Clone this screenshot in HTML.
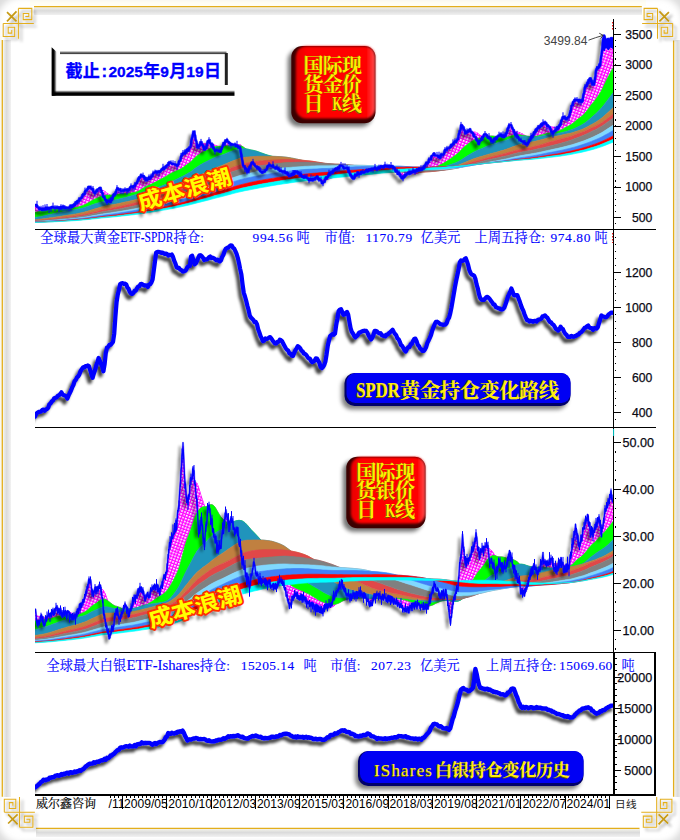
<!DOCTYPE html>
<html><head><meta charset="utf-8"><title>chart</title>
<style>
html,body{margin:0;padding:0;background:#fff;}
body{width:680px;height:840px;overflow:hidden;font-family:"Liberation Sans",sans-serif;}
svg{display:block;}
.ws use{vector-effect:none;}
</style></head><body>
<svg width="680" height="840" viewBox="0 0 680 840">
<defs>
<filter id="lsh" x="-5%" y="-20%" width="110%" height="140%"><feGaussianBlur in="SourceAlpha" stdDeviation="1.5" result="b"/><feOffset in="b" dx="-3.5" dy="3.5" result="o"/><feComponentTransfer in="o" result="s"><feFuncA type="linear" slope="0.6"/></feComponentTransfer><feMerge><feMergeNode in="s"/><feMergeNode in="SourceGraphic"/></feMerge></filter>
<filter id="lsh2" x="-5%" y="-20%" width="110%" height="140%"><feGaussianBlur in="SourceAlpha" stdDeviation="1.4" result="b"/><feOffset in="b" dx="-3.5" dy="3.5" result="o"/><feComponentTransfer in="o" result="s"><feFuncA type="linear" slope="0.75"/></feComponentTransfer><feMerge><feMergeNode in="s"/><feMergeNode in="SourceGraphic"/></feMerge></filter>
<filter id="ornsh" x="-20%" y="-20%" width="150%" height="150%"><feGaussianBlur in="SourceAlpha" stdDeviation="1.6" result="b"/><feOffset in="b" dx="2.5" dy="2.5" result="o"/><feComponentTransfer in="o" result="s"><feFuncA type="linear" slope="0.35"/></feComponentTransfer><feMerge><feMergeNode in="s"/><feMergeNode in="SourceGraphic"/></feMerge></filter>
<filter id="blur05" x="-10%" y="-10%" width="120%" height="120%"><feGaussianBlur stdDeviation="0.5"/></filter>
<filter id="blur1" x="-10%" y="-10%" width="120%" height="120%"><feGaussianBlur stdDeviation="1"/></filter>
<filter id="blur15" x="-10%" y="-30%" width="120%" height="160%"><feGaussianBlur stdDeviation="1.5"/></filter>
<filter id="blur2" x="-10%" y="-20%" width="120%" height="140%"><feGaussianBlur stdDeviation="2"/></filter>
<filter id="blur3" x="-10%" y="-10%" width="120%" height="120%"><feGaussianBlur stdDeviation="3"/></filter>
<linearGradient id="redg" x1="0" y1="0" x2="1" y2="0"><stop offset="0" stop-color="#e80000"/><stop offset="0.15" stop-color="#ff0000"/><stop offset="0.9" stop-color="#ff0505"/><stop offset="1" stop-color="#ff5050"/></linearGradient>
<pattern id="hatch" width="3" height="3" patternUnits="userSpaceOnUse" patternTransform="rotate(20)"><rect x="0" y="0" width="1.8" height="1.7" fill="#fff"/></pattern>
<linearGradient id="dbt" x1="0" y1="0" x2="0" y2="1"><stop offset="0" stop-color="#bbb"/><stop offset="0.6" stop-color="#555"/><stop offset="1" stop-color="#333"/></linearGradient>
<linearGradient id="dbl" x1="0" y1="0" x2="1" y2="0"><stop offset="0" stop-color="#000"/><stop offset="0.45" stop-color="#000"/><stop offset="1" stop-color="#000" stop-opacity="0"/></linearGradient>
<linearGradient id="dbb" x1="0" y1="1" x2="0" y2="0"><stop offset="0" stop-color="#000"/><stop offset="0.5" stop-color="#000"/><stop offset="1" stop-color="#000" stop-opacity="0"/></linearGradient>
<linearGradient id="shV" x1="0" y1="0" x2="0" y2="1"><stop offset="0" stop-color="#f2f2ea"/><stop offset="0.42" stop-color="#dbdbdb"/><stop offset="0.95" stop-color="#f1f1f1"/><stop offset="1" stop-color="#fff"/></linearGradient>
<linearGradient id="shH" x1="0" y1="0" x2="1" y2="0"><stop offset="0" stop-color="#f2f2ea"/><stop offset="0.42" stop-color="#dbdbdb"/><stop offset="0.95" stop-color="#f1f1f1"/><stop offset="1" stop-color="#fff"/></linearGradient>
<clipPath id="clipL"><rect x="35" y="10" width="579" height="790"/></clipPath>
<clipPath id="clipL2"><rect x="35" y="10" width="579" height="790"/></clipPath>
<clipPath id="clipP1"><rect x="35" y="15" width="578.5" height="213.5"/></clipPath>
<clipPath id="clipP3"><rect x="35" y="429" width="578.5" height="223"/></clipPath>
</defs>
<g><rect x="30" y="0" width="616" height="6.2" fill="#fffef4"/><rect x="0" y="36" width="2.2" height="765" fill="#fffef4"/><rect x="-9" y="-9" width="698" height="858" rx="30" fill="none" stroke="#dcdcdc" stroke-width="12" filter="url(#blur3)"/><rect x="34" y="7.2" width="608" height="8.3" fill="url(#shV)"/><rect x="36" y="829" width="604" height="8.3" fill="url(#shV)"/><rect x="3.2" y="40" width="8" height="757" fill="url(#shH)"/><rect x="674.3" y="40" width="8" height="757" fill="url(#shH)"/><g stroke="#e3ae1c" stroke-width="1.3" fill="none"><path d="M34 6.6H641.8"/><path d="M2.3 40V796.8"/><path d="M673.6 40.4V796.8"/><path d="M36 828.4H639.5"/></g><g filter="url(#ornsh)"><path d="M18.4 8.4 31.8 8.4 31.8 19.6 23.2 19.6 23.2 13.4 28.8 13.4 28.8 16.4 25.3 16.4M3.2 23.4 3.2 36.4 14.7 36.4 14.7 27.2 8.2 27.2 8.2 33.1 11.8 33.1 11.8 29.9M3.2 23.4 33.8 23.4M18.4 8.4 18.4 38.7" stroke="#e3ae1c" stroke-width="1.05" fill="none"/><path d="M7 12.2 16.5 21.4M16.5 11.4 7 21.4" stroke="#c79a14" stroke-width="1.7" fill="none"/><path d="M657.5 8.4 644.1 8.4 644.1 19.6 652.7 19.6 652.7 13.4 647.1 13.4 647.1 16.4 650.6 16.4M672.7 23.4 672.7 36.4 661.2 36.4 661.2 27.2 667.7 27.2 667.7 33.1 664.1 33.1 664.1 29.9M672.7 23.4 642.1 23.4M657.5 8.4 657.5 38.7" stroke="#e3ae1c" stroke-width="1.05" fill="none"/><path d="M668.9 12.2 659.4 21.4M659.4 11.4 668.9 21.4" stroke="#c79a14" stroke-width="1.7" fill="none"/><path d="M19.5 827.3 32.9 827.3 32.9 816.1 24.3 816.1 24.3 822.3 29.9 822.3 29.9 819.3 26.4 819.3M4.3 812.3 4.3 799.3 15.8 799.3 15.8 808.5 9.3 808.5 9.3 802.6 12.9 802.6 12.9 805.8M4.3 812.3 34.9 812.3M19.5 827.3 19.5 797" stroke="#e3ae1c" stroke-width="1.05" fill="none"/><path d="M8.1 823.5 17.6 814.3M17.6 824.3 8.1 814.3" stroke="#c79a14" stroke-width="1.7" fill="none"/><path d="M656.7 827.3 643.3 827.3 643.3 816.1 651.9 816.1 651.9 822.3 646.3 822.3 646.3 819.3 649.8 819.3M671.9 812.3 671.9 799.3 660.4 799.3 660.4 808.5 666.9 808.5 666.9 802.6 663.3 802.6 663.3 805.8M671.9 812.3 641.3 812.3M656.7 827.3 656.7 797" stroke="#e3ae1c" stroke-width="1.05" fill="none"/><path d="M668.1 823.5 658.6 814.3M658.6 824.3 668.1 814.3" stroke="#c79a14" stroke-width="1.7" fill="none"/></g></g><g clip-path="url(#clipP1)"><defs><path id="h1" d="M35 205 36 205.6 37 206.7 38 207.8 39 208.9 40 210 41 209.8 42 209.5 43 209.2 44 209 45 208.8 46 208.6 47 208.5 48 208.4 49 208.2 50 208.1 51 208 52 207.9 53 207.8 54 207.6 55 207.5 56 207.5 57 207.5 58 207.5 59 207.5 60 207.5 61 207.5 62 207.5 63 207.5 64 207.5 65 207.5 66 207.5 67 207.5 68 207.3 69 207 70 206.7 71 206.3 72 206 73 205.7 74 205.3 75 205 76 203.8 77 202.5 78 201.2 79 200 80 198.8 81 197.5 82 196.2 83 195 84 193.8 85 192.5 86 191.2 87 190 88 188.8 89 187.5 90 186.2 91 187.5 92 188.8 93 190 94 191.2 95 192.5 96 191.8 97 191 98 190.2 99 189.5 100 188.8 101 191 102 193.2 103 195.5 104 197.8 105 200 106 200.5 107 201 108 201.5 109 202 110 202.5 111 200.7 112 198.8 113 197 114 195.2 115 193.3 116 191.5 117 189.7 118 188.9 119 189.2 120 189.5 121 189.8 122 190.1 123 190.4 124 190.7 125 191 126 190.4 127 189.8 128 189.2 129 188.6 130 188 131 187.4 132 186.8 133 186.2 134 185.6 135 185 136 183.3 137 181.7 138 180 139 178.3 140 176.7 141 175 142 175.8 143 176.5 144 177.3 145 178.1 146 178.8 147 179.6 148 179.5 149 178.5 150 177.5 151 176.5 152 175.5 153 174.5 154 173.5 155 172.5 156 172.2 157 171.8 158 171.5 159 171.2 160 170.8 161 170.5 162 170.2 163 169.5 164 168.5 165 167.5 166 166.5 167 165.5 168 164.5 169 163.5 170 162.5 171 162.8 172 163.2 173 163.5 174 163.8 175 164.2 176 164.5 177 164.8 178 164 179 162 180 160 181 158 182 156 183 154.5 184 153.5 185 152.5 186 151.5 187 150.5 188 149.5 189 148.5 190 147.5 191 143.1 192 138.7 193 134.3 194 132.1 195 136.5 196 140.9 197 145.3 198 146.8 199 145.4 200 143.9 201 142.5 202 144.4 203 146.2 204 148.1 205 150 206 147.3 207 144.7 208 142 209 140.4 210 142 211 143.6 212 145.2 213 146.8 214 148.4 215 150 216 150.5 217 151 218 151.5 219 152 220 152.5 221 150.4 222 148.3 223 146.2 224 144.2 225 142.1 226 140 227 140.8 228 141.5 229 142.2 230 143 231 143.8 232 144.2 233 144.6 234 145 235 145.4 236 145.8 237 146.2 238 146.7 239 147.1 240 147.5 241 153.5 242 159.5 243 163.5 244 165.5 245 167.5 246 169.5 247 171.5 248 171.5 249 169.5 250 167.5 251 165.5 252 163.5 253 163 254 164 255 165 256 166 257 167 258 168 259 169 260 170 261 171 262 172 263 172 264 171 265 170 266 169 267 168 268 167 269 166 270 165 271 165.5 272 166 273 166.5 274 167 275 167.5 276 168 277 168.5 278 169 279 169.5 280 170 281 170.5 282 171 283 171.5 284 172 285 172.5 286 173.2 287 174 288 174.8 289 175.5 290 176.2 291 175.4 292 174.6 293 173.8 294 172.9 295 172.1 296 171.2 297 172 298 172.8 299 173.6 300 174.3 301 175.1 302 175.9 303 176.5 304 177 305 177.5 306 178 307 178.5 308 179 309 179.5 310 180 311 179.7 312 179.3 313 179 314 178.7 315 178.3 316 178 317 177.7 318 178 319 179 320 180 321 181 322 182 323 181.9 324 180.8 325 179.6 326 178.4 327 177.2 328 176.1 329 174.9 330 173.8 331 173 332 172.2 333 171.5 334 170.8 335 170 336 169.2 337 168.5 338 167.8 339 167 340 166.2 341 166.6 342 166.9 343 167.2 344 167.6 345 167.9 346 168.2 347 168.6 348 169.8 349 171.8 350 173.8 351 175.8 352 177.8 353 178.2 354 177.2 355 176.2 356 175.2 357 174.2 358 173.6 359 173.2 360 172.9 361 172.6 362 172.2 363 171.9 364 171.6 365 171.2 366 171 367 170.8 368 170.5 369 170.2 370 170 371 169.8 372 169.5 373 169.2 374 169 375 168.8 376 168.5 377 168.2 378 168 379 167.8 380 167.5 381 167.2 382 167 383 166.8 384 166.5 385 166.2 386 166.2 387 166.2 388 166.2 389 166.2 390 166.2 391 166.2 392 166.2 393 166.9 394 168.1 395 169.4 396 170.6 397 171.9 398 173 399 174 400 175 401 176 402 177 403 177.2 404 176.5 405 175.8 406 175.2 407 174.5 408 173.8 409 173.2 410 172.5 411 172.2 412 171.9 413 171.6 414 171.3 415 171 416 170.7 417 170.4 418 170.1 419 169.8 420 169.5 421 169.2 422 168.9 423 168.1 424 166.9 425 165.6 426 164.4 427 163.1 428 161.8 429 160.4 430 159 431 157.6 432 156.2 433 154.8 434 153.9 435 154.5 436 155.1 437 155.7 438 156.3 439 156.9 440 157.5 441 156.2 442 155 443 153.8 444 152.5 445 151.2 446 150 447 149.2 448 148.4 449 147.6 450 146.8 451 146 452 145.1 453 144.2 454 143.2 455 142.3 456 141.4 457 140.5 458 138.1 459 134.3 460 130.4 461 126.6 462 124.4 463 127.1 464 129.8 465 132.5 466 132 467 131.5 468 131 469 130.5 470 130 471 131.5 472 133 473 134.5 474 136 475 137.5 476 139.2 477 140.8 478 142.5 479 143.3 480 141.8 481 140.2 482 138.6 483 136.9 484 135.3 485 133.8 486 134.8 487 135.8 488 136.8 489 137.8 490 138.8 491 139.8 492 140.8 493 140.8 494 140 495 139.2 496 138.3 497 137.5 498 136.7 499 135.8 500 135 501 135.2 502 135.5 503 135.8 504 136 505 136.2 506 133.8 507 131.2 508 128.8 509 126.2 510 123.8 511 125.8 512 127.8 513 129.8 514 131.8 515 133.8 516 135 517 136.2 518 137.5 519 138.8 520 140 521 140.7 522 141.3 523 142 524 142.7 525 143.3 526 144 527 144.7 528 144.1 529 142.3 530 140.5 531 138.6 532 136.8 533 135 534 133.3 535 131.7 536 130 537 128.3 538 127.2 539 126.5 540 125.8 541 125.2 542 124.5 543 123.8 544 123.2 545 122.5 546 123.8 547 125 548 126.2 549 127.5 550 128.8 551 130.2 552 131.6 553 133 554 131.9 555 130.7 556 129.6 557 128.4 558 127.3 559 126.1 560 125 561 122 562 119 563 117.6 564 117.8 565 118 566 118.2 567 118.4 568 118.6 569 117.6 570 113.1 571 108.6 572 106 573 104 574 102 575 100 576 100.2 577 100.3 578 100.5 579 100.7 580 100.8 581 101 582 101.2 583 98.5 584 93 585 87.5 586 85.8 587 84 588 82.2 589 80.5 590 78.8 591 80.8 592 82.8 593 84.8 594 84.6 595 78.1 596 71.6 597 69 598 67.7 599 66.3 600 65 601 58 602 51 603 43 604 36.6 605 37.9 606 39.2 607 40.6 608 40.9 609 40.2 610 39.6 611 38.9 612 39.3 613 40 613 48.4 611 52.3 609 56.9 607 61.4 605 66.4 603 72.3 601 77.4 599 81.3 597 85 595 88.4 593 90.5 591 92.6 589 95.6 587 99 585 102.5 583 105.5 581 107.4 579 109.4 577 111.9 575 114.9 573 118.1 571 121 569 123.2 567 124.5 565 125.6 563 126.6 561 127.5 559 127.8 557 127.7 555 127.5 553 127.1 551 126.9 549 127.4 547 128.6 545 130.4 543 132.6 541 134.7 539 136.6 537 138.3 535 139.5 533 140.1 531 140 529 139.1 527 137.4 525 135.6 523 134.2 521 133.3 519 132.5 517 132 515 131.9 513 132.3 511 133.5 509 135.3 507 136.7 505 137.3 503 137.4 501 137.5 499 137.9 497 138.3 495 138.6 493 138.5 491 138 489 137.5 487 137 485 136.8 483 136.5 481 135.8 479 134.4 477 132.8 475 132.1 473 132.2 471 132.9 469 134.3 467 135.8 465 137.5 463 139.6 461 142.7 459 145.7 457 147.8 455 149.6 453 151.1 451 152.3 449 153.5 447 154.7 445 156 443 157.3 441 158.4 439 159.5 437 160.8 435 162.4 433 164.3 431 166.2 429 167.8 427 169.1 425 170.3 423 171.2 421 172 419 172.7 417 173.3 415 173.7 413 173.8 411 173.7 409 173.3 407 172.6 405 171.7 403 170.6 401 169.3 399 168.2 397 167.4 395 167 393 166.9 391 167.1 389 167.4 387 167.8 385 168.3 383 168.8 381 169.3 379 169.8 377 170.4 375 170.9 373 171.6 371 172.3 369 173 367 173.5 365 173.6 363 173.5 361 173.2 359 172.8 357 172.1 355 171.3 353 170.3 351 169.3 349 168.8 347 169 345 169.7 343 170.7 341 172 339 173.6 337 175.1 335 176.3 333 177.3 331 178.2 329 178.9 327 179.4 325 179.5 323 179.3 321 178.7 319 178.3 317 177.9 315 177.5 313 177 311 176.3 309 175.5 307 175 305 174.5 303 174 301 173.6 299 173.2 297 173 295 172.8 293 172.4 291 171.7 289 170.7 287 169.6 285 168.8 283 168.3 281 168.1 279 168 277 168 275 168 273 168.1 271 168.1 269 168.2 267 168.3 265 168.2 263 167.9 261 167.1 259 166 257 164.5 255 162.7 253 161.1 251 159.3 249 156.9 247 153.7 245 150.3 243 147.3 241 145.1 239 144.6 237 144.7 235 145.1 233 145.5 231 146 229 146.4 227 146.9 225 147.4 223 147.8 221 147.8 219 147 217 146 215 145.2 213 144.5 211 143.8 209 143.4 207 143.8 205 143.8 203 143.8 201 144.4 199 145.6 197 146.7 195 148.7 193 152.2 191 155.3 189 157.4 187 159.2 185 160.8 183 162.3 181 163.8 179 165 177 165.7 175 166.4 173 167.2 171 168.4 169 169.8 167 171.2 165 172.5 163 173.7 161 174.6 159 175.4 157 176.1 155 177 153 178 151 179 149 180 147 180.8 145 181.7 143 183 141 184.7 139 186.4 137 187.8 135 188.7 133 189.4 131 190.3 129 191.3 127 192.4 125 193.4 123 194.4 121 195.3 119 196.1 117 196.7 115 196.9 113 196.7 111 196 109 194.6 107 193 105 191.6 103 190.5 101 190.3 99 190.8 97 191.6 95 192.4 93 193.5 91 195.1 89 197.2 87 199.3 85 201.2 83 202.9 81 204.3 79 205.5 77 206.3 75 206.8 73 207.1 71 207.4 69 207.5 67 207.6 65 207.7 63 207.8 61 207.9 59 208.1 57 208.3 55 208.4 53 208.4 51 208.2 49 208.2 47 208.1 45 208.1 43 208.1 41 208.1 39 208.1 37 208.4 35 209.1Z"/></defs><use href="#h1" fill="#ff00ff" stroke="#ff00ff" stroke-width="0.6"/><use href="#h1" fill="url(#hatch)"/><defs><path id="h2" d="M35 209.1 37 208.4 39 208.1 41 208.1 43 208.1 45 208.1 47 208.1 49 208.2 51 208.2 53 208.4 55 208.4 57 208.3 59 208.1 61 207.9 63 207.8 65 207.7 67 207.6 69 207.5 71 207.4 73 207.1 75 206.8 77 206.3 79 205.5 81 204.3 83 202.9 85 201.2 87 199.3 89 197.2 91 195.1 93 193.5 95 192.4 97 191.6 99 190.8 101 190.3 103 190.5 105 191.6 107 193 109 194.6 111 196 113 196.7 115 196.9 117 196.7 119 196.1 121 195.3 123 194.4 125 193.4 127 192.4 129 191.3 131 190.3 133 189.4 135 188.7 137 187.8 139 186.4 141 184.7 143 183 145 181.7 147 180.8 149 180 151 179 153 178 155 177 157 176.1 159 175.4 161 174.6 163 173.7 165 172.5 167 171.2 169 169.8 171 168.4 173 167.2 175 166.4 177 165.7 179 165 181 163.8 183 162.3 185 160.8 187 159.2 189 157.4 191 155.3 193 152.2 195 148.7 197 146.7 199 145.6 201 144.4 203 143.8 205 143.8 207 143.8 209 143.4 211 143.8 213 144.5 215 145.2 217 146 219 147 221 147.8 223 147.8 225 147.4 227 146.9 229 146.4 231 146 233 145.5 235 145.1 237 144.7 239 144.6 241 145.1 243 147.3 245 150.3 247 153.7 249 156.9 251 159.3 253 161.1 255 162.7 257 164.5 259 166 261 167.1 263 167.9 265 168.2 267 168.3 269 168.2 271 168.1 273 168.1 275 168 277 168 279 168 281 168.1 283 168.3 285 168.8 287 169.6 289 170.7 291 171.7 293 172.4 295 172.8 297 173 299 173.2 301 173.6 303 174 305 174.5 307 175 309 175.5 311 176.3 313 177 315 177.5 317 177.9 319 178.3 321 178.7 323 179.3 325 179.5 327 179.4 329 178.9 331 178.2 333 177.3 335 176.3 337 175.1 339 173.6 341 172 343 170.7 345 169.7 347 169 349 168.8 351 169.3 353 170.3 355 171.3 357 172.1 359 172.8 361 173.2 363 173.5 365 173.6 367 173.5 369 173 371 172.3 373 171.6 375 170.9 377 170.4 379 169.8 381 169.3 383 168.8 385 168.3 387 167.8 389 167.4 391 167.1 393 166.9 395 167 397 167.4 399 168.2 401 169.3 403 170.6 405 171.7 407 172.6 409 173.3 411 173.7 413 173.8 415 173.7 417 173.3 419 172.7 421 172 423 171.2 425 170.3 427 169.1 429 167.8 431 166.2 433 164.3 435 162.4 437 160.8 439 159.5 441 158.4 443 157.3 445 156 447 154.7 449 153.5 451 152.3 453 151.1 455 149.6 457 147.8 459 145.7 461 142.7 463 139.6 465 137.5 467 135.8 469 134.3 471 132.9 473 132.2 475 132.1 477 132.8 479 134.4 481 135.8 483 136.5 485 136.8 487 137 489 137.5 491 138 493 138.5 495 138.6 497 138.3 499 137.9 501 137.5 503 137.4 505 137.3 507 136.7 509 135.3 511 133.5 513 132.3 515 131.9 517 132 519 132.5 521 133.3 523 134.2 525 135.6 527 137.4 529 139.1 531 140 533 140.1 535 139.5 537 138.3 539 136.6 541 134.7 543 132.6 545 130.4 547 128.6 549 127.4 551 126.9 553 127.1 555 127.5 557 127.7 559 127.8 561 127.5 563 126.6 565 125.6 567 124.5 569 123.2 571 121 573 118.1 575 114.9 577 111.9 579 109.4 581 107.4 583 105.5 585 102.5 587 99 589 95.6 591 92.6 593 90.5 595 88.4 597 85 599 81.3 601 77.4 603 72.3 605 66.4 607 61.4 609 56.9 611 52.3 613 48.4 613 68 611 71.6 609 75.2 607 79 605 83.2 603 87.5 601 91.4 599 94.6 597 97.6 595 100.3 593 102.7 591 105.1 589 107.9 587 110.6 585 113.1 583 115.2 581 116.7 579 118.3 577 119.8 575 121.5 573 123.2 571 124.6 569 125.8 567 126.7 565 127.7 563 128.9 561 130.1 559 131 557 131.6 555 132.1 553 132.4 551 132.6 549 133 547 133.4 545 133.9 543 134.4 541 135 539 135.6 537 136.1 535 136.5 533 136.7 531 136.7 529 136.4 527 136.1 525 135.7 523 135.4 521 135 519 134.7 517 134.6 515 134.7 513 135.2 511 135.9 509 136.6 507 137.1 505 137.2 503 137 501 136.9 499 136.9 497 136.7 495 136.3 493 136 491 135.9 489 136 487 136.4 485 136.9 483 137.5 481 138 479 138.3 477 138.7 475 139.5 473 140.5 471 141.8 469 143.2 467 144.7 465 146.3 463 148.1 461 150.2 459 152.3 457 154 455 155.5 453 157 451 158.4 449 159.8 447 161.1 445 162.3 443 163.5 441 164.5 439 165.4 437 166.5 435 167.6 433 168.8 431 169.8 429 170.5 427 171 425 171.2 423 171.3 421 171.3 419 171.2 417 171.1 415 171 413 170.9 411 170.7 409 170.5 407 170.2 405 169.8 403 169.4 401 169 399 168.7 397 168.6 395 168.6 393 168.9 391 169.2 389 169.6 387 170.1 385 170.6 383 170.9 381 171.2 379 171.3 377 171.4 375 171.5 373 171.6 371 171.6 369 171.7 367 171.8 365 172 363 172.1 361 172.3 359 172.5 357 172.8 355 172.9 353 172.9 351 172.9 349 173.1 347 173.5 345 174.1 343 174.8 341 175.4 339 176.1 337 176.7 335 177.1 333 177.4 331 177.6 329 177.6 327 177.5 325 177.2 323 176.9 321 176.4 319 176 317 175.6 315 175.2 313 174.7 311 174.1 309 173.5 307 172.8 305 172.2 303 171.6 301 171.1 299 170.8 297 170.6 295 170.5 293 170.3 291 169.9 289 169.3 287 168.6 285 168 283 167.6 281 167.3 279 167 277 166.5 275 165.9 273 165.1 271 164.3 269 163.4 267 162.3 265 161.1 263 159.7 261 158.1 259 156.6 257 155.3 255 154.3 253 153.4 251 152.4 249 151.2 247 149.7 245 148.2 243 146.8 241 145.8 239 145.6 237 145.6 235 145.5 233 145.5 231 145.7 229 145.7 227 145.8 225 146 223 146.2 221 146.3 219 146.3 217 146.3 215 146.6 213 147.1 211 148 209 149.1 207 150.2 205 151.1 203 151.9 201 153.1 199 154.4 197 155.7 195 157.4 193 159.6 191 161.6 189 163.2 187 164.6 185 166 183 167.4 181 168.7 179 169.8 177 170.6 175 171.4 173 172.3 171 173.3 169 174.5 167 175.7 165 176.9 163 178 161 179 159 180.1 157 181.2 155 182.3 153 183.3 151 184.2 149 185.1 147 185.9 145 186.9 143 188.2 141 189.5 139 190.7 137 191.6 135 192.3 133 192.6 131 193 129 193.3 127 193.5 125 193.6 123 193.6 121 193.8 119 194.1 117 194.5 115 194.8 113 195 111 195.1 109 195 107 195 105 195.2 103 195.6 101 196.2 99 197.2 97 198.1 95 199 93 199.9 91 201.1 89 202.3 87 203.5 85 204.5 83 205.4 81 206.1 79 206.7 77 207.2 75 207.5 73 207.7 71 207.9 69 207.9 67 207.9 65 208 63 208 61 208.2 59 208.3 57 208.5 55 208.7 53 209 51 209.3 49 209.6 47 209.9 45 210.3 43 210.6 41 211 39 211.5 37 212.1 35 212.6Z"/></defs><use href="#h2" fill="#ff00ff" stroke="#ff00ff" stroke-width="0.6"/><use href="#h2" fill="url(#hatch)"/><path d="M35 212.6 37 212.1 39 211.5 41 211 43 210.6 45 210.3 47 209.9 49 209.6 51 209.3 53 209 55 208.7 57 208.5 59 208.3 61 208.2 63 208 65 208 67 207.9 69 207.9 71 207.9 73 207.7 75 207.5 77 207.2 79 206.7 81 206.1 83 205.4 85 204.5 87 203.5 89 202.3 91 201.1 93 199.9 95 199 97 198.1 99 197.2 101 196.2 103 195.6 105 195.2 107 195 109 195 111 195.1 113 195 115 194.8 117 194.5 119 194.1 121 193.8 123 193.6 125 193.6 127 193.5 129 193.3 131 193 133 192.6 135 192.3 137 191.6 139 190.7 141 189.5 143 188.2 145 186.9 147 185.9 149 185.1 151 184.2 153 183.3 155 182.3 157 181.2 159 180.1 161 179 163 178 165 176.9 167 175.7 169 174.5 171 173.3 173 172.3 175 171.4 177 170.6 179 169.8 181 168.7 183 167.4 185 166 187 164.6 189 163.2 191 161.6 193 159.6 195 157.4 197 155.7 199 154.4 201 153.1 203 151.9 205 151.1 207 150.2 209 149.1 211 148 213 147.1 215 146.6 217 146.3 219 146.3 221 146.3 223 146.2 225 146 227 145.8 229 145.7 231 145.7 233 145.5 235 145.5 237 145.6 239 145.6 241 145.8 243 146.8 245 148.2 247 149.7 249 151.2 251 152.4 253 153.4 255 154.3 257 155.3 259 156.6 261 158.1 263 159.7 265 161.1 267 162.3 269 163.4 271 164.3 273 165.1 275 165.9 277 166.5 279 167 281 167.3 283 167.6 285 168 287 168.6 289 169.3 291 169.9 293 170.3 295 170.5 297 170.6 299 170.8 301 171.1 303 171.6 305 172.2 307 172.8 309 173.5 311 174.1 313 174.7 315 175.2 317 175.6 319 176 321 176.4 323 176.9 325 177.2 327 177.5 329 177.6 331 177.6 333 177.4 335 177.1 337 176.7 339 176.1 341 175.4 343 174.8 345 174.1 347 173.5 349 173.1 351 172.9 353 172.9 355 172.9 357 172.8 359 172.5 361 172.3 363 172.1 365 172 367 171.8 369 171.7 371 171.6 373 171.6 375 171.5 377 171.4 379 171.3 381 171.2 383 170.9 385 170.6 387 170.1 389 169.6 391 169.2 393 168.9 395 168.6 397 168.6 399 168.7 401 169 403 169.4 405 169.8 407 170.2 409 170.5 411 170.7 413 170.9 415 171 417 171.1 419 171.2 421 171.3 423 171.3 425 171.2 427 171 429 170.5 431 169.8 433 168.8 435 167.6 437 166.5 439 165.4 441 164.5 443 163.5 445 162.3 447 161.1 449 159.8 451 158.4 453 157 455 155.5 457 154 459 152.3 461 150.2 463 148.1 465 146.3 467 144.7 469 143.2 471 141.8 473 140.5 475 139.5 477 138.7 479 138.3 481 138 483 137.5 485 136.9 487 136.4 489 136 491 135.9 493 136 495 136.3 497 136.7 499 136.9 501 136.9 503 137 505 137.2 507 137.1 509 136.6 511 135.9 513 135.2 515 134.7 517 134.6 519 134.7 521 135 523 135.4 525 135.7 527 136.1 529 136.4 531 136.7 533 136.7 535 136.5 537 136.1 539 135.6 541 135 543 134.4 545 133.9 547 133.4 549 133 551 132.6 553 132.4 555 132.1 557 131.6 559 131 561 130.1 563 128.9 565 127.7 567 126.7 569 125.8 571 124.6 573 123.2 575 121.5 577 119.8 579 118.3 581 116.7 583 115.2 585 113.1 587 110.6 589 107.9 591 105.1 593 102.7 595 100.3 597 97.6 599 94.6 601 91.4 603 87.5 605 83.2 607 79 609 75.2 611 71.6 613 68 613 92.7 611 95.4 608 99.4 605 103.4 602 107.2 599 110.5 596 113.4 593 116.1 590 118.7 587 121.3 584 123.5 581 125.2 578 126.8 575 128.2 572 129.5 569 130.6 566 131.4 563 132.2 560 132.9 557 133.4 554 133.7 551 134 548 134.5 545 135.2 542 135.9 539 136.5 536 136.9 533 137 530 136.9 527 136.5 524 136.2 521 136.2 518 136.5 515 137.1 512 138 509 139.1 506 140.2 503 141.1 500 142 497 142.9 494 143.7 491 144.7 488 145.8 485 147.1 482 148.4 479 149.6 476 150.9 473 152.4 470 154.2 467 156.1 464 158.1 461 160 458 161.7 455 163 452 164.1 449 165.1 446 166 443 166.8 440 167.5 437 168.2 434 168.9 431 169.6 428 170.2 425 170.5 422 170.8 419 171 416 171.2 413 171.2 410 171.1 407 170.9 404 170.6 401 170.4 398 170.3 395 170.4 392 170.8 389 171.3 386 171.8 383 172.3 380 172.7 377 173.1 374 173.5 371 173.8 368 174 365 174.2 362 174.2 359 174.2 356 174.1 353 174 350 173.9 347 174 344 174.1 341 174.3 338 174.3 335 174.2 332 174.1 329 173.8 326 173.3 323 172.7 320 171.9 317 171.2 314 170.5 311 169.8 308 168.9 305 167.9 302 166.8 299 165.7 296 164.6 293 163.4 290 162.1 287 160.9 284 159.9 281 159 278 158.1 275 157.2 272 156.3 269 155.5 266 154.6 263 153.5 260 152.4 257 151.3 254 150.5 251 149.9 248 149.2 245 148.7 242 148.6 239 149.1 236 149.8 233 150.7 230 151.8 227 152.9 224 154.2 221 155.2 218 156.1 215 157.3 212 158.7 209 160.2 206 161.8 203 163.3 200 165 197 167 194 169.1 191 171.4 188 173.3 185 175 182 176.6 179 178.1 176 179.5 173 181 170 182.5 167 183.9 164 185.1 161 186.2 158 187.2 155 188.2 152 189.1 149 189.9 146 190.8 143 191.9 140 193.1 137 194.2 134 195.1 131 196 128 196.8 125 197.5 122 198.2 119 199 116 199.7 113 200.3 110 200.6 107 200.9 104 201.4 101 202 98 202.9 95 203.8 92 204.8 89 205.9 86 206.9 83 207.9 80 208.6 77 209.3 74 209.8 71 210.3 68 210.8 65 211.3 62 211.9 59 212.5 56 213.1 53 213.8 50 214.5 47 215.1 44 215.7 41 216.4 38 216.9 35 217.4Z" fill="#00ff00" stroke="#00ff00" stroke-width="0.6"/><path d="M35 217.4 38 216.9 41 216.4 44 215.7 47 215.1 50 214.5 53 213.8 56 213.1 59 212.5 62 211.9 65 211.3 68 210.8 71 210.3 74 209.8 77 209.3 80 208.6 83 207.9 86 206.9 89 205.9 92 204.8 95 203.8 98 202.9 101 202 104 201.4 107 200.9 110 200.6 113 200.3 116 199.7 119 199 122 198.2 125 197.5 128 196.8 131 196 134 195.1 137 194.2 140 193.1 143 191.9 146 190.8 149 189.9 152 189.1 155 188.2 158 187.2 161 186.2 164 185.1 167 183.9 170 182.5 173 181 176 179.5 179 178.1 182 176.6 185 175 188 173.3 191 171.4 194 169.1 197 167 200 165 203 163.3 206 161.8 209 160.2 212 158.7 215 157.3 218 156.1 221 155.2 224 154.2 227 152.9 230 151.8 233 150.7 236 149.8 239 149.1 242 148.6 245 148.7 248 149.2 251 149.9 254 150.5 257 151.3 260 152.4 263 153.5 266 154.6 269 155.5 272 156.3 275 157.2 278 158.1 281 159 284 159.9 287 160.9 290 162.1 293 163.4 296 164.6 299 165.7 302 166.8 305 167.9 308 168.9 311 169.8 314 170.5 317 171.2 320 171.9 323 172.7 326 173.3 329 173.8 332 174.1 335 174.2 338 174.3 341 174.3 344 174.1 347 174 350 173.9 353 174 356 174.1 359 174.2 362 174.2 365 174.2 368 174 371 173.8 374 173.5 377 173.1 380 172.7 383 172.3 386 171.8 389 171.3 392 170.8 395 170.4 398 170.3 401 170.4 404 170.6 407 170.9 410 171.1 413 171.2 416 171.2 419 171 422 170.8 425 170.5 428 170.2 431 169.6 434 168.9 437 168.2 440 167.5 443 166.8 446 166 449 165.1 452 164.1 455 163 458 161.7 461 160 464 158.1 467 156.1 470 154.2 473 152.4 476 150.9 479 149.6 482 148.4 485 147.1 488 145.8 491 144.7 494 143.7 497 142.9 500 142 503 141.1 506 140.2 509 139.1 512 138 515 137.1 518 136.5 521 136.2 524 136.2 527 136.5 530 136.9 533 137 536 136.9 539 136.5 542 135.9 545 135.2 548 134.5 551 134 554 133.7 557 133.4 560 132.9 563 132.2 566 131.4 569 130.6 572 129.5 575 128.2 578 126.8 581 125.2 584 123.5 587 121.3 590 118.7 593 116.1 596 113.4 599 110.5 602 107.2 605 103.4 608 99.4 611 95.4 613 92.7 613 107.8 611 109.7 608 112.4 605 115.1 602 117.8 599 120 596 122 593 123.7 590 125.3 587 126.9 584 128.4 581 129.7 578 130.8 575 131.8 572 132.8 569 133.5 566 134.1 563 134.7 560 135.4 557 135.9 554 136.5 551 137.1 548 137.8 545 138.7 542 139.5 539 140.3 536 141.1 533 141.7 530 142.3 527 142.9 524 143.5 521 144.2 518 145 515 146 512 147 509 148.2 506 149.3 503 150.3 500 151.1 497 152 494 152.8 491 153.6 488 154.4 485 155.3 482 156.2 479 157.1 476 158 473 159 470 160.2 467 161.5 464 162.7 461 164 458 165.2 455 166.1 452 166.9 449 167.6 446 168.2 443 168.8 440 169.3 437 169.7 434 170.3 431 170.8 428 171.2 425 171.6 422 171.8 419 172 416 172.1 413 172.2 410 172.3 407 172.2 404 172.2 401 172.1 398 172.1 395 172.1 392 172.3 389 172.4 386 172.5 383 172.6 380 172.6 377 172.6 374 172.5 371 172.4 368 172.3 365 172.2 362 172 359 171.7 356 171.4 353 171.1 350 170.8 347 170.5 344 170.1 341 169.7 338 169.3 335 168.7 332 168.1 329 167.4 326 166.7 323 165.9 320 165.1 317 164.3 314 163.5 311 162.6 308 161.8 305 161.1 302 160.3 299 159.6 296 158.9 293 158.3 290 157.8 287 157.3 284 156.9 281 156.7 278 156.5 275 156.4 272 156.3 269 156.3 266 156.2 263 156.2 260 156.2 257 156.3 254 156.5 251 156.7 248 156.9 245 157.2 242 157.7 239 158.6 236 159.7 233 160.8 230 162 227 163.2 224 164.5 221 165.7 218 166.9 215 168.2 212 169.5 209 171 206 172.4 203 173.8 200 175.2 197 176.7 194 178.2 191 179.8 188 181.2 185 182.5 182 183.8 179 185 176 186.2 173 187.4 170 188.6 167 189.8 164 190.9 161 191.9 158 192.9 155 193.9 152 194.9 149 195.8 146 196.7 143 197.6 140 198.5 137 199.3 134 200 131 200.7 128 201.4 125 202 122 202.7 119 203.4 116 204 113 204.6 110 205.1 107 205.6 104 206.2 101 207 98 207.9 95 208.8 92 209.7 89 210.7 86 211.6 83 212.4 80 213.1 77 213.7 74 214.2 71 214.7 68 215.1 65 215.6 62 216 59 216.5 56 216.9 53 217.4 50 217.8 47 218.3 44 218.7 41 219.1 38 219.4 35 219.7Z" fill="#2094bc" stroke="#2094bc" stroke-width="0.6"/><path d="M35 219.7 38 219.4 41 219.1 44 218.7 47 218.3 50 217.8 53 217.4 56 216.9 59 216.5 62 216 65 215.6 68 215.1 71 214.7 74 214.2 77 213.7 80 213.1 83 212.4 86 211.6 89 210.7 92 209.7 95 208.8 98 207.9 101 207 104 206.2 107 205.6 110 205.1 113 204.6 116 204 119 203.4 122 202.7 125 202 128 201.4 131 200.7 134 200 137 199.3 140 198.5 143 197.6 146 196.7 149 195.8 152 194.9 155 193.9 158 192.9 161 191.9 164 190.9 167 189.8 170 188.6 173 187.4 176 186.2 179 185 182 183.8 185 182.5 188 181.2 191 179.8 194 178.2 197 176.7 200 175.2 203 173.8 206 172.4 209 171 212 169.5 215 168.2 218 166.9 221 165.7 224 164.5 227 163.2 230 162 233 160.8 236 159.7 239 158.6 242 157.7 245 157.2 248 156.9 251 156.7 254 156.5 257 156.3 260 156.2 263 156.2 266 156.2 269 156.3 272 156.3 275 156.4 278 156.5 281 156.7 284 156.9 287 157.3 290 157.8 293 158.3 296 158.9 299 159.6 302 160.3 305 161.1 308 161.8 311 162.6 314 163.5 317 164.3 320 165.1 323 165.9 326 166.7 329 167.4 332 168.1 335 168.7 338 169.3 341 169.7 344 170.1 347 170.5 350 170.8 353 171.1 356 171.4 359 171.7 362 172 365 172.2 368 172.3 371 172.4 374 172.5 377 172.6 380 172.6 383 172.6 386 172.5 389 172.4 392 172.3 395 172.1 398 172.1 401 172.1 404 172.2 407 172.2 410 172.3 413 172.2 416 172.1 419 172 422 171.8 425 171.6 428 171.2 431 170.8 434 170.3 437 169.7 440 169.3 443 168.8 446 168.2 449 167.6 452 166.9 455 166.1 458 165.2 461 164 464 162.7 467 161.5 470 160.2 473 159 476 158 479 157.1 482 156.2 485 155.3 488 154.4 491 153.6 494 152.8 497 152 500 151.1 503 150.3 506 149.3 509 148.2 512 147 515 146 518 145 521 144.2 524 143.5 527 142.9 530 142.3 533 141.7 536 141.1 539 140.3 542 139.5 545 138.7 548 137.8 551 137.1 554 136.5 557 135.9 560 135.4 563 134.7 566 134.1 569 133.5 572 132.8 575 131.8 578 130.8 581 129.7 584 128.4 587 126.9 590 125.3 593 123.7 596 122 599 120 602 117.8 605 115.1 608 112.4 611 109.7 613 107.8 613 114.2 611 115.8 608 118.1 605 120.3 602 122.5 599 124.3 596 125.9 593 127.3 590 128.6 587 130 584 131.4 581 132.5 578 133.7 575 134.8 572 135.9 569 136.9 566 137.7 563 138.5 560 139.3 557 140.1 554 140.9 551 141.6 548 142.5 545 143.4 542 144.4 539 145.2 536 146.1 533 146.8 530 147.5 527 148 524 148.6 521 149.2 518 149.9 515 150.6 512 151.4 509 152.3 506 153.2 503 153.9 500 154.7 497 155.5 494 156.2 491 157 488 157.8 485 158.6 482 159.5 479 160.2 476 161 473 161.8 470 162.8 467 163.7 464 164.7 461 165.7 458 166.6 455 167.4 452 168.2 449 168.8 446 169.5 443 170 440 170.5 437 170.9 434 171.3 431 171.6 428 171.8 425 172 422 172.1 419 172.1 416 172 413 171.9 410 171.8 407 171.7 404 171.5 401 171.3 398 171.1 395 171 392 171 389 171 386 171 383 170.9 380 170.8 377 170.7 374 170.5 371 170.2 368 169.9 365 169.4 362 169 359 168.5 356 168 353 167.5 350 167.1 347 166.7 344 166.4 341 166.1 338 165.7 335 165.3 332 164.9 329 164.3 326 163.7 323 163.1 320 162.5 317 162 314 161.5 311 161.1 308 160.8 305 160.5 302 160.2 299 160 296 159.8 293 159.7 290 159.6 287 159.5 284 159.5 281 159.6 278 159.7 275 159.9 272 160.1 269 160.3 266 160.5 263 160.8 260 161.1 257 161.4 254 161.8 251 162.3 248 162.8 245 163.4 242 164.1 239 165.1 236 166.2 233 167.3 230 168.4 227 169.4 224 170.5 221 171.6 218 172.6 215 173.6 212 174.8 209 176.1 206 177.5 203 178.8 200 180.2 197 181.6 194 183.1 191 184.7 188 186 185 187.2 182 188.4 179 189.5 176 190.6 173 191.6 170 192.6 167 193.7 164 194.6 161 195.5 158 196.4 155 197.3 152 198.2 149 199 146 199.9 143 200.7 140 201.6 137 202.4 134 203.1 131 203.9 128 204.6 125 205.2 122 205.9 119 206.6 116 207.2 113 207.8 110 208.4 107 208.9 104 209.5 101 210.1 98 210.9 95 211.7 92 212.4 89 213.2 86 213.9 83 214.6 80 215.1 77 215.6 74 216.1 71 216.5 68 216.8 65 217.2 62 217.6 59 218 56 218.3 53 218.7 50 219.1 47 219.4 44 219.8 41 220 38 220.3 35 220.5Z" fill="#c08040" stroke="#c08040" stroke-width="0.6"/><path d="M35 220.5 38 220.3 41 220 44 219.8 47 219.4 50 219.1 53 218.7 56 218.3 59 218 62 217.6 65 217.2 68 216.8 71 216.5 74 216.1 77 215.6 80 215.1 83 214.6 86 213.9 89 213.2 92 212.4 95 211.7 98 210.9 101 210.1 104 209.5 107 208.9 110 208.4 113 207.8 116 207.2 119 206.6 122 205.9 125 205.2 128 204.6 131 203.9 134 203.1 137 202.4 140 201.6 143 200.7 146 199.9 149 199 152 198.2 155 197.3 158 196.4 161 195.5 164 194.6 167 193.7 170 192.6 173 191.6 176 190.6 179 189.5 182 188.4 185 187.2 188 186 191 184.7 194 183.1 197 181.6 200 180.2 203 178.8 206 177.5 209 176.1 212 174.8 215 173.6 218 172.6 221 171.6 224 170.5 227 169.4 230 168.4 233 167.3 236 166.2 239 165.1 242 164.1 245 163.4 248 162.8 251 162.3 254 161.8 257 161.4 260 161.1 263 160.8 266 160.5 269 160.3 272 160.1 275 159.9 278 159.7 281 159.6 284 159.5 287 159.5 290 159.6 293 159.7 296 159.8 299 160 302 160.2 305 160.5 308 160.8 311 161.1 314 161.5 317 162 320 162.5 323 163.1 326 163.7 329 164.3 332 164.9 335 165.3 338 165.7 341 166.1 344 166.4 347 166.7 350 167.1 353 167.5 356 168 359 168.5 362 169 365 169.4 368 169.9 371 170.2 374 170.5 377 170.7 380 170.8 383 170.9 386 171 389 171 392 171 395 171 398 171.1 401 171.3 404 171.5 407 171.7 410 171.8 413 171.9 416 172 419 172.1 422 172.1 425 172 428 171.8 431 171.6 434 171.3 437 170.9 440 170.5 443 170 446 169.5 449 168.8 452 168.2 455 167.4 458 166.6 461 165.7 464 164.7 467 163.7 470 162.8 473 161.8 476 161 479 160.2 482 159.5 485 158.6 488 157.8 491 157 494 156.2 497 155.5 500 154.7 503 153.9 506 153.2 509 152.3 512 151.4 515 150.6 518 149.9 521 149.2 524 148.6 527 148 530 147.5 533 146.8 536 146.1 539 145.2 542 144.4 545 143.4 548 142.5 551 141.6 554 140.9 557 140.1 560 139.3 563 138.5 566 137.7 569 136.9 572 135.9 575 134.8 578 133.7 581 132.5 584 131.4 587 130 590 128.6 593 127.3 596 125.9 599 124.3 602 122.5 605 120.3 608 118.1 611 115.8 613 114.2 613 118.3 611 119.7 608 121.8 605 123.9 602 126 599 127.7 596 129.4 593 130.8 590 132.3 587 133.7 584 135.1 581 136.3 578 137.5 575 138.6 572 139.8 569 140.8 566 141.7 563 142.6 560 143.5 557 144.2 554 145 551 145.7 548 146.4 545 147.2 542 147.9 539 148.6 536 149.3 533 149.9 530 150.5 527 151 524 151.6 521 152.2 518 152.8 515 153.5 512 154.3 509 155.2 506 155.9 503 156.6 500 157.2 497 157.9 494 158.5 491 159.2 488 159.8 485 160.6 482 161.4 479 162.1 476 162.9 473 163.7 470 164.6 467 165.5 464 166.3 461 167.1 458 167.9 455 168.5 452 169 449 169.5 446 169.9 443 170.3 440 170.6 437 170.8 434 171 431 171.2 428 171.3 425 171.3 422 171.3 419 171.2 416 171 413 170.9 410 170.8 407 170.6 404 170.4 401 170.1 398 169.8 395 169.6 392 169.3 389 169.1 386 168.8 383 168.6 380 168.3 377 168.1 374 167.8 371 167.5 368 167.2 365 166.8 362 166.5 359 166.1 356 165.7 353 165.3 350 164.9 347 164.6 344 164.4 341 164.3 338 164.1 335 164 332 163.8 329 163.6 326 163.4 323 163.2 320 162.9 317 162.7 314 162.5 311 162.4 308 162.3 305 162.2 302 162.2 299 162.2 296 162.3 293 162.4 290 162.5 287 162.6 284 162.8 281 163.1 278 163.4 275 163.7 272 164.1 269 164.5 266 164.9 263 165.3 260 165.6 257 166 254 166.4 251 166.9 248 167.4 245 167.9 242 168.6 239 169.5 236 170.5 233 171.5 230 172.6 227 173.7 224 174.9 221 176 218 177.1 215 178.2 212 179.4 209 180.6 206 181.9 203 183.1 200 184.4 197 185.6 194 186.9 191 188.3 188 189.5 185 190.6 182 191.7 179 192.7 176 193.6 173 194.6 170 195.6 167 196.6 164 197.5 161 198.4 158 199.3 155 200.2 152 201.1 149 201.9 146 202.7 143 203.5 140 204.4 137 205.2 134 205.9 131 206.5 128 207.2 125 207.8 122 208.4 119 209 116 209.5 113 210.1 110 210.6 107 211 104 211.5 101 212.1 98 212.8 95 213.5 92 214.1 89 214.8 86 215.4 83 215.9 80 216.4 77 216.8 74 217.2 71 217.6 68 217.9 65 218.2 62 218.5 59 218.9 56 219.2 53 219.5 50 219.8 47 220.1 44 220.4 41 220.6 38 220.8 35 221Z" fill="#e04848" stroke="#e04848" stroke-width="0.6"/><path d="M35 221 38 220.8 41 220.6 44 220.4 47 220.1 50 219.8 53 219.5 56 219.2 59 218.9 62 218.5 65 218.2 68 217.9 71 217.6 74 217.2 77 216.8 80 216.4 83 215.9 86 215.4 89 214.8 92 214.1 95 213.5 98 212.8 101 212.1 104 211.5 107 211 110 210.6 113 210.1 116 209.5 119 209 122 208.4 125 207.8 128 207.2 131 206.5 134 205.9 137 205.2 140 204.4 143 203.5 146 202.7 149 201.9 152 201.1 155 200.2 158 199.3 161 198.4 164 197.5 167 196.6 170 195.6 173 194.6 176 193.6 179 192.7 182 191.7 185 190.6 188 189.5 191 188.3 194 186.9 197 185.6 200 184.4 203 183.1 206 181.9 209 180.6 212 179.4 215 178.2 218 177.1 221 176 224 174.9 227 173.7 230 172.6 233 171.5 236 170.5 239 169.5 242 168.6 245 167.9 248 167.4 251 166.9 254 166.4 257 166 260 165.6 263 165.3 266 164.9 269 164.5 272 164.1 275 163.7 278 163.4 281 163.1 284 162.8 287 162.6 290 162.5 293 162.4 296 162.3 299 162.2 302 162.2 305 162.2 308 162.3 311 162.4 314 162.5 317 162.7 320 162.9 323 163.2 326 163.4 329 163.6 332 163.8 335 164 338 164.1 341 164.3 344 164.4 347 164.6 350 164.9 353 165.3 356 165.7 359 166.1 362 166.5 365 166.8 368 167.2 371 167.5 374 167.8 377 168.1 380 168.3 383 168.6 386 168.8 389 169.1 392 169.3 395 169.6 398 169.8 401 170.1 404 170.4 407 170.6 410 170.8 413 170.9 416 171 419 171.2 422 171.3 425 171.3 428 171.3 431 171.2 434 171 437 170.8 440 170.6 443 170.3 446 169.9 449 169.5 452 169 455 168.5 458 167.9 461 167.1 464 166.3 467 165.5 470 164.6 473 163.7 476 162.9 479 162.1 482 161.4 485 160.6 488 159.8 491 159.2 494 158.5 497 157.9 500 157.2 503 156.6 506 155.9 509 155.2 512 154.3 515 153.5 518 152.8 521 152.2 524 151.6 527 151 530 150.5 533 149.9 536 149.3 539 148.6 542 147.9 545 147.2 548 146.4 551 145.7 554 145 557 144.2 560 143.5 563 142.6 566 141.7 569 140.8 572 139.8 575 138.6 578 137.5 581 136.3 584 135.1 587 133.7 590 132.3 593 130.8 596 129.4 599 127.7 602 126 605 123.9 608 121.8 611 119.7 613 118.3 613 125.3 611 126.6 608 128.6 605 130.5 602 132.4 599 134.1 596 135.6 593 137 590 138.3 587 139.6 584 140.8 581 141.8 578 142.8 575 143.8 572 144.7 569 145.5 566 146.3 563 147.1 560 147.8 557 148.5 554 149.1 551 149.8 548 150.4 545 151.1 542 151.8 539 152.4 536 153 533 153.5 530 154.1 527 154.6 524 155.1 521 155.6 518 156.2 515 156.8 512 157.5 509 158.2 506 158.9 503 159.5 500 160.1 497 160.7 494 161.2 491 161.8 488 162.3 485 162.9 482 163.5 479 164 476 164.6 473 165.1 470 165.7 467 166.3 464 166.8 461 167.4 458 168 455 168.3 452 168.7 449 169 446 169.3 443 169.4 440 169.5 437 169.6 434 169.6 431 169.6 428 169.5 425 169.3 422 169.1 419 168.8 416 168.6 413 168.3 410 168 407 167.8 404 167.5 401 167.2 398 166.9 395 166.6 392 166.5 389 166.3 386 166.1 383 166 380 165.9 377 165.8 374 165.7 371 165.6 368 165.5 365 165.4 362 165.3 359 165.3 356 165.2 353 165.2 350 165.2 347 165.2 344 165.3 341 165.4 338 165.5 335 165.6 332 165.6 329 165.7 326 165.7 323 165.7 320 165.7 317 165.8 314 165.9 311 166 308 166.2 305 166.3 302 166.5 299 166.7 296 166.9 293 167.1 290 167.4 287 167.6 284 167.8 281 168.1 278 168.5 275 168.8 272 169.3 269 169.7 266 170.2 263 170.6 260 171.1 257 171.6 254 172.2 251 172.9 248 173.5 245 174.1 242 174.9 239 175.7 236 176.7 233 177.7 230 178.7 227 179.7 224 180.8 221 181.8 218 182.7 215 183.8 212 184.8 209 186 206 187.1 203 188.2 200 189.4 197 190.5 194 191.7 191 193 188 194.1 185 195.2 182 196.2 179 197.2 176 198.1 173 199 170 199.9 167 200.8 164 201.6 161 202.5 158 203.3 155 204 152 204.8 149 205.5 146 206.2 143 206.9 140 207.6 137 208.3 134 208.9 131 209.4 128 210 125 210.5 122 211 119 211.5 116 212 113 212.4 110 212.9 107 213.3 104 213.7 101 214.2 98 214.8 95 215.3 92 215.8 89 216.4 86 216.9 83 217.3 80 217.7 77 218.1 74 218.4 71 218.7 68 219 65 219.2 62 219.5 59 219.8 56 220.1 53 220.3 50 220.6 47 220.8 44 221 41 221.2 38 221.3 35 221.5Z" fill="#808080" stroke="#808080" stroke-width="0.6"/><path d="M35 221.5 38 221.3 41 221.2 44 221 47 220.8 50 220.6 53 220.3 56 220.1 59 219.8 62 219.5 65 219.2 68 219 71 218.7 74 218.4 77 218.1 80 217.7 83 217.3 86 216.9 89 216.4 92 215.8 95 215.3 98 214.8 101 214.2 104 213.7 107 213.3 110 212.9 113 212.4 116 212 119 211.5 122 211 125 210.5 128 210 131 209.4 134 208.9 137 208.3 140 207.6 143 206.9 146 206.2 149 205.5 152 204.8 155 204 158 203.3 161 202.5 164 201.6 167 200.8 170 199.9 173 199 176 198.1 179 197.2 182 196.2 185 195.2 188 194.1 191 193 194 191.7 197 190.5 200 189.4 203 188.2 206 187.1 209 186 212 184.8 215 183.8 218 182.7 221 181.8 224 180.8 227 179.7 230 178.7 233 177.7 236 176.7 239 175.7 242 174.9 245 174.1 248 173.5 251 172.9 254 172.2 257 171.6 260 171.1 263 170.6 266 170.2 269 169.7 272 169.3 275 168.8 278 168.5 281 168.1 284 167.8 287 167.6 290 167.4 293 167.1 296 166.9 299 166.7 302 166.5 305 166.3 308 166.2 311 166 314 165.9 317 165.8 320 165.7 323 165.7 326 165.7 329 165.7 332 165.6 335 165.6 338 165.5 341 165.4 344 165.3 347 165.2 350 165.2 353 165.2 356 165.2 359 165.3 362 165.3 365 165.4 368 165.5 371 165.6 374 165.7 377 165.8 380 165.9 383 166 386 166.1 389 166.3 392 166.5 395 166.6 398 166.9 401 167.2 404 167.5 407 167.8 410 168 413 168.3 416 168.6 419 168.8 422 169.1 425 169.3 428 169.5 431 169.6 434 169.6 437 169.6 440 169.5 443 169.4 446 169.3 449 169 452 168.7 455 168.3 458 168 461 167.4 464 166.8 467 166.3 470 165.7 473 165.1 476 164.6 479 164 482 163.5 485 162.9 488 162.3 491 161.8 494 161.2 497 160.7 500 160.1 503 159.5 506 158.9 509 158.2 512 157.5 515 156.8 518 156.2 521 155.6 524 155.1 527 154.6 530 154.1 533 153.5 536 153 539 152.4 542 151.8 545 151.1 548 150.4 551 149.8 554 149.1 557 148.5 560 147.8 563 147.1 566 146.3 569 145.5 572 144.7 575 143.8 578 142.8 581 141.8 584 140.8 587 139.6 590 138.3 593 137 596 135.6 599 134.1 602 132.4 605 130.5 608 128.6 611 126.6 613 125.3 613 130.6 611 131.7 608 133.5 605 135.1 602 136.8 599 138.2 596 139.5 593 140.7 590 141.9 587 143 584 144.1 581 145.1 578 146 575 146.9 572 147.7 569 148.5 566 149.2 563 149.9 560 150.6 557 151.1 554 151.7 551 152.3 548 152.8 545 153.4 542 154.1 539 154.7 536 155.2 533 155.8 530 156.3 527 156.7 524 157.2 521 157.6 518 158.1 515 158.6 512 159.1 509 159.7 506 160.3 503 160.7 500 161.2 497 161.6 494 162.1 491 162.5 488 162.9 485 163.4 482 163.9 479 164.3 476 164.7 473 165.2 470 165.7 467 166.1 464 166.6 461 167 458 167.4 455 167.6 452 167.8 449 167.9 446 168 443 168 440 168 437 168 434 168 431 168 428 167.9 425 167.8 422 167.6 419 167.4 416 167.2 413 167 410 166.8 407 166.6 404 166.4 401 166.2 398 166.1 395 166.1 392 166.1 389 166.1 386 166.1 383 166.2 380 166.2 377 166.3 374 166.3 371 166.4 368 166.4 365 166.5 362 166.6 359 166.7 356 166.8 353 166.9 350 167 347 167.1 344 167.3 341 167.6 338 167.8 335 168 332 168.2 329 168.4 326 168.5 323 168.6 320 168.7 317 168.9 314 169 311 169.2 308 169.3 305 169.5 302 169.7 299 170 296 170.3 293 170.6 290 170.9 287 171.3 284 171.7 281 172.1 278 172.5 275 173 272 173.5 269 174 266 174.5 263 174.9 260 175.4 257 176 254 176.5 251 177.2 248 177.8 245 178.4 242 179.2 239 180 236 180.9 233 181.8 230 182.8 227 183.8 224 184.9 221 185.9 218 186.8 215 187.8 212 188.8 209 189.9 206 191 203 192.1 200 193.2 197 194.2 194 195.3 191 196.4 188 197.5 185 198.4 182 199.3 179 200.2 176 201 173 201.8 170 202.6 167 203.4 164 204.2 161 204.9 158 205.7 155 206.4 152 207 149 207.7 146 208.3 143 208.9 140 209.5 137 210.1 134 210.6 131 211.1 128 211.6 125 212.1 122 212.5 119 213 116 213.4 113 213.9 110 214.3 107 214.6 104 215 101 215.4 98 215.9 95 216.4 92 216.8 89 217.3 86 217.8 83 218.2 80 218.5 77 218.8 74 219.1 71 219.4 68 219.6 65 219.9 62 220.1 59 220.3 56 220.6 53 220.8 50 221 47 221.2 44 221.4 41 221.5 38 221.7 35 221.8Z" fill="#80d8ff" stroke="#80d8ff" stroke-width="0.6"/><path d="M35 221.8 38 221.7 41 221.5 44 221.4 47 221.2 50 221 53 220.8 56 220.6 59 220.3 62 220.1 65 219.9 68 219.6 71 219.4 74 219.1 77 218.8 80 218.5 83 218.2 86 217.8 89 217.3 92 216.8 95 216.4 98 215.9 101 215.4 104 215 107 214.6 110 214.3 113 213.9 116 213.4 119 213 122 212.5 125 212.1 128 211.6 131 211.1 134 210.6 137 210.1 140 209.5 143 208.9 146 208.3 149 207.7 152 207 155 206.4 158 205.7 161 204.9 164 204.2 167 203.4 170 202.6 173 201.8 176 201 179 200.2 182 199.3 185 198.4 188 197.5 191 196.4 194 195.3 197 194.2 200 193.2 203 192.1 206 191 209 189.9 212 188.8 215 187.8 218 186.8 221 185.9 224 184.9 227 183.8 230 182.8 233 181.8 236 180.9 239 180 242 179.2 245 178.4 248 177.8 251 177.2 254 176.5 257 176 260 175.4 263 174.9 266 174.5 269 174 272 173.5 275 173 278 172.5 281 172.1 284 171.7 287 171.3 290 170.9 293 170.6 296 170.3 299 170 302 169.7 305 169.5 308 169.3 311 169.2 314 169 317 168.9 320 168.7 323 168.6 326 168.5 329 168.4 332 168.2 335 168 338 167.8 341 167.6 344 167.3 347 167.1 350 167 353 166.9 356 166.8 359 166.7 362 166.6 365 166.5 368 166.4 371 166.4 374 166.3 377 166.3 380 166.2 383 166.2 386 166.1 389 166.1 392 166.1 395 166.1 398 166.1 401 166.2 404 166.4 407 166.6 410 166.8 413 167 416 167.2 419 167.4 422 167.6 425 167.8 428 167.9 431 168 434 168 437 168 440 168 443 168 446 168 449 167.9 452 167.8 455 167.6 458 167.4 461 167 464 166.6 467 166.1 470 165.7 473 165.2 476 164.7 479 164.3 482 163.9 485 163.4 488 162.9 491 162.5 494 162.1 497 161.6 500 161.2 503 160.7 506 160.3 509 159.7 512 159.1 515 158.6 518 158.1 521 157.6 524 157.2 527 156.7 530 156.3 533 155.8 536 155.2 539 154.7 542 154.1 545 153.4 548 152.8 551 152.3 554 151.7 557 151.1 560 150.6 563 149.9 566 149.2 569 148.5 572 147.7 575 146.9 578 146 581 145.1 584 144.1 587 143 590 141.9 593 140.7 596 139.5 599 138.2 602 136.8 605 135.1 608 133.5 611 131.7 613 130.6 613 135.9 611 136.9 608 138.4 605 139.9 602 141.3 599 142.5 596 143.7 593 144.7 590 145.7 587 146.7 584 147.6 581 148.5 578 149.3 575 150 572 150.8 569 151.5 566 152.1 563 152.7 560 153.3 557 153.9 554 154.3 551 154.8 548 155.3 545 155.8 542 156.3 539 156.8 536 157.2 533 157.6 530 158 527 158.4 524 158.7 521 159 518 159.4 515 159.8 512 160.2 509 160.7 506 161.1 503 161.5 500 161.8 497 162.2 494 162.5 491 162.8 488 163.1 485 163.4 482 163.7 479 164 476 164.2 473 164.5 470 164.8 467 165.1 464 165.4 461 165.7 458 166 455 166.2 452 166.3 449 166.5 446 166.6 443 166.6 440 166.7 437 166.8 434 166.8 431 166.9 428 167 425 167 422 167 419 167 416 167 413 167.1 410 167.1 407 167.1 404 167.2 401 167.2 398 167.3 395 167.4 392 167.6 389 167.7 386 167.9 383 168.1 380 168.3 377 168.5 374 168.7 371 168.9 368 169.1 365 169.4 362 169.6 359 169.8 356 170 353 170.2 350 170.3 347 170.6 344 170.8 341 171.1 338 171.3 335 171.6 332 171.8 329 172.1 326 172.3 323 172.5 320 172.7 317 173 314 173.2 311 173.5 308 173.8 305 174.1 302 174.4 299 174.7 296 175.1 293 175.5 290 175.8 287 176.2 284 176.6 281 177 278 177.4 275 177.9 272 178.4 269 178.9 266 179.4 263 179.9 260 180.4 257 181 254 181.7 251 182.3 248 183 245 183.7 242 184.4 239 185.2 236 186.1 233 187 230 187.9 227 188.9 224 189.8 221 190.7 218 191.6 215 192.5 212 193.5 209 194.4 206 195.4 203 196.3 200 197.2 197 198.2 194 199.1 191 200.1 188 201 185 201.8 182 202.6 179 203.4 176 204.1 173 204.8 170 205.5 167 206.2 164 206.9 161 207.5 158 208.1 155 208.7 152 209.3 149 209.9 146 210.4 143 210.9 140 211.5 137 212 134 212.5 131 212.9 128 213.3 125 213.7 122 214.1 119 214.5 116 214.9 113 215.3 110 215.6 107 216 104 216.3 101 216.7 98 217.1 95 217.5 92 217.9 89 218.3 86 218.7 83 219 80 219.3 77 219.6 74 219.8 71 220 68 220.3 65 220.5 62 220.7 59 220.9 56 221.1 53 221.3 50 221.4 47 221.6 44 221.7 41 221.9 38 222 35 222.1Z" fill="#4080f8" stroke="#4080f8" stroke-width="0.6"/><path d="M35 222.1 38 222 41 221.9 44 221.7 47 221.6 50 221.4 53 221.3 56 221.1 59 220.9 62 220.7 65 220.5 68 220.3 71 220 74 219.8 77 219.6 80 219.3 83 219 86 218.7 89 218.3 92 217.9 95 217.5 98 217.1 101 216.7 104 216.3 107 216 110 215.6 113 215.3 116 214.9 119 214.5 122 214.1 125 213.7 128 213.3 131 212.9 134 212.5 137 212 140 211.5 143 210.9 146 210.4 149 209.9 152 209.3 155 208.7 158 208.1 161 207.5 164 206.9 167 206.2 170 205.5 173 204.8 176 204.1 179 203.4 182 202.6 185 201.8 188 201 191 200.1 194 199.1 197 198.2 200 197.2 203 196.3 206 195.4 209 194.4 212 193.5 215 192.5 218 191.6 221 190.7 224 189.8 227 188.9 230 187.9 233 187 236 186.1 239 185.2 242 184.4 245 183.7 248 183 251 182.3 254 181.7 257 181 260 180.4 263 179.9 266 179.4 269 178.9 272 178.4 275 177.9 278 177.4 281 177 284 176.6 287 176.2 290 175.8 293 175.5 296 175.1 299 174.7 302 174.4 305 174.1 308 173.8 311 173.5 314 173.2 317 173 320 172.7 323 172.5 326 172.3 329 172.1 332 171.8 335 171.6 338 171.3 341 171.1 344 170.8 347 170.6 350 170.3 353 170.2 356 170 359 169.8 362 169.6 365 169.4 368 169.1 371 168.9 374 168.7 377 168.5 380 168.3 383 168.1 386 167.9 389 167.7 392 167.6 395 167.4 398 167.3 401 167.2 404 167.2 407 167.1 410 167.1 413 167.1 416 167 419 167 422 167 425 167 428 167 431 166.9 434 166.8 437 166.8 440 166.7 443 166.6 446 166.6 449 166.5 452 166.3 455 166.2 458 166 461 165.7 464 165.4 467 165.1 470 164.8 473 164.5 476 164.2 479 164 482 163.7 485 163.4 488 163.1 491 162.8 494 162.5 497 162.2 500 161.8 503 161.5 506 161.1 509 160.7 512 160.2 515 159.8 518 159.4 521 159 524 158.7 527 158.4 530 158 533 157.6 536 157.2 539 156.8 542 156.3 545 155.8 548 155.3 551 154.8 554 154.3 557 153.9 560 153.3 563 152.7 566 152.1 569 151.5 572 150.8 575 150 578 149.3 581 148.5 584 147.6 587 146.7 590 145.7 593 144.7 596 143.7 599 142.5 602 141.3 605 139.9 608 138.4 611 136.9 613 135.9 613 139.3 611 140.2 608 141.5 605 142.8 602 144.1 599 145.2 596 146.3 593 147.2 590 148.1 587 149 584 149.9 581 150.6 578 151.3 575 152 572 152.7 569 153.3 566 153.8 563 154.4 560 154.9 557 155.3 554 155.7 551 156.1 548 156.5 545 157 542 157.4 539 157.8 536 158.3 533 158.6 530 159 527 159.3 524 159.5 521 159.8 518 160.1 515 160.4 512 160.7 509 161 506 161.3 503 161.6 500 161.9 497 162.1 494 162.4 491 162.6 488 162.9 485 163.2 482 163.5 479 163.7 476 164 473 164.2 470 164.5 467 164.9 464 165.2 461 165.6 458 165.9 455 166.1 452 166.4 449 166.6 446 166.9 443 167.1 440 167.2 437 167.4 434 167.6 431 167.8 428 167.9 425 168.1 422 168.2 419 168.3 416 168.4 413 168.6 410 168.7 407 168.8 404 169 401 169.1 398 169.3 395 169.5 392 169.8 389 170 386 170.3 383 170.5 380 170.8 377 171 374 171.2 371 171.5 368 171.7 365 172 362 172.2 359 172.4 356 172.7 353 172.9 350 173.2 347 173.5 344 173.8 341 174.1 338 174.4 335 174.8 332 175.1 329 175.4 326 175.6 323 175.9 320 176.1 317 176.4 314 176.7 311 177 308 177.2 305 177.5 302 177.9 299 178.2 296 178.6 293 179 290 179.4 287 179.8 284 180.2 281 180.7 278 181.2 275 181.7 272 182.2 269 182.7 266 183.3 263 183.8 260 184.3 257 184.9 254 185.6 251 186.2 248 186.8 245 187.5 242 188.1 239 188.9 236 189.7 233 190.6 230 191.4 227 192.3 224 193.2 221 194 218 194.8 215 195.6 212 196.5 209 197.4 206 198.2 203 199.1 200 199.9 197 200.8 194 201.6 191 202.5 188 203.3 185 204.1 182 204.8 179 205.5 176 206.1 173 206.8 170 207.4 167 208 164 208.6 161 209.2 158 209.8 155 210.3 152 210.8 149 211.3 146 211.8 143 212.3 140 212.8 137 213.2 134 213.7 131 214 128 214.4 125 214.8 122 215.2 119 215.5 116 215.9 113 216.2 110 216.6 107 216.8 104 217.1 101 217.5 98 217.8 95 218.2 92 218.5 89 218.9 86 219.2 83 219.5 80 219.8 77 220.1 74 220.3 71 220.5 68 220.7 65 220.9 62 221.1 59 221.2 56 221.4 53 221.6 50 221.7 47 221.8 44 222 41 222.1 38 222.2 35 222.3Z" fill="#ff0000" stroke="#ff0000" stroke-width="0.6"/><path d="M35 222.3 38 222.2 41 222.1 44 222 47 221.8 50 221.7 53 221.6 56 221.4 59 221.2 62 221.1 65 220.9 68 220.7 71 220.5 74 220.3 77 220.1 80 219.8 83 219.5 86 219.2 89 218.9 92 218.5 95 218.2 98 217.8 101 217.5 104 217.1 107 216.8 110 216.6 113 216.2 116 215.9 119 215.5 122 215.2 125 214.8 128 214.4 131 214 134 213.7 137 213.2 140 212.8 143 212.3 146 211.8 149 211.3 152 210.8 155 210.3 158 209.8 161 209.2 164 208.6 167 208 170 207.4 173 206.8 176 206.1 179 205.5 182 204.8 185 204.1 188 203.3 191 202.5 194 201.6 197 200.8 200 199.9 203 199.1 206 198.2 209 197.4 212 196.5 215 195.6 218 194.8 221 194 224 193.2 227 192.3 230 191.4 233 190.6 236 189.7 239 188.9 242 188.1 245 187.5 248 186.8 251 186.2 254 185.6 257 184.9 260 184.3 263 183.8 266 183.3 269 182.7 272 182.2 275 181.7 278 181.2 281 180.7 284 180.2 287 179.8 290 179.4 293 179 296 178.6 299 178.2 302 177.9 305 177.5 308 177.2 311 177 314 176.7 317 176.4 320 176.1 323 175.9 326 175.6 329 175.4 332 175.1 335 174.8 338 174.4 341 174.1 344 173.8 347 173.5 350 173.2 353 172.9 356 172.7 359 172.4 362 172.2 365 172 368 171.7 371 171.5 374 171.2 377 171 380 170.8 383 170.5 386 170.3 389 170 392 169.8 395 169.5 398 169.3 401 169.1 404 169 407 168.8 410 168.7 413 168.6 416 168.4 419 168.3 422 168.2 425 168.1 428 167.9 431 167.8 434 167.6 437 167.4 440 167.2 443 167.1 446 166.9 449 166.6 452 166.4 455 166.1 458 165.9 461 165.6 464 165.2 467 164.9 470 164.5 473 164.2 476 164 479 163.7 482 163.5 485 163.2 488 162.9 491 162.6 494 162.4 497 162.1 500 161.9 503 161.6 506 161.3 509 161 512 160.7 515 160.4 518 160.1 521 159.8 524 159.5 527 159.3 530 159 533 158.6 536 158.3 539 157.8 542 157.4 545 157 548 156.5 551 156.1 554 155.7 557 155.3 560 154.9 563 154.4 566 153.8 569 153.3 572 152.7 575 152 578 151.3 581 150.6 584 149.9 587 149 590 148.1 593 147.2 596 146.3 599 145.2 602 144.1 605 142.8 608 141.5 611 140.2 613 139.3 613 142.2 611 143 608 144.2 605 145.4 602 146.6 599 147.6 596 148.6 593 149.4 590 150.2 587 151 584 151.7 581 152.4 578 153 575 153.6 572 154.2 569 154.8 566 155.3 563 155.7 560 156.2 557 156.6 554 156.9 551 157.3 548 157.6 545 158 542 158.3 539 158.7 536 159 533 159.3 530 159.5 527 159.7 524 159.9 521 160.1 518 160.3 515 160.6 512 160.9 509 161.2 506 161.5 503 161.7 500 162 497 162.3 494 162.6 491 162.9 488 163.2 485 163.5 482 163.8 479 164.2 476 164.5 473 164.8 470 165.2 467 165.7 464 166.1 461 166.5 458 166.9 455 167.3 452 167.6 449 167.9 446 168.2 443 168.5 440 168.7 437 169 434 169.2 431 169.5 428 169.7 425 170 422 170.2 419 170.4 416 170.6 413 170.8 410 171 407 171.2 404 171.4 401 171.6 398 171.8 395 172 392 172.2 389 172.5 386 172.8 383 173 380 173.3 377 173.6 374 173.9 371 174.2 368 174.5 365 174.8 362 175.1 359 175.4 356 175.7 353 176 350 176.2 347 176.5 344 176.9 341 177.2 338 177.5 335 177.8 332 178.2 329 178.5 326 178.7 323 179 320 179.3 317 179.6 314 179.9 311 180.2 308 180.6 305 180.9 302 181.3 299 181.7 296 182.1 293 182.5 290 182.9 287 183.4 284 183.8 281 184.3 278 184.7 275 185.2 272 185.7 269 186.2 266 186.8 263 187.3 260 187.8 257 188.4 254 189 251 189.6 248 190.2 245 190.7 242 191.4 239 192.1 236 192.8 233 193.6 230 194.4 227 195.2 224 196 221 196.8 218 197.5 215 198.3 212 199.1 209 199.9 206 200.7 203 201.4 200 202.2 197 202.9 194 203.7 191 204.5 188 205.3 185 205.9 182 206.6 179 207.2 176 207.8 173 208.4 170 209 167 209.6 164 210.1 161 210.6 158 211.1 155 211.6 152 212.1 149 212.6 146 213 143 213.4 140 213.9 137 214.3 134 214.7 131 215 128 215.4 125 215.7 122 216 119 216.4 116 216.7 113 217 110 217.3 107 217.6 104 217.8 101 218.1 98 218.5 95 218.8 92 219.1 89 219.4 86 219.7 83 220 80 220.3 77 220.5 74 220.7 71 220.9 68 221 65 221.2 62 221.4 59 221.5 56 221.7 53 221.8 50 221.9 47 222 44 222.2 41 222.3 38 222.4 35 222.5Z" fill="#00ffff" stroke="#00ffff" stroke-width="0.6"/></g><g clip-path="url(#clipP3)"><defs><path id="h3" d="M35 610 36 613.8 37 621.2 38 624 39 622 40 620 41 618 42 618.8 43 620.4 44 622.1 45 623.8 46 621.8 47 619.8 48 617.8 49 615.8 50 613.8 51 613.1 52 612.4 53 611.8 54 611.1 55 610.4 56 609.8 57 609.1 58 609.2 59 610.2 60 611.2 61 612.2 62 613.2 63 613.8 64 613.8 65 613.8 66 613.8 67 613.8 68 614.1 69 615 70 615.8 71 616.5 72 617.4 73 618.1 74 618.2 75 616.2 76 614.2 77 612.2 78 610.2 79 608.2 80 606.2 81 605.2 82 604.2 83 603.2 84 601.3 85 596.7 86 592.1 87 587.5 88 584.6 89 581.7 90 578.8 91 584.2 92 589.8 93 592.2 94 591.5 95 590.8 96 590.2 97 589.2 98 588.2 99 587.2 100 586.2 101 590.8 102 595.2 103 604.5 104 616.2 105 621.2 106 626.2 107 630.1 108 633.6 109 635.8 110 634.2 111 632.5 112 630.8 113 627.3 114 622 115 616.7 116 611.3 117 611.5 118 613.5 119 615.5 120 617.5 121 614.8 122 612 123 609.2 124 606.5 125 603.8 126 606.4 127 609.1 128 611.8 129 613.1 130 610.5 131 607.9 132 605.3 133 602.7 134 600.1 135 597.5 136 595.9 137 594.3 138 592.7 139 591.1 140 589.5 141 587.9 142 589.5 143 592.2 144 594.8 145 597.5 146 596.8 147 596 148 595.2 149 594.5 150 593.8 151 592 152 590.2 153 588.5 154 586.8 155 585 156 586.5 157 588 158 589.5 159 591 160 592.5 161 589.1 162 585.7 163 582.2 164 578.8 165 575.4 166 572 167 565.2 168 558.5 169 551.8 170 545 171 541.5 172 538 173 534.5 174 531 175 528.3 176 525.7 177 523 178 511.9 179 500.8 180 487.2 181 468 182 457.2 183 446.4 184 461.3 185 484.8 186 490.2 187 495.6 188 501 189 493.7 190 486.4 191 480.4 192 476.5 193 472.6 194 476.2 195 484.8 196 494.6 197 506.2 198 518.8 199 530.6 200 526.5 201 522.4 202 523.7 203 533 204 542.2 205 537.5 206 526.8 207 516 208 505.3 209 505.4 210 512.7 211 520 212 524.5 213 529.1 214 533.6 215 538.1 216 541.4 217 544.1 218 546.7 219 549.4 220 547.3 221 541.9 222 536.5 223 531.2 224 525.4 225 519.3 226 513.2 227 516.7 228 522.6 229 528.5 230 524.5 231 520.4 232 519.4 233 525.5 234 531.6 235 532.2 236 529.3 237 526.4 238 531.3 239 538.1 240 545 241 551.1 242 557.1 243 562.6 244 566.6 245 570.7 246 574.3 247 577.6 248 581 249 584.3 250 583.3 251 578 252 572.6 253 567.2 254 565.6 255 569.7 256 573.8 257 575.9 258 577.2 259 578.5 260 579.8 261 580.7 262 581 263 581.4 264 581.7 265 582 266 582.4 267 582.7 268 583.1 269 583.4 270 583.7 271 584.1 272 584.4 273 584.7 274 585 275 585.4 276 585.7 277 585.7 278 582.7 279 579.6 280 578.6 281 580.7 282 582.7 283 584.7 284 586.8 285 588.8 286 592.7 287 596.6 288 600.5 289 604.4 290 603.7 291 601.8 292 599.9 293 598 294 597.3 295 596.7 296 596 297 595.3 298 595.3 299 596 300 596.7 301 597.3 302 598 303 598.7 304 599.3 305 600 306 600.8 307 601.7 308 602.5 309 603.3 310 604.2 311 605 312 605.8 313 606.4 314 606.8 315 607.2 316 607.6 317 607.9 318 608.3 319 608.7 320 609.1 321 609.4 322 609.8 323 609.7 324 609 325 608.3 326 607.7 327 607 328 606.3 329 605.7 330 605 331 603 332 601 333 599 334 597 335 595 336 593 337 591 338 589 339 587 340 585 341 583 342 584.5 343 587.2 344 589.8 345 592.5 346 593.5 347 594.5 348 595.5 349 596.5 350 597.5 351 596.8 352 596.2 353 595.5 354 594.8 355 594.2 356 593.5 357 592.8 358 592.8 359 593.2 360 593.8 361 594.2 362 594.8 363 595.2 364 595.8 365 596.2 366 598 367 599.8 368 601.5 369 603.2 370 605 371 603 372 601 373 599 374 597 375 595 376 595.2 377 595.5 378 595.8 379 596 380 596.2 381 596.5 382 596.8 383 597 384 597.2 385 597.5 386 597.8 387 598.2 388 598.5 389 598.8 390 599.2 391 599.5 392 599.8 393 600.2 394 600.8 395 601.2 396 601.8 397 602.2 398 602.8 399 603.2 400 603.8 401 604.6 402 605.4 403 606.2 404 607.1 405 607.9 406 608.8 407 609.6 408 609.7 409 609 410 608.3 411 607.7 412 607 413 606.3 414 605.7 415 605 416 605.3 417 605.7 418 606 419 606.3 420 606.7 421 607 422 607.3 423 607.3 424 606.9 425 606.5 426 606.1 427 605.7 428 605.3 429 604 430 600 431 596 432 592 433 589.2 434 587.8 435 586.2 436 588 437 589.8 438 591.5 439 593.2 440 595 441 594.6 442 594.1 443 593.7 444 593.2 445 592.8 446 592.9 447 597.9 448 603 449 609.2 450 620 451 617.9 452 610.3 453 602.7 454 599.1 455 596.4 456 593.7 457 591 458 585.1 459 574.3 460 563.5 461 553.2 462 543.7 463 542.2 464 552.6 465 563 466 562.3 467 561.6 468 561 469 560.3 470 558 471 554.8 472 551.5 473 548.2 474 544.2 475 540.1 476 537 477 542.4 478 547.8 479 553.2 480 556.4 481 554.4 482 552.4 483 550.4 484 548.4 485 545.7 486 543 487 546.1 488 550.7 489 555.4 490 560 491 562 492 564 493 566 494 568 495 570 496 571.6 497 569.2 498 566.9 499 564.5 500 562.2 501 562.9 502 564.9 503 566.9 504 568.9 505 569.3 506 566 507 562.6 508 559.3 509 555.9 510 552.6 511 556.4 512 560.2 513 564 514 567.6 515 570.9 516 574.3 517 577.6 518 580.6 519 583.7 520 586.7 521 589.5 522 590.5 523 591.5 524 592.5 525 593.5 526 591.2 527 587.5 528 583.9 529 580.2 530 576.7 531 573.7 532 570.7 533 567.7 534 564.7 535 565.9 536 567.6 537 569.3 538 571 539 570.2 540 566.9 541 563.6 542 560.3 543 557 544 559 545 561 546 563.1 547 565.1 548 565.1 549 563.8 550 562.4 551 561.1 552 560.5 553 562.8 554 565.1 555 567.5 556 569.8 557 568.7 558 566.7 559 564.7 560 562.7 561 562.4 562 564.8 563 567.1 564 569.5 565 571.8 566 569.8 567 567.8 568 565.8 569 563.8 570 559.5 571 553.6 572 547.7 573 541.3 574 534.8 575 528.2 576 530 577 535.5 578 540.9 579 544.8 580 542 581 539.3 582 536.6 583 533.2 584 528.8 585 524.4 586 520.6 587 517.5 588 514.4 589 521.7 590 529.1 591 533.2 592 532.4 593 531.7 594 530.9 595 529 596 526.3 597 523.6 598 520.9 599 519.8 600 524.7 601 529.6 602 532.1 603 525 604 517.9 605 512.1 606 509 607 505.9 608 502.5 609 498.6 610 494.7 611 494.2 612 498.6 613 501.2 613 512.1 611 515.4 609 519.6 607 523.1 605 525.3 603 526.2 601 525.9 599 526.6 597 528.4 595 530 593 530.5 591 530.7 589 532.2 587 536.3 585 541.1 583 545.3 581 548.8 579 551.5 577 554 575 558.2 573 562.6 571 565.4 569 566.3 567 566.1 565 565.4 563 564.6 561 564.2 559 564.1 557 563.8 555 563.5 553 563.6 551 564.3 549 565.2 547 566.3 545 568 543 570.9 541 574.4 539 576.9 537 578.7 535 580.5 533 582.2 531 582.8 529 582.1 527 580 525 576.6 523 573.1 521 570 519 567.1 517 564.8 515 563.3 513 563 511 563.7 509 565 507 565.5 505 564.6 503 562.5 501 560.8 499 559.6 497 558 495 555.5 493 552.6 491 550.1 489 548.6 487 548.7 485 550.2 483 551.4 481 552 479 551.6 477 552.7 475 556.8 473 561.9 471 566.8 469 571.4 467 576.5 465 581.3 463 586.5 461 593.2 459 598 457 600.1 455 600.4 453 599.8 451 597.7 449 594.3 447 593 445 593.7 443 594.8 441 595.9 439 597.1 437 598.6 435 600.8 433 603.2 431 605.1 429 606.2 427 606.5 425 606.8 423 607 421 606.9 419 606.9 417 606.7 415 606.6 413 606.4 411 605.8 409 605 407 603.8 405 602.6 403 601.6 401 600.6 399 599.8 397 599 395 598.3 393 597.8 391 597.4 389 597.3 387 597.5 385 597.9 383 598 381 598 379 598 377 598 375 598 373 597.9 371 597.2 369 596.1 367 595.2 365 594.8 363 594.4 361 594.1 359 593.5 357 592.9 355 592.5 353 592.2 351 592 349 592 347 592.4 345 593.4 343 595 341 597.6 339 600.5 337 603 335 605.1 333 606.5 331 607.4 329 607.8 327 607.7 325 607.3 323 606.5 321 605.5 319 604.3 317 603.1 315 601.8 313 600.6 311 599.6 309 598.8 307 598.3 305 598.1 303 597.6 301 596.6 299 595.6 297 594.4 295 593 293 591.7 291 590 289 587.6 287 585.2 285 583.8 283 583.2 281 583 279 583.3 277 583.2 275 582.3 273 581.2 271 579.9 269 578.6 267 577.8 265 577.3 263 576.4 261 574.8 259 572.6 257 569.7 255 566.2 253 562.7 251 558.7 249 552.4 247 545.4 245 539.3 243 533.6 241 529.1 239 526.9 237 527.2 235 528.6 233 529.3 231 530.7 229 531.5 227 531.5 225 532.3 223 532.4 221 532 219 529.9 217 526.4 215 523.5 213 519.9 211 516.1 209 513.1 207 511.4 205 507.7 203 501.4 201 495.8 199 488.7 197 483.2 195 482.9 193 486.8 191 492.2 189 497.3 187 501.5 185 507.7 183 518.6 181 533.1 179 545 177 554.1 175 561.4 173 568.3 171 574.5 169 580.2 167 584.7 165 587.8 163 589.8 161 591.1 159 591.2 157 591.3 155 592 153 593.2 151 594.3 149 595.3 147 596.4 145 597.6 143 598.9 141 600.9 139 603.4 137 606 135 608.5 133 610.3 131 612 129 613.7 127 615.4 125 618 123 620.4 121 621.3 119 620.4 117 618.9 115 617.2 113 614.3 111 609.9 109 604.7 107 598.8 105 593.4 103 589.8 101 589.2 99 590.7 97 592.4 95 594.3 93 596.4 91 599 89 603.1 87 607.1 85 610.1 83 612 81 613.3 79 614.3 77 614.7 75 614.5 73 613.7 71 612.9 69 612.4 67 612.3 65 612.5 63 612.9 61 613.6 59 614.5 57 615.6 55 616.9 53 617.9 51 618.3 49 618.6 47 618.4 45 617.8 43 617 41 616.7 39 616.5 37 615.9 35 616.2Z"/></defs><use href="#h3" fill="#ff00ff" stroke="#ff00ff" stroke-width="0.6"/><use href="#h3" fill="url(#hatch)"/><defs><path id="h4" d="M35 616.2 37 615.9 39 616.5 41 616.7 43 617 45 617.8 47 618.4 49 618.6 51 618.3 53 617.9 55 616.9 57 615.6 59 614.5 61 613.6 63 612.9 65 612.5 67 612.3 69 612.4 71 612.9 73 613.7 75 614.5 77 614.7 79 614.3 81 613.3 83 612 85 610.1 87 607.1 89 603.1 91 599 93 596.4 95 594.3 97 592.4 99 590.7 101 589.2 103 589.8 105 593.4 107 598.8 109 604.7 111 609.9 113 614.3 115 617.2 117 618.9 119 620.4 121 621.3 123 620.4 125 618 127 615.4 129 613.7 131 612 133 610.3 135 608.5 137 606 139 603.4 141 600.9 143 598.9 145 597.6 147 596.4 149 595.3 151 594.3 153 593.2 155 592 157 591.3 159 591.2 161 591.1 163 589.8 165 587.8 167 584.7 169 580.2 171 574.5 173 568.3 175 561.4 177 554.1 179 545 181 533.1 183 518.6 185 507.7 187 501.5 189 497.3 191 492.2 193 486.8 195 482.9 197 483.2 199 488.7 201 495.8 203 501.4 205 507.7 207 511.4 209 513.1 211 516.1 213 519.9 215 523.5 217 526.4 219 529.9 221 532 223 532.4 225 532.3 227 531.5 229 531.5 231 530.7 233 529.3 235 528.6 237 527.2 239 526.9 241 529.1 243 533.6 245 539.3 247 545.4 249 552.4 251 558.7 253 562.7 255 566.2 257 569.7 259 572.6 261 574.8 263 576.4 265 577.3 267 577.8 269 578.6 271 579.9 273 581.2 275 582.3 277 583.2 279 583.3 281 583 283 583.2 285 583.8 287 585.2 289 587.6 291 590 293 591.7 295 593 297 594.4 299 595.6 301 596.6 303 597.6 305 598.1 307 598.3 309 598.8 311 599.6 313 600.6 315 601.8 317 603.1 319 604.3 321 605.5 323 606.5 325 607.3 327 607.7 329 607.8 331 607.4 333 606.5 335 605.1 337 603 339 600.5 341 597.6 343 595 345 593.4 347 592.4 349 592 351 592 353 592.2 355 592.5 357 592.9 359 593.5 361 594.1 363 594.4 365 594.8 367 595.2 369 596.1 371 597.2 373 597.9 375 598 377 598 379 598 381 598 383 598 385 597.9 387 597.5 389 597.3 391 597.4 393 597.8 395 598.3 397 599 399 599.8 401 600.6 403 601.6 405 602.6 407 603.8 409 605 411 605.8 413 606.4 415 606.6 417 606.7 419 606.9 421 606.9 423 607 425 606.8 427 606.5 429 606.2 431 605.1 433 603.2 435 600.8 437 598.6 439 597.1 441 595.9 443 594.8 445 593.7 447 593 449 594.3 451 597.7 453 599.8 455 600.4 457 600.1 459 598 461 593.2 463 586.5 465 581.3 467 576.5 469 571.4 471 566.8 473 561.9 475 556.8 477 552.7 479 551.6 481 552 483 551.4 485 550.2 487 548.7 489 548.6 491 550.1 493 552.6 495 555.5 497 558 499 559.6 501 560.8 503 562.5 505 564.6 507 565.5 509 565 511 563.7 513 563 515 563.3 517 564.8 519 567.1 521 570 523 573.1 525 576.6 527 580 529 582.1 531 582.8 533 582.2 535 580.5 537 578.7 539 576.9 541 574.4 543 570.9 545 568 547 566.3 549 565.2 551 564.3 553 563.6 555 563.5 557 563.8 559 564.1 561 564.2 563 564.6 565 565.4 567 566.1 569 566.3 571 565.4 573 562.6 575 558.2 577 554 579 551.5 581 548.8 583 545.3 585 541.1 587 536.3 589 532.2 591 530.7 593 530.5 595 530 597 528.4 599 526.6 601 525.9 603 526.2 605 525.3 607 523.1 609 519.6 611 515.4 613 512.1 613 521.6 611 524.2 609 526.8 607 529.2 605 531.5 603 533.6 601 535.4 599 537.5 597 539.9 595 541.9 593 543.6 591 545.5 589 547.7 587 550.5 585 553 583 555.1 581 556.8 579 558.2 577 559.7 575 561.8 573 564 571 565.4 569 566.1 567 566.3 565 566.4 563 566.7 561 567.5 559 568.6 557 569.5 555 570.2 553 571.1 551 572 549 572.7 547 573 545 573.2 543 573.5 541 573.9 539 574 537 573.9 535 573.9 533 573.9 531 573.7 529 573 527 571.8 525 570 523 567.9 521 565.6 519 563.4 517 561.6 515 560.4 513 559.6 511 559.1 509 558.8 507 558.2 505 557.6 503 557 501 556.8 499 556.8 497 556.4 495 555.6 493 555.5 491 556.3 489 557.8 487 560.1 485 563.2 483 566.1 481 568.6 479 570.8 477 573.5 475 576.7 473 579.8 471 582.3 469 584.5 467 586.5 465 588.7 463 591.7 461 595.3 459 597.8 457 599.2 455 599.8 453 600.1 451 599.7 449 598.9 447 598.9 445 599.6 443 600.4 441 601.1 439 601.9 437 602.8 435 603.8 433 604.9 431 605.6 429 605.7 427 605.5 425 605.2 423 604.8 421 604.4 419 603.9 417 603.5 415 603.1 413 602.6 411 602 409 601.3 407 600.6 405 600 403 599.6 401 599.2 399 598.8 397 598.4 395 598 393 597.6 391 597.3 389 597 387 596.7 385 596.6 383 596.5 381 596.4 379 596.3 377 596.1 375 595.8 373 595.5 371 595 369 594.4 367 594.2 365 594.3 363 594.6 361 595.2 359 595.8 357 596.5 355 597.2 353 597.8 351 598.4 349 598.8 347 599.3 345 600 343 600.8 341 601.9 339 603 337 603.8 335 604.3 333 604.4 331 604.2 329 603.8 327 603.3 325 602.7 323 602 321 601.2 319 600.2 317 599.1 315 597.8 313 596.5 311 595.2 309 594.1 307 593.1 305 592.2 303 591.2 301 590.3 299 589.5 297 588.7 295 587.7 293 586.6 291 585.2 289 583.4 287 581.5 285 580.2 283 579.4 281 578.8 279 578.1 277 576.9 275 575.1 273 572.9 271 570.3 269 567.6 267 564.9 265 562 263 559.1 261 556 259 552.9 257 550.1 255 547.8 253 546 251 543.9 249 541 247 537.8 245 534.6 243 531.5 241 529 239 527.6 237 527.1 235 526.7 233 526 231 525.4 229 524.1 227 522.4 225 521 223 519.3 221 517.1 219 514.1 217 510.4 215 507.1 213 505 211 504.5 209 505.1 207 506.3 205 506.7 203 506.7 201 507.8 199 509.6 197 512.3 195 516.8 193 522.7 191 528.7 189 534.2 187 539.3 185 545.3 183 552.9 181 561.1 179 567.9 177 573 175 577.1 173 581 171 584.6 169 587.8 167 590.5 165 592.5 163 594.2 161 595.5 159 596.5 157 597.7 155 599.2 153 600.8 151 602.1 149 603.3 147 604.5 145 605.9 143 607.6 141 609.4 139 611.1 137 612.2 135 612.6 133 612.5 131 612 129 611.2 127 610.5 125 609.9 123 609.1 121 608.1 119 607.1 117 606.4 115 605.9 113 604.8 111 603.3 109 601.7 107 600.2 105 599.2 103 598.9 101 599.7 99 601.1 97 602.6 95 603.9 93 605.2 91 606.7 89 608.6 87 610.4 85 611.8 83 612.7 81 613.5 79 614.2 77 614.7 75 614.9 73 614.9 71 615 69 615 67 615 65 615.1 63 615.3 61 615.5 59 615.9 57 616.5 55 617.2 53 617.8 51 618.3 49 618.8 47 619.1 45 619.3 43 619.5 41 619.8 39 620.2 37 620.5 35 621Z"/></defs><use href="#h4" fill="#ff00ff" stroke="#ff00ff" stroke-width="0.6"/><use href="#h4" fill="url(#hatch)"/><path d="M35 621 37 620.5 39 620.2 41 619.8 43 619.5 45 619.3 47 619.1 49 618.8 51 618.3 53 617.8 55 617.2 57 616.5 59 615.9 61 615.5 63 615.3 65 615.1 67 615 69 615 71 615 73 614.9 75 614.9 77 614.7 79 614.2 81 613.5 83 612.7 85 611.8 87 610.4 89 608.6 91 606.7 93 605.2 95 603.9 97 602.6 99 601.1 101 599.7 103 598.9 105 599.2 107 600.2 109 601.7 111 603.3 113 604.8 115 605.9 117 606.4 119 607.1 121 608.1 123 609.1 125 609.9 127 610.5 129 611.2 131 612 133 612.5 135 612.6 137 612.2 139 611.1 141 609.4 143 607.6 145 605.9 147 604.5 149 603.3 151 602.1 153 600.8 155 599.2 157 597.7 159 596.5 161 595.5 163 594.2 165 592.5 167 590.5 169 587.8 171 584.6 173 581 175 577.1 177 573 179 567.9 181 561.1 183 552.9 185 545.3 187 539.3 189 534.2 191 528.7 193 522.7 195 516.8 197 512.3 199 509.6 201 507.8 203 506.7 205 506.7 207 506.3 209 505.1 211 504.5 213 505 215 507.1 217 510.4 219 514.1 221 517.1 223 519.3 225 521 227 522.4 229 524.1 231 525.4 233 526 235 526.7 237 527.1 239 527.6 241 529 243 531.5 245 534.6 247 537.8 249 541 251 543.9 253 546 255 547.8 257 550.1 259 552.9 261 556 263 559.1 265 562 267 564.9 269 567.6 271 570.3 273 572.9 275 575.1 277 576.9 279 578.1 281 578.8 283 579.4 285 580.2 287 581.5 289 583.4 291 585.2 293 586.6 295 587.7 297 588.7 299 589.5 301 590.3 303 591.2 305 592.2 307 593.1 309 594.1 311 595.2 313 596.5 315 597.8 317 599.1 319 600.2 321 601.2 323 602 325 602.7 327 603.3 329 603.8 331 604.2 333 604.4 335 604.3 337 603.8 339 603 341 601.9 343 600.8 345 600 347 599.3 349 598.8 351 598.4 353 597.8 355 597.2 357 596.5 359 595.8 361 595.2 363 594.6 365 594.3 367 594.2 369 594.4 371 595 373 595.5 375 595.8 377 596.1 379 596.3 381 596.4 383 596.5 385 596.6 387 596.7 389 597 391 597.3 393 597.6 395 598 397 598.4 399 598.8 401 599.2 403 599.6 405 600 407 600.6 409 601.3 411 602 413 602.6 415 603.1 417 603.5 419 603.9 421 604.4 423 604.8 425 605.2 427 605.5 429 605.7 431 605.6 433 604.9 435 603.8 437 602.8 439 601.9 441 601.1 443 600.4 445 599.6 447 598.9 449 598.9 451 599.7 453 600.1 455 599.8 457 599.2 459 597.8 461 595.3 463 591.7 465 588.7 467 586.5 469 584.5 471 582.3 473 579.8 475 576.7 477 573.5 479 570.8 481 568.6 483 566.1 485 563.2 487 560.1 489 557.8 491 556.3 493 555.5 495 555.6 497 556.4 499 556.8 501 556.8 503 557 505 557.6 507 558.2 509 558.8 511 559.1 513 559.6 515 560.4 517 561.6 519 563.4 521 565.6 523 567.9 525 570 527 571.8 529 573 531 573.7 533 573.9 535 573.9 537 573.9 539 574 541 573.9 543 573.5 545 573.2 547 573 549 572.7 551 572 553 571.1 555 570.2 557 569.5 559 568.6 561 567.5 563 566.7 565 566.4 567 566.3 569 566.1 571 565.4 573 564 575 561.8 577 559.7 579 558.2 581 556.8 583 555.1 585 553 587 550.5 589 547.7 591 545.5 593 543.6 595 541.9 597 539.9 599 537.5 601 535.4 603 533.6 605 531.5 607 529.2 609 526.8 611 524.2 613 521.6 613 539.8 611 541.8 608 544.7 605 547.2 602 549.3 599 551.2 596 553.3 593 555.4 590 557.7 587 560.4 584 562.9 581 564.6 578 566 575 567.2 572 568.3 569 568.6 566 568.5 563 568.3 560 568.4 557 568.4 554 568.2 551 568 548 567.9 545 567.8 542 567.7 539 567.4 536 567.1 533 567 530 566.5 527 565.6 524 564.5 521 564.1 518 564.4 515 565.4 512 566.7 509 568.2 506 569.5 503 570.5 500 571.6 497 572.7 494 573.9 491 575.6 488 577.7 485 580.3 482 582.7 479 585.2 476 587.9 473 590.7 470 593.2 467 595.4 464 597.5 461 599.9 458 601.2 455 601.5 452 601.3 449 600.6 446 600.5 443 600.7 440 601 437 601.3 434 601.9 431 602.2 428 602 425 601.5 422 601 419 600.6 416 600.2 413 599.7 410 599.2 407 598.4 404 597.7 401 597.2 398 596.9 395 596.9 392 597 389 597.2 386 597.4 383 597.7 380 598 377 598.3 374 598.4 371 598.4 368 598.1 365 598 362 598 359 598.1 356 598.3 353 598.3 350 598.1 347 597.8 344 597.6 341 597.6 338 597.5 335 597 332 596.2 329 595 326 593.6 323 591.9 320 590.1 317 588.3 314 586.6 311 584.8 308 582.9 305 580.7 302 578.2 299 575.5 296 572.6 293 569.5 290 566.2 287 563.2 284 560.7 281 558.5 278 556.1 275 553.2 272 550.3 269 547.6 266 545 263 542.2 260 539 257 535.7 254 532.6 251 529.6 248 525.9 245 522.7 242 520.8 239 520.3 236 520.8 233 521.8 230 523.7 227 525.7 224 528.1 221 529.8 218 531.2 215 533 212 535.5 209 538.6 206 541.8 203 544.2 200 547.3 197 551.1 194 556.3 191 562.1 188 567.6 185 573.4 182 580.1 179 586.2 176 590.9 173 595.1 170 598.5 167 600.8 164 601.9 161 602.6 158 603 155 603.4 152 603.8 149 604.3 146 604.8 143 605.5 140 606.6 137 607.6 134 608.3 131 608.7 128 608.8 125 608.9 122 609 119 608.8 116 608.6 113 608.3 110 607.5 107 606.8 104 606.8 101 607.6 98 608.9 95 610.2 92 611.6 89 613.3 86 614.9 83 616 80 616.8 77 617.5 74 618 71 618.5 68 619.1 65 619.9 62 620.8 59 621.8 56 623 53 624.1 50 625.2 47 626.2 44 627.1 41 628 38 628.9 35 629.5Z" fill="#00ff00" stroke="#00ff00" stroke-width="0.6"/><path d="M35 629.5 38 628.9 41 628 44 627.1 47 626.2 50 625.2 53 624.1 56 623 59 621.8 62 620.8 65 619.9 68 619.1 71 618.5 74 618 77 617.5 80 616.8 83 616 86 614.9 89 613.3 92 611.6 95 610.2 98 608.9 101 607.6 104 606.8 107 606.8 110 607.5 113 608.3 116 608.6 119 608.8 122 609 125 608.9 128 608.8 131 608.7 134 608.3 137 607.6 140 606.6 143 605.5 146 604.8 149 604.3 152 603.8 155 603.4 158 603 161 602.6 164 601.9 167 600.8 170 598.5 173 595.1 176 590.9 179 586.2 182 580.1 185 573.4 188 567.6 191 562.1 194 556.3 197 551.1 200 547.3 203 544.2 206 541.8 209 538.6 212 535.5 215 533 218 531.2 221 529.8 224 528.1 227 525.7 230 523.7 233 521.8 236 520.8 239 520.3 242 520.8 245 522.7 248 525.9 251 529.6 254 532.6 257 535.7 260 539 263 542.2 266 545 269 547.6 272 550.3 275 553.2 278 556.1 281 558.5 284 560.7 287 563.2 290 566.2 293 569.5 296 572.6 299 575.5 302 578.2 305 580.7 308 582.9 311 584.8 314 586.6 317 588.3 320 590.1 323 591.9 326 593.6 329 595 332 596.2 335 597 338 597.5 341 597.6 344 597.6 347 597.8 350 598.1 353 598.3 356 598.3 359 598.1 362 598 365 598 368 598.1 371 598.4 374 598.4 377 598.3 380 598 383 597.7 386 597.4 389 597.2 392 597 395 596.9 398 596.9 401 597.2 404 597.7 407 598.4 410 599.2 413 599.7 416 600.2 419 600.6 422 601 425 601.5 428 602 431 602.2 434 601.9 437 601.3 440 601 443 600.7 446 600.5 449 600.6 452 601.3 455 601.5 458 601.2 461 599.9 464 597.5 467 595.4 470 593.2 473 590.7 476 587.9 479 585.2 482 582.7 485 580.3 488 577.7 491 575.6 494 573.9 497 572.7 500 571.6 503 570.5 506 569.5 509 568.2 512 566.7 515 565.4 518 564.4 521 564.1 524 564.5 527 565.6 530 566.5 533 567 536 567.1 539 567.4 542 567.7 545 567.8 548 567.9 551 568 554 568.2 557 568.4 560 568.4 563 568.3 566 568.5 569 568.6 572 568.3 575 567.2 578 566 581 564.6 584 562.9 587 560.4 590 557.7 593 555.4 596 553.3 599 551.2 602 549.3 605 547.2 608 544.7 611 541.8 613 539.8 613 550.7 611 552 608 553.8 605 555.5 602 556.9 599 558.1 596 559.4 593 560.4 590 561.4 587 562.5 584 563.6 581 564.5 578 565.1 575 565.9 572 566.5 569 566.8 566 567 563 567.3 560 567.9 557 568.7 554 569.5 551 570.4 548 571.2 545 571.9 542 572.7 539 573.4 536 574 533 574.6 530 575.2 527 575.5 524 575.7 521 576 518 576.6 515 577.3 512 578.3 509 579.5 506 580.6 503 581.5 500 582.5 497 583.4 494 584.4 491 585.5 488 586.7 485 588.2 482 589.8 479 591.2 476 592.8 473 594.5 470 595.9 467 597.1 464 598.2 461 599.3 458 600 455 600 452 599.9 449 599.5 446 599.3 443 599.4 440 599.5 437 599.7 434 600 431 600.2 428 600.3 425 600.1 422 600 419 599.8 416 599.6 413 599.4 410 599.1 407 598.7 404 598.3 401 598 398 597.7 395 597.4 392 597.2 389 596.8 386 596.4 383 596 380 595.6 377 595.1 374 594.6 371 594 368 593.3 365 592.6 362 592 359 591.4 356 590.7 353 589.9 350 589.1 347 588 344 586.9 341 585.5 338 584.1 335 582.4 332 580.5 329 578.5 326 576.5 323 574.5 320 572.5 317 570.4 314 568.3 311 566.2 308 564.1 305 562.1 302 560 299 557.7 296 555.3 293 552.8 290 550.3 287 548 284 545.9 281 544.4 278 543.2 275 542.2 272 541.3 269 540.8 266 540.4 263 540.1 260 540 257 539.9 254 539.9 251 540.1 248 540.1 245 540.4 242 541.1 239 542.4 236 544.1 233 546 230 548.1 227 550.1 224 552.3 221 554.2 218 556.1 215 558.2 212 560.4 209 562.9 206 565.3 203 567.3 200 569.7 197 572.2 194 575.4 191 579.1 188 582.8 185 586.4 182 590.4 179 594.2 176 597 173 599.3 170 601.3 167 602.8 164 603.9 161 604.8 158 605.4 155 606.2 152 607 149 607.8 146 608.6 143 609.2 140 610 137 610.7 134 611.2 131 611.6 128 611.9 125 612.2 122 612.6 119 612.7 116 612.9 113 613 110 613 107 613.1 104 613.5 101 614.4 98 615.8 95 617.2 92 618.6 89 620 86 621.5 83 622.6 80 623.6 77 624.5 74 625.2 71 626 68 626.8 65 627.7 62 628.6 59 629.6 56 630.6 53 631.5 50 632.4 47 633.2 44 633.9 41 634.5 38 635 35 635.4Z" fill="#2094bc" stroke="#2094bc" stroke-width="0.6"/><path d="M35 635.4 38 635 41 634.5 44 633.9 47 633.2 50 632.4 53 631.5 56 630.6 59 629.6 62 628.6 65 627.7 68 626.8 71 626 74 625.2 77 624.5 80 623.6 83 622.6 86 621.5 89 620 92 618.6 95 617.2 98 615.8 101 614.4 104 613.5 107 613.1 110 613 113 613 116 612.9 119 612.7 122 612.6 125 612.2 128 611.9 131 611.6 134 611.2 137 610.7 140 610 143 609.2 146 608.6 149 607.8 152 607 155 606.2 158 605.4 161 604.8 164 603.9 167 602.8 170 601.3 173 599.3 176 597 179 594.2 182 590.4 185 586.4 188 582.8 191 579.1 194 575.4 197 572.2 200 569.7 203 567.3 206 565.3 209 562.9 212 560.4 215 558.2 218 556.1 221 554.2 224 552.3 227 550.1 230 548.1 233 546 236 544.1 239 542.4 242 541.1 245 540.4 248 540.1 251 540.1 254 539.9 257 539.9 260 540 263 540.1 266 540.4 269 540.8 272 541.3 275 542.2 278 543.2 281 544.4 284 545.9 287 548 290 550.3 293 552.8 296 555.3 299 557.7 302 560 305 562.1 308 564.1 311 566.2 314 568.3 317 570.4 320 572.5 323 574.5 326 576.5 329 578.5 332 580.5 335 582.4 338 584.1 341 585.5 344 586.9 347 588 350 589.1 353 589.9 356 590.7 359 591.4 362 592 365 592.6 368 593.3 371 594 374 594.6 377 595.1 380 595.6 383 596 386 596.4 389 596.8 392 597.2 395 597.4 398 597.7 401 598 404 598.3 407 598.7 410 599.1 413 599.4 416 599.6 419 599.8 422 600 425 600.1 428 600.3 431 600.2 434 600 437 599.7 440 599.5 443 599.4 446 599.3 449 599.5 452 599.9 455 600 458 600 461 599.3 464 598.2 467 597.1 470 595.9 473 594.5 476 592.8 479 591.2 482 589.8 485 588.2 488 586.7 491 585.5 494 584.4 497 583.4 500 582.5 503 581.5 506 580.6 509 579.5 512 578.3 515 577.3 518 576.6 521 576 524 575.7 527 575.5 530 575.2 533 574.6 536 574 539 573.4 542 572.7 545 571.9 548 571.2 551 570.4 554 569.5 557 568.7 560 567.9 563 567.3 566 567 569 566.8 572 566.5 575 565.9 578 565.1 581 564.5 584 563.6 587 562.5 590 561.4 593 560.4 596 559.4 599 558.1 602 556.9 605 555.5 608 553.8 611 552 613 550.7 613 554 611 554.9 608 556.4 605 557.6 602 558.7 599 559.6 596 560.8 593 561.9 590 563 587 564.4 584 566 581 567.3 578 568.5 575 569.6 572 570.7 569 571.4 566 571.9 563 572.5 560 573.1 557 573.9 554 574.6 551 575.4 548 576.2 545 577 542 577.8 539 578.6 536 579.1 533 579.7 530 580.2 527 580.5 524 580.7 521 580.9 518 581.3 515 581.8 512 582.5 509 583.4 506 584.2 503 584.9 500 585.7 497 586.6 494 587.4 491 588.2 488 589.2 485 590.5 482 591.7 479 592.7 476 593.9 473 595.1 470 596.1 467 597 464 597.7 461 598.7 458 599.2 455 599.4 452 599.5 449 599.3 446 599.3 443 599.5 440 599.6 437 599.7 434 599.7 431 599.7 428 599.4 425 599.1 422 598.7 419 598.2 416 597.7 413 597.2 410 596.6 407 595.9 404 595.3 401 594.7 398 594.1 395 593.5 392 592.9 389 592.2 386 591.6 383 590.9 380 590.2 377 589.4 374 588.5 371 587.4 368 586.1 365 584.9 362 583.6 359 582.3 356 581.1 353 580 350 578.9 347 577.7 344 576.6 341 575.5 338 574.3 335 572.9 332 571.4 329 569.7 326 567.8 323 565.8 320 563.7 317 561.6 314 559.6 311 557.8 308 556.1 305 554.8 302 553.7 299 552.8 296 552 293 551.4 290 550.8 287 550.3 284 550 281 549.8 278 549.7 275 549.6 272 549.5 269 549.4 266 549.5 263 549.6 260 549.8 257 550.1 254 550.5 251 551.1 248 551.7 245 552.5 242 553.6 239 555 236 556.7 233 558.3 230 559.9 227 561.4 224 562.9 221 564.3 218 565.6 215 567.1 212 568.8 209 570.8 206 573.1 203 575.2 200 577.5 197 579.9 194 582.9 191 586.3 188 589.4 185 592.3 182 595.6 179 598.7 176 600.9 173 602.9 170 604.5 167 605.9 164 606.9 161 607.7 158 608.4 155 609.1 152 609.9 149 610.6 146 611.3 143 612 140 612.8 137 613.6 134 614.3 131 614.8 128 615.3 125 615.8 122 616.3 119 616.6 116 617 113 617.4 110 617.7 107 618.1 104 618.7 101 619.7 98 621 95 622.3 92 623.5 89 624.8 86 626 83 627 80 627.8 77 628.6 74 629.3 71 629.9 68 630.6 65 631.4 62 632.1 59 632.9 56 633.7 53 634.5 50 635.2 47 635.9 44 636.4 41 636.8 38 637.2 35 637.6Z" fill="#c08040" stroke="#c08040" stroke-width="0.6"/><path d="M35 637.6 38 637.2 41 636.8 44 636.4 47 635.9 50 635.2 53 634.5 56 633.7 59 632.9 62 632.1 65 631.4 68 630.6 71 629.9 74 629.3 77 628.6 80 627.8 83 627 86 626 89 624.8 92 623.5 95 622.3 98 621 101 619.7 104 618.7 107 618.1 110 617.7 113 617.4 116 617 119 616.6 122 616.3 125 615.8 128 615.3 131 614.8 134 614.3 137 613.6 140 612.8 143 612 146 611.3 149 610.6 152 609.9 155 609.1 158 608.4 161 607.7 164 606.9 167 605.9 170 604.5 173 602.9 176 600.9 179 598.7 182 595.6 185 592.3 188 589.4 191 586.3 194 582.9 197 579.9 200 577.5 203 575.2 206 573.1 209 570.8 212 568.8 215 567.1 218 565.6 221 564.3 224 562.9 227 561.4 230 559.9 233 558.3 236 556.7 239 555 242 553.6 245 552.5 248 551.7 251 551.1 254 550.5 257 550.1 260 549.8 263 549.6 266 549.5 269 549.4 272 549.5 275 549.6 278 549.7 281 549.8 284 550 287 550.3 290 550.8 293 551.4 296 552 299 552.8 302 553.7 305 554.8 308 556.1 311 557.8 314 559.6 317 561.6 320 563.7 323 565.8 326 567.8 329 569.7 332 571.4 335 572.9 338 574.3 341 575.5 344 576.6 347 577.7 350 578.9 353 580 356 581.1 359 582.3 362 583.6 365 584.9 368 586.1 371 587.4 374 588.5 377 589.4 380 590.2 383 590.9 386 591.6 389 592.2 392 592.9 395 593.5 398 594.1 401 594.7 404 595.3 407 595.9 410 596.6 413 597.2 416 597.7 419 598.2 422 598.7 425 599.1 428 599.4 431 599.7 434 599.7 437 599.7 440 599.6 443 599.5 446 599.3 449 599.3 452 599.5 455 599.4 458 599.2 461 598.7 464 597.7 467 597 470 596.1 473 595.1 476 593.9 479 592.7 482 591.7 485 590.5 488 589.2 491 588.2 494 587.4 497 586.6 500 585.7 503 584.9 506 584.2 509 583.4 512 582.5 515 581.8 518 581.3 521 580.9 524 580.7 527 580.5 530 580.2 533 579.7 536 579.1 539 578.6 542 577.8 545 577 548 576.2 551 575.4 554 574.6 557 573.9 560 573.1 563 572.5 566 571.9 569 571.4 572 570.7 575 569.6 578 568.5 581 567.3 584 566 587 564.4 590 563 593 561.9 596 560.8 599 559.6 602 558.7 605 557.6 608 556.4 611 554.9 613 554 613 556.6 611 557.7 608 559.4 605 561 602 562.5 599 563.7 596 565.1 593 566.3 590 567.5 587 568.9 584 570.3 581 571.4 578 572.5 575 573.5 572 574.6 569 575.4 566 576 563 576.6 560 577.2 557 577.9 554 578.4 551 579.1 548 579.7 545 580.3 542 581 539 581.5 536 581.9 533 582.4 530 582.7 527 583 524 583.2 521 583.4 518 583.7 515 584.2 512 584.8 509 585.5 506 586.1 503 586.7 500 587.3 497 588 494 588.6 491 589.4 488 590.3 485 591.4 482 592.5 479 593.6 476 594.7 473 595.8 470 596.7 467 597.4 464 598 461 598.7 458 599 455 599 452 598.9 449 598.5 446 598.3 443 598.2 440 598 437 597.8 434 597.6 431 597.3 428 596.8 425 596.3 422 595.7 419 595 416 594.3 413 593.6 410 592.9 407 592 404 591.2 401 590.3 398 589.4 395 588.4 392 587.3 389 586.2 386 585.2 383 584.1 380 583.1 377 582.1 374 581.1 371 580.1 368 579 365 577.9 362 576.8 359 575.7 356 574.5 353 573.3 350 572 347 570.6 344 569.2 341 568 338 566.8 335 565.6 332 564.4 329 563.4 326 562.4 323 561.5 320 560.7 317 560 314 559.4 311 558.9 308 558.4 305 557.9 302 557.5 299 557.1 296 556.9 293 556.6 290 556.4 287 556.2 284 556.1 281 556.3 278 556.5 275 556.7 272 556.9 269 557.2 266 557.5 263 557.8 260 558 257 558.3 254 558.6 251 559 248 559.3 245 559.8 242 560.6 239 561.7 236 563.1 233 564.6 230 566.2 227 567.7 224 569.4 221 571 218 572.3 215 573.8 212 575.4 209 577.3 206 579.5 203 581.4 200 583.5 197 585.7 194 588.4 191 591.3 188 594 185 596.6 182 599.4 179 602 176 604 173 605.7 170 607.2 167 608.5 164 609.5 161 610.4 158 611.2 155 612 152 612.9 149 613.7 146 614.5 143 615.2 140 616.1 137 616.9 134 617.6 131 618.3 128 618.8 125 619.4 122 619.9 119 620.4 116 620.8 113 621.3 110 621.7 107 622.1 104 622.6 101 623.5 98 624.6 95 625.7 92 626.8 89 627.9 86 628.9 83 629.7 80 630.5 77 631.2 74 631.8 71 632.4 68 633 65 633.6 62 634.3 59 634.9 56 635.6 53 636.3 50 636.9 47 637.4 44 637.9 41 638.2 38 638.6 35 638.9Z" fill="#e04848" stroke="#e04848" stroke-width="0.6"/><path d="M35 638.9 38 638.6 41 638.2 44 637.9 47 637.4 50 636.9 53 636.3 56 635.6 59 634.9 62 634.3 65 633.6 68 633 71 632.4 74 631.8 77 631.2 80 630.5 83 629.7 86 628.9 89 627.9 92 626.8 95 625.7 98 624.6 101 623.5 104 622.6 107 622.1 110 621.7 113 621.3 116 620.8 119 620.4 122 619.9 125 619.4 128 618.8 131 618.3 134 617.6 137 616.9 140 616.1 143 615.2 146 614.5 149 613.7 152 612.9 155 612 158 611.2 161 610.4 164 609.5 167 608.5 170 607.2 173 605.7 176 604 179 602 182 599.4 185 596.6 188 594 191 591.3 194 588.4 197 585.7 200 583.5 203 581.4 206 579.5 209 577.3 212 575.4 215 573.8 218 572.3 221 571 224 569.4 227 567.7 230 566.2 233 564.6 236 563.1 239 561.7 242 560.6 245 559.8 248 559.3 251 559 254 558.6 257 558.3 260 558 263 557.8 266 557.5 269 557.2 272 556.9 275 556.7 278 556.5 281 556.3 284 556.1 287 556.2 290 556.4 293 556.6 296 556.9 299 557.1 302 557.5 305 557.9 308 558.4 311 558.9 314 559.4 317 560 320 560.7 323 561.5 326 562.4 329 563.4 332 564.4 335 565.6 338 566.8 341 568 344 569.2 347 570.6 350 572 353 573.3 356 574.5 359 575.7 362 576.8 365 577.9 368 579 371 580.1 374 581.1 377 582.1 380 583.1 383 584.1 386 585.2 389 586.2 392 587.3 395 588.4 398 589.4 401 590.3 404 591.2 407 592 410 592.9 413 593.6 416 594.3 419 595 422 595.7 425 596.3 428 596.8 431 597.3 434 597.6 437 597.8 440 598 443 598.2 446 598.3 449 598.5 452 598.9 455 599 458 599 461 598.7 464 598 467 597.4 470 596.7 473 595.8 476 594.7 479 593.6 482 592.5 485 591.4 488 590.3 491 589.4 494 588.6 497 588 500 587.3 503 586.7 506 586.1 509 585.5 512 584.8 515 584.2 518 583.7 521 583.4 524 583.2 527 583 530 582.7 533 582.4 536 581.9 539 581.5 542 581 545 580.3 548 579.7 551 579.1 554 578.4 557 577.9 560 577.2 563 576.6 566 576 569 575.4 572 574.6 575 573.5 578 572.5 581 571.4 584 570.3 587 568.9 590 567.5 593 566.3 596 565.1 599 563.7 602 562.5 605 561 608 559.4 611 557.7 613 556.6 613 563.4 611 564.4 608 565.9 605 567.3 602 568.6 599 569.7 596 571 593 572.1 590 573.1 587 574.3 584 575.4 581 576.3 578 577.1 575 577.9 572 578.8 569 579.4 566 579.8 563 580.3 560 580.8 557 581.3 554 581.7 551 582.2 548 582.7 545 583.1 542 583.6 539 583.9 536 584.2 533 584.6 530 584.9 527 585.2 524 585.4 521 585.6 518 586 515 586.4 512 586.9 509 587.6 506 588.2 503 588.7 500 589.3 497 589.8 494 590.3 491 590.9 488 591.5 485 592.3 482 593 479 593.6 476 594.2 473 594.8 470 595.2 467 595.4 464 595.6 461 595.9 458 595.9 455 595.6 452 595.2 449 594.6 446 594.1 443 593.6 440 593.1 437 592.5 434 592 431 591.3 428 590.4 425 589.5 422 588.5 419 587.5 416 586.6 413 585.6 410 584.6 407 583.7 404 582.7 401 581.7 398 580.7 395 579.7 392 578.7 389 577.6 386 576.5 383 575.4 380 574.3 377 573.3 374 572.3 371 571.4 368 570.6 365 569.9 362 569.4 359 569 356 568.7 353 568.4 350 568.2 347 567.9 344 567.7 341 567.5 338 567.3 335 567.1 332 566.9 329 566.5 326 566.2 323 565.8 320 565.5 317 565.3 314 565.1 311 565 308 564.8 305 564.7 302 564.6 299 564.6 296 564.5 293 564.3 290 564.2 287 564 284 563.9 281 564 278 564.1 275 564.3 272 564.5 269 564.7 266 565 263 565.3 260 565.7 257 566.1 254 566.7 251 567.3 248 567.9 245 568.7 242 569.6 239 570.7 236 572 233 573.3 230 574.8 227 576.3 224 577.8 221 579.2 218 580.5 215 581.9 212 583.5 209 585.3 206 587.2 203 589 200 591 197 593 194 595.3 191 597.9 188 600.2 185 602.5 182 605 179 607.3 176 609.1 173 610.7 170 612.1 167 613.4 164 614.4 161 615.3 158 616.1 155 616.9 152 617.8 149 618.6 146 619.3 143 620 140 620.8 137 621.5 134 622.2 131 622.7 128 623.2 125 623.7 122 624.2 119 624.6 116 625.1 113 625.5 110 625.9 107 626.3 104 626.8 101 627.5 98 628.4 95 629.3 92 630.2 89 631.1 86 631.9 83 632.7 80 633.3 77 633.9 74 634.4 71 634.9 68 635.4 65 636 62 636.5 59 637.1 56 637.6 53 638.2 50 638.6 47 639.1 44 639.4 41 639.7 38 640 35 640.2Z" fill="#808080" stroke="#808080" stroke-width="0.6"/><path d="M35 640.2 38 640 41 639.7 44 639.4 47 639.1 50 638.6 53 638.2 56 637.6 59 637.1 62 636.5 65 636 68 635.4 71 634.9 74 634.4 77 633.9 80 633.3 83 632.7 86 631.9 89 631.1 92 630.2 95 629.3 98 628.4 101 627.5 104 626.8 107 626.3 110 625.9 113 625.5 116 625.1 119 624.6 122 624.2 125 623.7 128 623.2 131 622.7 134 622.2 137 621.5 140 620.8 143 620 146 619.3 149 618.6 152 617.8 155 616.9 158 616.1 161 615.3 164 614.4 167 613.4 170 612.1 173 610.7 176 609.1 179 607.3 182 605 185 602.5 188 600.2 191 597.9 194 595.3 197 593 200 591 203 589 206 587.2 209 585.3 212 583.5 215 581.9 218 580.5 221 579.2 224 577.8 227 576.3 230 574.8 233 573.3 236 572 239 570.7 242 569.6 245 568.7 248 567.9 251 567.3 254 566.7 257 566.1 260 565.7 263 565.3 266 565 269 564.7 272 564.5 275 564.3 278 564.1 281 564 284 563.9 287 564 290 564.2 293 564.3 296 564.5 299 564.6 302 564.6 305 564.7 308 564.8 311 565 314 565.1 317 565.3 320 565.5 323 565.8 326 566.2 329 566.5 332 566.9 335 567.1 338 567.3 341 567.5 344 567.7 347 567.9 350 568.2 353 568.4 356 568.7 359 569 362 569.4 365 569.9 368 570.6 371 571.4 374 572.3 377 573.3 380 574.3 383 575.4 386 576.5 389 577.6 392 578.7 395 579.7 398 580.7 401 581.7 404 582.7 407 583.7 410 584.6 413 585.6 416 586.6 419 587.5 422 588.5 425 589.5 428 590.4 431 591.3 434 592 437 592.5 440 593.1 443 593.6 446 594.1 449 594.6 452 595.2 455 595.6 458 595.9 461 595.9 464 595.6 467 595.4 470 595.2 473 594.8 476 594.2 479 593.6 482 593 485 592.3 488 591.5 491 590.9 494 590.3 497 589.8 500 589.3 503 588.7 506 588.2 509 587.6 512 586.9 515 586.4 518 586 521 585.6 524 585.4 527 585.2 530 584.9 533 584.6 536 584.2 539 583.9 542 583.6 545 583.1 548 582.7 551 582.2 554 581.7 557 581.3 560 580.8 563 580.3 566 579.8 569 579.4 572 578.8 575 577.9 578 577.1 581 576.3 584 575.4 587 574.3 590 573.1 593 572.1 596 571 599 569.7 602 568.6 605 567.3 608 565.9 611 564.4 613 563.4 613 567.7 611 568.6 608 569.9 605 571.1 602 572.2 599 573.2 596 574.2 593 575.2 590 576.1 587 577 584 577.9 581 578.7 578 579.4 575 580.1 572 580.8 569 581.3 566 581.7 563 582 560 582.4 557 582.8 554 583.2 551 583.6 548 584 545 584.4 542 584.8 539 585.2 536 585.5 533 585.9 530 586.2 527 586.4 524 586.5 521 586.6 518 586.7 515 587 512 587.3 509 587.7 506 588.1 503 588.3 500 588.7 497 589 494 589.2 491 589.5 488 589.9 485 590.3 482 590.8 479 591.1 476 591.5 473 591.8 470 592 467 592 464 592 461 592 458 591.8 455 591.3 452 590.6 449 589.8 446 589.1 443 588.5 440 587.8 437 587.2 434 586.6 431 585.9 428 585.2 425 584.3 422 583.4 419 582.4 416 581.5 413 580.5 410 579.4 407 578.3 404 577.3 401 576.3 398 575.4 395 574.6 392 573.9 389 573.3 386 572.8 383 572.4 380 572.1 377 571.8 374 571.6 371 571.4 368 571.1 365 570.9 362 570.8 359 570.7 356 570.6 353 570.5 350 570.5 347 570.4 344 570.4 341 570.4 338 570.5 335 570.5 332 570.4 329 570.3 326 570.1 323 570 320 569.7 317 569.5 314 569.3 311 569 308 568.8 305 568.7 302 568.6 299 568.5 296 568.6 293 568.6 290 568.7 287 568.7 284 568.9 281 569.2 278 569.5 275 569.8 272 570.1 269 570.4 266 570.8 263 571.2 260 571.6 257 572.2 254 572.8 251 573.5 248 574.2 245 574.9 242 575.8 239 576.9 236 578.2 233 579.5 230 580.9 227 582.3 224 583.8 221 585.2 218 586.5 215 587.9 212 589.5 209 591.2 206 593.1 203 594.9 200 596.7 197 598.6 194 600.7 191 603 188 605.2 185 607.2 182 609.4 179 611.5 176 613.1 173 614.5 170 615.8 167 617 164 617.9 161 618.7 158 619.5 155 620.2 152 621 149 621.7 146 622.3 143 623 140 623.7 137 624.3 134 624.9 131 625.4 128 625.8 125 626.2 122 626.7 119 627.1 116 627.6 113 628.1 110 628.4 107 628.8 104 629.2 101 629.9 98 630.7 95 631.5 92 632.2 89 633 86 633.8 83 634.4 80 635 77 635.5 74 636 71 636.4 68 636.9 65 637.4 62 637.8 59 638.3 56 638.8 53 639.3 50 639.7 47 640 44 640.3 41 640.6 38 640.8 35 641Z" fill="#80d8ff" stroke="#80d8ff" stroke-width="0.6"/><path d="M35 641 38 640.8 41 640.6 44 640.3 47 640 50 639.7 53 639.3 56 638.8 59 638.3 62 637.8 65 637.4 68 636.9 71 636.4 74 636 77 635.5 80 635 83 634.4 86 633.8 89 633 92 632.2 95 631.5 98 630.7 101 629.9 104 629.2 107 628.8 110 628.4 113 628.1 116 627.6 119 627.1 122 626.7 125 626.2 128 625.8 131 625.4 134 624.9 137 624.3 140 623.7 143 623 146 622.3 149 621.7 152 621 155 620.2 158 619.5 161 618.7 164 617.9 167 617 170 615.8 173 614.5 176 613.1 179 611.5 182 609.4 185 607.2 188 605.2 191 603 194 600.7 197 598.6 200 596.7 203 594.9 206 593.1 209 591.2 212 589.5 215 587.9 218 586.5 221 585.2 224 583.8 227 582.3 230 580.9 233 579.5 236 578.2 239 576.9 242 575.8 245 574.9 248 574.2 251 573.5 254 572.8 257 572.2 260 571.6 263 571.2 266 570.8 269 570.4 272 570.1 275 569.8 278 569.5 281 569.2 284 568.9 287 568.7 290 568.7 293 568.6 296 568.6 299 568.5 302 568.6 305 568.7 308 568.8 311 569 314 569.3 317 569.5 320 569.7 323 570 326 570.1 329 570.3 332 570.4 335 570.5 338 570.5 341 570.4 344 570.4 347 570.4 350 570.5 353 570.5 356 570.6 359 570.7 362 570.8 365 570.9 368 571.1 371 571.4 374 571.6 377 571.8 380 572.1 383 572.4 386 572.8 389 573.3 392 573.9 395 574.6 398 575.4 401 576.3 404 577.3 407 578.3 410 579.4 413 580.5 416 581.5 419 582.4 422 583.4 425 584.3 428 585.2 431 585.9 434 586.6 437 587.2 440 587.8 443 588.5 446 589.1 449 589.8 452 590.6 455 591.3 458 591.8 461 592 464 592 467 592 470 592 473 591.8 476 591.5 479 591.1 482 590.8 485 590.3 488 589.9 491 589.5 494 589.2 497 589 500 588.7 503 588.3 506 588.1 509 587.7 512 587.3 515 587 518 586.7 521 586.6 524 586.5 527 586.4 530 586.2 533 585.9 536 585.5 539 585.2 542 584.8 545 584.4 548 584 551 583.6 554 583.2 557 582.8 560 582.4 563 582 566 581.7 569 581.3 572 580.8 575 580.1 578 579.4 581 578.7 584 577.9 587 577 590 576.1 593 575.2 596 574.2 599 573.2 602 572.2 605 571.1 608 569.9 611 568.6 613 567.7 613 571.6 611 572.4 608 573.5 605 574.4 602 575.3 599 576.1 596 576.9 593 577.6 590 578.3 587 579.1 584 579.9 581 580.5 578 581.1 575 581.7 572 582.3 569 582.7 566 583.1 563 583.3 560 583.7 557 584 554 584.2 551 584.5 548 584.7 545 584.9 542 585.1 539 585.2 536 585.4 533 585.5 530 585.6 527 585.6 524 585.6 521 585.5 518 585.5 515 585.5 512 585.7 509 585.9 506 586.1 503 586.2 500 586.4 497 586.4 494 586.5 491 586.5 488 586.6 485 586.7 482 586.8 479 586.8 476 586.8 473 586.8 470 586.7 467 586.6 464 586.3 461 586.2 458 585.8 455 585.2 452 584.5 449 583.6 446 582.8 443 582.1 440 581.4 437 580.7 434 580.1 431 579.4 428 578.8 425 578.2 422 577.6 419 577.2 416 576.8 413 576.4 410 576.1 407 575.8 404 575.6 401 575.3 398 575.2 395 575 392 574.9 389 574.8 386 574.7 383 574.6 380 574.6 377 574.6 374 574.6 371 574.7 368 574.7 365 574.7 362 574.7 359 574.8 356 574.8 353 574.8 350 574.8 347 574.7 344 574.7 341 574.6 338 574.7 335 574.6 332 574.6 329 574.5 326 574.4 323 574.3 320 574.3 317 574.2 314 574.2 311 574.2 308 574.2 305 574.3 302 574.4 299 574.5 296 574.7 293 574.8 290 575 287 575.1 284 575.4 281 575.7 278 576.1 275 576.4 272 576.8 269 577.2 266 577.7 263 578.2 260 578.7 257 579.3 254 580.1 251 580.9 248 581.6 245 582.4 242 583.3 239 584.4 236 585.7 233 587 230 588.4 227 589.8 224 591.2 221 592.6 218 593.9 215 595.3 212 596.8 209 598.4 206 600.2 203 601.7 200 603.4 197 605 194 606.9 191 608.9 188 610.7 185 612.4 182 614.3 179 616.1 176 617.5 173 618.7 170 619.8 167 620.8 164 621.6 161 622.4 158 623 155 623.7 152 624.3 149 624.9 146 625.5 143 626.1 140 626.7 137 627.2 134 627.7 131 628.2 128 628.6 125 629 122 629.4 119 629.8 116 630.2 113 630.7 110 631 107 631.3 104 631.7 101 632.3 98 633 95 633.6 92 634.3 89 634.9 86 635.6 83 636.2 80 636.7 77 637.1 74 637.6 71 637.9 68 638.3 65 638.8 62 639.2 59 639.6 56 640 53 640.3 50 640.7 47 641 44 641.2 41 641.4 38 641.6 35 641.8Z" fill="#4080f8" stroke="#4080f8" stroke-width="0.6"/><path d="M35 641.8 38 641.6 41 641.4 44 641.2 47 641 50 640.7 53 640.3 56 640 59 639.6 62 639.2 65 638.8 68 638.3 71 637.9 74 637.6 77 637.1 80 636.7 83 636.2 86 635.6 89 634.9 92 634.3 95 633.6 98 633 101 632.3 104 631.7 107 631.3 110 631 113 630.7 116 630.2 119 629.8 122 629.4 125 629 128 628.6 131 628.2 134 627.7 137 627.2 140 626.7 143 626.1 146 625.5 149 624.9 152 624.3 155 623.7 158 623 161 622.4 164 621.6 167 620.8 170 619.8 173 618.7 176 617.5 179 616.1 182 614.3 185 612.4 188 610.7 191 608.9 194 606.9 197 605 200 603.4 203 601.7 206 600.2 209 598.4 212 596.8 215 595.3 218 593.9 221 592.6 224 591.2 227 589.8 230 588.4 233 587 236 585.7 239 584.4 242 583.3 245 582.4 248 581.6 251 580.9 254 580.1 257 579.3 260 578.7 263 578.2 266 577.7 269 577.2 272 576.8 275 576.4 278 576.1 281 575.7 284 575.4 287 575.1 290 575 293 574.8 296 574.7 299 574.5 302 574.4 305 574.3 308 574.2 311 574.2 314 574.2 317 574.2 320 574.3 323 574.3 326 574.4 329 574.5 332 574.6 335 574.6 338 574.7 341 574.6 344 574.7 347 574.7 350 574.8 353 574.8 356 574.8 359 574.8 362 574.7 365 574.7 368 574.7 371 574.7 374 574.6 377 574.6 380 574.6 383 574.6 386 574.7 389 574.8 392 574.9 395 575 398 575.2 401 575.3 404 575.6 407 575.8 410 576.1 413 576.4 416 576.8 419 577.2 422 577.6 425 578.2 428 578.8 431 579.4 434 580.1 437 580.7 440 581.4 443 582.1 446 582.8 449 583.6 452 584.5 455 585.2 458 585.8 461 586.2 464 586.3 467 586.6 470 586.7 473 586.8 476 586.8 479 586.8 482 586.8 485 586.7 488 586.6 491 586.5 494 586.5 497 586.4 500 586.4 503 586.2 506 586.1 509 585.9 512 585.7 515 585.5 518 585.5 521 585.5 524 585.6 527 585.6 530 585.6 533 585.5 536 585.4 539 585.2 542 585.1 545 584.9 548 584.7 551 584.5 554 584.2 557 584 560 583.7 563 583.3 566 583.1 569 582.7 572 582.3 575 581.7 578 581.1 581 580.5 584 579.9 587 579.1 590 578.3 593 577.6 596 576.9 599 576.1 602 575.3 605 574.4 608 573.5 611 572.4 613 571.6 613 573.3 611 573.9 608 574.9 605 575.8 602 576.5 599 577.2 596 577.9 593 578.6 590 579.2 587 579.8 584 580.5 581 581 578 581.5 575 582 572 582.4 569 582.7 566 582.9 563 583.1 560 583.3 557 583.5 554 583.6 551 583.8 548 583.9 545 584 542 584.2 539 584.3 536 584.4 533 584.5 530 584.5 527 584.4 524 584.2 521 584.1 518 583.9 515 583.8 512 583.8 509 583.8 506 583.8 503 583.7 500 583.7 497 583.6 494 583.6 491 583.5 488 583.5 485 583.5 482 583.5 479 583.4 476 583.2 473 583.1 470 582.9 467 582.6 464 582.2 461 582 458 581.7 455 581.2 452 580.7 449 580.2 446 579.7 443 579.5 440 579.2 437 579 434 578.9 431 578.8 428 578.6 425 578.4 422 578.2 419 578 416 577.9 413 577.8 410 577.6 407 577.5 404 577.4 401 577.4 398 577.4 395 577.4 392 577.4 389 577.4 386 577.5 383 577.5 380 577.5 377 577.5 374 577.5 371 577.5 368 577.5 365 577.4 362 577.5 359 577.5 356 577.6 353 577.6 350 577.7 347 577.8 344 577.9 341 578 338 578.1 335 578.2 332 578.3 329 578.3 326 578.3 323 578.3 320 578.3 317 578.4 314 578.4 311 578.5 308 578.6 305 578.7 302 578.9 299 579.1 296 579.3 293 579.5 290 579.7 287 580 284 580.3 281 580.7 278 581.2 275 581.6 272 582.1 269 582.6 266 583.1 263 583.7 260 584.3 257 585 254 585.8 251 586.6 248 587.4 245 588.2 242 589.2 239 590.2 236 591.4 233 592.7 230 594 227 595.3 224 596.6 221 597.9 218 599.1 215 600.4 212 601.8 209 603.3 206 604.9 203 606.3 200 607.8 197 609.3 194 610.9 191 612.7 188 614.3 185 615.8 182 617.5 179 619.1 176 620.3 173 621.5 170 622.5 167 623.4 164 624.1 161 624.8 158 625.3 155 625.9 152 626.5 149 627.1 146 627.6 143 628.1 140 628.7 137 629.2 134 629.6 131 630 128 630.4 125 630.8 122 631.2 119 631.6 116 632 113 632.4 110 632.7 107 633 104 633.3 101 633.8 98 634.4 95 635 92 635.6 89 636.2 86 636.8 83 637.3 80 637.8 77 638.2 74 638.6 71 638.9 68 639.3 65 639.7 62 640 59 640.4 56 640.7 53 641 50 641.3 47 641.6 44 641.8 41 642 38 642.2 35 642.4Z" fill="#ff0000" stroke="#ff0000" stroke-width="0.6"/><path d="M35 642.4 38 642.2 41 642 44 641.8 47 641.6 50 641.3 53 641 56 640.7 59 640.4 62 640 65 639.7 68 639.3 71 638.9 74 638.6 77 638.2 80 637.8 83 637.3 86 636.8 89 636.2 92 635.6 95 635 98 634.4 101 633.8 104 633.3 107 633 110 632.7 113 632.4 116 632 119 631.6 122 631.2 125 630.8 128 630.4 131 630 134 629.6 137 629.2 140 628.7 143 628.1 146 627.6 149 627.1 152 626.5 155 625.9 158 625.3 161 624.8 164 624.1 167 623.4 170 622.5 173 621.5 176 620.3 179 619.1 182 617.5 185 615.8 188 614.3 191 612.7 194 610.9 197 609.3 200 607.8 203 606.3 206 604.9 209 603.3 212 601.8 215 600.4 218 599.1 221 597.9 224 596.6 227 595.3 230 594 233 592.7 236 591.4 239 590.2 242 589.2 245 588.2 248 587.4 251 586.6 254 585.8 257 585 260 584.3 263 583.7 266 583.1 269 582.6 272 582.1 275 581.6 278 581.2 281 580.7 284 580.3 287 580 290 579.7 293 579.5 296 579.3 299 579.1 302 578.9 305 578.7 308 578.6 311 578.5 314 578.4 317 578.4 320 578.3 323 578.3 326 578.3 329 578.3 332 578.3 335 578.2 338 578.1 341 578 344 577.9 347 577.8 350 577.7 353 577.6 356 577.6 359 577.5 362 577.5 365 577.4 368 577.5 371 577.5 374 577.5 377 577.5 380 577.5 383 577.5 386 577.5 389 577.4 392 577.4 395 577.4 398 577.4 401 577.4 404 577.4 407 577.5 410 577.6 413 577.8 416 577.9 419 578 422 578.2 425 578.4 428 578.6 431 578.8 434 578.9 437 579 440 579.2 443 579.5 446 579.7 449 580.2 452 580.7 455 581.2 458 581.7 461 582 464 582.2 467 582.6 470 582.9 473 583.1 476 583.2 479 583.4 482 583.5 485 583.5 488 583.5 491 583.5 494 583.6 497 583.6 500 583.7 503 583.7 506 583.8 509 583.8 512 583.8 515 583.8 518 583.9 521 584.1 524 584.2 527 584.4 530 584.5 533 584.5 536 584.4 539 584.3 542 584.2 545 584 548 583.9 551 583.8 554 583.6 557 583.5 560 583.3 563 583.1 566 582.9 569 582.7 572 582.4 575 582 578 581.5 581 581 584 580.5 587 579.8 590 579.2 593 578.6 596 577.9 599 577.2 602 576.5 605 575.8 608 574.9 611 573.9 613 573.3 613 574.5 611 575.1 608 576 605 576.7 602 577.4 599 578 596 578.6 593 579.1 590 579.6 587 580.2 584 580.7 581 581.1 578 581.5 575 581.9 572 582.2 569 582.5 566 582.6 563 582.7 560 582.8 557 582.9 554 583 551 583 548 583 545 583 542 583 539 582.9 536 582.8 533 582.7 530 582.6 527 582.4 524 582.1 521 581.8 518 581.6 515 581.4 512 581.3 509 581.2 506 581.2 503 581 500 580.8 497 580.7 494 580.5 491 580.4 488 580.3 485 580.2 482 580.2 479 580.2 476 580.2 473 580.3 470 580.4 467 580.4 464 580.5 461 580.7 458 580.8 455 580.8 452 580.7 449 580.5 446 580.4 443 580.4 440 580.3 437 580.3 434 580.4 431 580.4 428 580.4 425 580.4 422 580.3 419 580.3 416 580.3 413 580.2 410 580.2 407 580.1 404 580.1 401 580 398 580 395 580 392 580 389 580 386 580 383 580 380 580.1 377 580.1 374 580.2 371 580.3 368 580.4 365 580.5 362 580.6 359 580.8 356 580.9 353 581 350 581.1 347 581.3 344 581.4 341 581.6 338 581.7 335 581.9 332 582 329 582.1 326 582.2 323 582.2 320 582.3 317 582.4 314 582.5 311 582.7 308 582.8 305 583.1 302 583.3 299 583.6 296 583.9 293 584.2 290 584.5 287 584.8 284 585.3 281 585.7 278 586.2 275 586.7 272 587.2 269 587.8 266 588.4 263 589 260 589.7 257 590.4 254 591.1 251 591.9 248 592.6 245 593.4 242 594.3 239 595.3 236 596.4 233 597.6 230 598.8 227 600 224 601.3 221 602.5 218 603.6 215 604.8 212 606.1 209 607.5 206 608.9 203 610.2 200 611.5 197 612.9 194 614.3 191 615.9 188 617.4 185 618.7 182 620.2 179 621.7 176 622.8 173 623.8 170 624.7 167 625.5 164 626.2 161 626.8 158 627.3 155 627.9 152 628.4 149 628.9 146 629.4 143 629.8 140 630.3 137 630.8 134 631.2 131 631.6 128 631.9 125 632.3 122 632.7 119 633.1 116 633.5 113 633.8 110 634.1 107 634.4 104 634.7 101 635.1 98 635.7 95 636.2 92 636.7 89 637.3 86 637.8 83 638.3 80 638.7 77 639.1 74 639.4 71 639.8 68 640.1 65 640.4 62 640.7 59 641 56 641.3 53 641.6 50 641.9 47 642.1 44 642.3 41 642.5 38 642.6 35 642.8Z" fill="#00ffff" stroke="#00ffff" stroke-width="0.6"/></g><g fill="none" stroke-linejoin="round" stroke-linecap="round" clip-path="url(#clipL)"><path d="M35 204 35.5 204 36 204 36.5 204 37 204 37.5 204.9 38 204.9 38.5 206.5 39 206.5 39.5 206.5 40 207.6 40.5 207.6 41 208 41.5 207.8 42 207.8 42.5 207.8 43 207.8 43.5 207.8 44 208 44.5 208 45 206.8 45.5 206.8 46 206.8 46.5 206.8 47 206.8 47.5 206.8 48 206.8 48.5 206.8 49 206.8 49.5 206.8 50 206.8 50.5 206.8 51 206.1 51.5 206 52 206 52.5 206 53 206 53.5 206 54 206.4 54.5 206.6 55 206.5 55.5 206.5 56 206.5 56.5 206.3 57 206.3 57.5 206.3 58 206.3 58.5 206.3 59 206.4 59.5 206.4 60 205.9 60.5 205.9 61 205.9 61.5 205.9 62 205.9 62.5 205.6 63 205.6 63.5 205.6 64 205.6 64.5 205.6 65 206.5 65.5 206.5 66 206.5 66.5 206.5 67 206.5 67.5 206.8 68 206.8 68.5 206.4 69 206.4 69.5 204.7 70 204.7 70.5 204.7 71 204.7 71.5 204.7 72 204.6 72.5 204.6 73 204.6 73.5 203.2 74 203.2 74.5 202.9 75 202.1 75.5 201.3 76 201.3 76.5 200.3 77 200 77.5 199.9 78 199.9 78.5 197.6 79 197.6 79.5 197.6 80 197.6 80.5 197.5 81 197 81.5 194.5 82 194.3 82.5 193.5 83 193.5 83.5 193.5 84 191 84.5 190.4 85 190 85.5 189.4 86 189.4 86.5 189.3 87 187.6 87.5 186.1 88 186.1 88.5 186.1 89 186.1 89.5 186.1 90 186.1 90.5 186.1 91 186.1 91.5 187.7 92 187.7 92.5 187.8 93 188.2 93.5 188.2 94 188.2 94.5 191.4 95 191 95.5 189.7 96 189.7 96.5 188.8 97 188.5 97.5 188.5 98 188 98.5 188 99 186.9 99.5 186.9 100 186.9 100.5 186.9 101 186.9 101.5 187.9 102 189.5 102.5 190.4 103 192.4 103.5 192.5 104 196.2 104.5 196.2 105 196.2 105.5 197.7 106 198.9 106.5 198.9 107 198.9 107.5 200 108 200 108.5 200 109 200 109.5 200 110 199.2 110.5 197.8 111 197.8 111.5 197.6 112 195.5 112.5 195.5 113 193.3 113.5 193.3 114 193.3 114.5 193.2 115 191.7 115.5 189.4 116 188.8 116.5 187.3 117 187.3 117.5 187.3 118 187.3 118.5 187.3 119 188.2 119.5 188.2 120 188.2 120.5 188.2 121 188.2 121.5 190.2 122 190.7 122.5 189.3 123 189.3 123.5 189.3 124 189.1 124.5 188.8 125 188.8 125.5 188.8 126 188.8 126.5 188.8 127 188.6 127.5 188.6 128 188.6 128.5 188.6 129 187.2 129.5 186.4 130 186.1 130.5 185.7 131 185.5 131.5 185.5 132 185.5 132.5 185.5 133 185.1 133.5 185.1 134 185.1 134.5 182.4 135 182.4 135.5 182.4 136 182.2 136.5 181.2 137 179.5 137.5 177.7 138 177.7 138.5 176.6 139 176.6 139.5 176.6 140 174.3 140.5 174.3 141 174.3 141.5 174.3 142 174.3 142.5 174.7 143 175.1 143.5 175.1 144 175.1 144.5 175.3 145 175.8 145.5 176.9 146 176.9 146.5 176.9 147 179.1 147.5 177.4 148 176.5 148.5 176.5 149 176.5 149.5 176.5 150 176.5 150.5 175.4 151 175.4 151.5 175.4 152 173.2 152.5 172.8 153 172.4 153.5 171.8 154 171.8 154.5 171.2 155 171.2 155.5 170.4 156 170.4 156.5 170.4 157 170.4 157.5 170.4 158 170.8 158.5 170.3 159 170.3 159.5 170.3 160 170.2 160.5 170 161 168.2 161.5 168.2 162 168.1 162.5 167 163 167 163.5 166.6 164 166.6 164.5 166.6 165 166.3 165.5 165 166 165 166.5 164.8 167 164.8 167.5 162.3 168 162.3 168.5 161.8 169 161.4 169.5 161.4 170 161.4 170.5 161.4 171 161.4 171.5 162.5 172 162.5 172.5 162.8 173 162.9 173.5 162.9 174 162.9 174.5 163.5 175 163.5 175.5 163.6 176 163.8 176.5 163.8 177 164.2 177.5 164 178 160.8 178.5 160.8 179 160.8 179.5 159.7 180 156.4 180.5 155.4 181 155.4 181.5 153.2 182 153.2 182.5 152.2 183 152.2 183.5 152.2 184 152.2 184.5 150.5 185 150.5 185.5 150.5 186 149 186.5 149 187 149 187.5 147.7 188 147.7 188.5 147.3 189 147.1 189.5 146.5 190 143.8 190.5 139.4 191 138.1 191.5 136.1 192 133.4 192.5 130.7 193 130.7 193.5 130.7 194 130.7 194.5 130.7 195 131.1 195.5 134.6 196 134.6 196.5 138.5 197 140.3 197.5 141.2 198 144.3 198.5 144.3 199 144.3 199.5 141.5 200 141.3 200.5 141.3 201 141.3 201.5 141.3 202 141.3 202.5 141.6 203 144.2 203.5 144.2 204 144.7 204.5 146.5 205 147.1 205.5 145.8 206 144.9 206.5 141.6 207 140.2 207.5 140.2 208 139.8 208.5 139.4 209 139.4 209.5 139.4 210 139.4 210.5 139.4 211 142.7 211.5 142.7 212 142.7 212.5 142.7 213 144.2 213.5 144.2 214 147.1 214.5 147.1 215 147.5 215.5 148.9 216 148.9 216.5 148.9 217 148.9 217.5 149.6 218 149.6 218.5 149.6 219 149.9 219.5 149.9 220 149.3 220.5 149 221 146.9 221.5 146.4 222 144.3 222.5 144 223 142.2 223.5 142.2 224 141.8 224.5 139.6 225 139.5 225.5 139.5 226 139.1 226.5 139.1 227 139.1 227.5 139.1 228 139.1 228.5 140.9 229 140.9 229.5 141.5 230 141.9 230.5 141.9 231 142.6 231.5 143.1 232 143.1 232.5 143.1 233 144.1 233.5 143.4 234 143.4 234.5 143.4 235 143.4 235.5 143.4 236 143.8 236.5 143.9 237 144.7 237.5 144.7 238 144.7 238.5 144.7 239 146.2 239.5 146.2 240 146.2 240.5 146.2 241 146.3 241.5 149.4 242 153 242.5 155 243 158.9 243.5 161.3 244 164.6 244.5 165.3 245 165.3 245.5 165.3 246 167.5 246.5 167.5 247 168.5 247.5 168.5 248 169.1 248.5 166.5 249 166.3 249.5 164.8 250 164.8 250.5 162.6 251 161.6 251.5 161.5 252 161.5 252.5 161.5 253 161.5 253.5 161.5 254 161.7 254.5 163.4 255 163.7 255.5 164.9 256 165.1 256.5 165.7 257 165.7 257.5 165.7 258 166 258.5 166.5 259 166.5 259.5 167.6 260 167.6 260.5 167.6 261 170.7 261.5 170.9 262 170.9 262.5 170.9 263 170.9 263.5 170.9 264 170.6 264.5 169.4 265 169.4 265.5 168.7 266 168.2 266.5 166.2 267 165.1 267.5 164.9 268 164.9 268.5 163.8 269 163.8 269.5 163.8 270 163.8 270.5 163.8 271 165 271.5 165 272 164.5 272.5 164.5 273 164.5 273.5 164.5 274 164.5 274.5 166.9 275 166.2 275.5 166.2 276 166.2 276.5 166.2 277 166.2 277.5 167 278 167 278.5 167 279 167.8 279.5 168.2 280 168.2 280.5 169.7 281 169.7 281.5 169.7 282 169.7 282.5 170.3 283 170.2 283.5 170.2 284 170.2 284.5 170.2 285 170.2 285.5 170.7 286 171.3 286.5 172 287 172 287.5 172 288 172 288.5 172.6 289 173.6 289.5 175.2 290 174.9 290.5 174.5 291 173 291.5 173 292 172.4 292.5 172.4 293 172.4 293.5 170.6 294 170.6 294.5 170.6 295 170.6 295.5 170.6 296 170.9 296.5 170.9 297 170.9 297.5 170.9 298 170.9 298.5 171.1 299 171.8 299.5 171.8 300 172.4 300.5 172.4 301 173.5 301.5 173.5 302 173.5 302.5 175.5 303 175.5 303.5 175.5 304 175.5 304.5 175.5 305 175.6 305.5 175.6 306 175.6 306.5 175.8 307 177.2 307.5 177.2 308 177.2 308.5 177.2 309 177.8 309.5 177.8 310 177.8 310.5 177.8 311 178.1 311.5 178.1 312 177.9 312.5 177.9 313 177.9 313.5 177.9 314 177.9 314.5 177.3 315 177.3 315.5 176.7 316 175.8 316.5 175.8 317 175.8 317.5 175.8 318 175.8 318.5 175.8 319 177.4 319.5 177.4 320 178.3 320.5 178.3 321 178.9 321.5 179.6 322 179.6 322.5 180.7 323 181.4 323.5 181.2 324 179.3 324.5 179.3 325 176.6 325.5 176.6 326 176.6 326.5 176.6 327 176.1 327.5 174.4 328 173.1 328.5 173.1 329 172.2 329.5 172.2 330 172.1 330.5 171.6 331 171.6 331.5 171.6 332 170.3 332.5 170.3 333 169.7 333.5 169.7 334 169.3 334.5 168.2 335 167.8 335.5 167.5 336 167.5 336.5 167.5 337 166.5 337.5 166.5 338 166.5 338.5 166.1 339 164.7 339.5 164.7 340 164.7 340.5 164.7 341 164.7 341.5 164.9 342 164.9 342.5 165.2 343 165.2 343.5 165.8 344 166.1 344.5 167.2 345 167.2 345.5 167.2 346 167.2 346.5 166.9 347 166.9 347.5 166.9 348 166.9 348.5 166.9 349 168.6 349.5 170.2 350 170.2 350.5 172.4 351 173.8 351.5 174.4 352 174.4 352.5 175.6 353 176.5 353.5 177.5 354 174.3 354.5 173.9 355 173.9 355.5 173.9 356 173.8 356.5 173.6 357 171.6 357.5 171.6 358 171.6 358.5 171.6 359 171.6 359.5 172.7 360 171.4 360.5 170.8 361 170.7 361.5 170.7 362 170.7 362.5 170.7 363 170.7 363.5 171.5 364 171.5 364.5 170.6 365 170.6 365.5 169 366 169 366.5 169 367 169 367.5 169 368 169.2 368.5 168.5 369 168.5 369.5 168.5 370 168.5 370.5 168 371 167.7 371.5 167.7 372 167.7 372.5 167.7 373 167.7 373.5 167.7 374 166.8 374.5 166.8 375 166.8 375.5 166.8 376 166.8 376.5 167.6 377 167.5 377.5 166.6 378 166.5 378.5 166.5 379 166.5 379.5 166.4 380 165.3 380.5 165.3 381 165.3 381.5 165.3 382 165.3 382.5 165.6 383 165.6 383.5 165.1 384 164.4 384.5 164.4 385 164.4 385.5 164.4 386 164.4 386.5 164.9 387 164.9 387.5 164.9 388 164.9 388.5 164.9 389 164.9 389.5 164.9 390 164.9 390.5 165 391 165 391.5 165 392 165 392.5 165 393 165.2 393.5 165.2 394 166.7 394.5 166.7 395 166.7 395.5 167.5 396 168.7 396.5 169.7 397 169.7 397.5 169.7 398 171.1 398.5 171.2 399 172 399.5 172 400 172.2 400.5 172.7 401 174.3 401.5 176.4 402 176.2 402.5 175.4 403 175.4 403.5 175.4 404 173.9 404.5 173.9 405 173.9 405.5 173.9 406 173.6 406.5 172.7 407 171.8 407.5 171.8 408 171.8 408.5 171.8 409 170.9 409.5 170.9 410 170.9 410.5 170.9 411 170.9 411.5 170.9 412 170.9 412.5 169.6 413 169.6 413.5 169.6 414 169.6 414.5 169.5 415 169.5 415.5 169.5 416 168.5 416.5 168.5 417 168.5 417.5 168.5 418 167.9 418.5 167.8 419 167.7 419.5 167.7 420 167.7 420.5 167.7 421 167.7 421.5 167.8 422 167 422.5 167 423 166.8 423.5 165.1 424 165.1 424.5 164 425 163.3 425.5 161.8 426 161.8 426.5 161.8 427 161.8 427.5 161.8 428 158.5 428.5 158.4 429 158.4 429.5 158.4 430 158.4 430.5 156.1 431 155 431.5 154.9 432 154.4 432.5 154.4 433 152.5 433.5 152.5 434 152.5 434.5 152.5 435 152.5 435.5 154.8 436 154.7 436.5 154.7 437 154.7 437.5 154.7 438 154.7 438.5 155 439 155.2 439.5 155.2 440 154.5 440.5 153.7 441 153.7 441.5 153.4 442 153.4 442.5 153.4 443 153.4 443.5 150.7 444 149.5 444.5 148.9 445 148.9 445.5 148.9 446 148.6 446.5 147.5 447 147.5 447.5 147.5 448 147.5 448.5 147.5 449 147.5 449.5 146.5 450 144.4 450.5 144.4 451 144 451.5 144 452 143.3 452.5 143.3 453 141.9 453.5 141.6 454 141.1 454.5 140.3 455 140.3 455.5 140.3 456 139.5 456.5 139.3 457 139.3 457.5 135.8 458 133 458.5 132.9 459 130.5 459.5 129.7 460 124.9 460.5 124.2 461 124.2 461.5 124.2 462 124.2 462.5 124.2 463 125 463.5 126.5 464 126.6 464.5 126.6 465 128.7 465.5 129.5 466 130.7 466.5 130.7 467 130.4 467.5 129.6 468 129.6 468.5 129.6 469 128.3 469.5 128.3 470 128.3 470.5 128.3 471 128.3 471.5 130.7 472 130.9 472.5 130.9 473 132.2 473.5 132.2 474 133.2 474.5 134.1 475 135.9 475.5 136.2 476 136.2 476.5 136.4 477 138.2 477.5 139.4 478 139.4 478.5 140.7 479 140.1 479.5 140.1 480 139.9 480.5 139.4 481 136.8 481.5 136.3 482 136.3 482.5 135.5 483 134.3 483.5 133.5 484 133.5 484.5 133.2 485 133.2 485.5 133.2 486 133.2 486.5 133.2 487 134.4 487.5 134.4 488 135.1 488.5 136.4 489 136.4 489.5 136.4 490 136.4 490.5 137.3 491 137.3 491.5 137.3 492 139.6 492.5 139.6 493 138.5 493.5 137.6 494 137.6 494.5 137.6 495 137.6 495.5 136.2 496 136.2 496.5 136.2 497 136.2 497.5 134.7 498 134.7 498.5 134.7 499 134.7 499.5 133.5 500 133.5 500.5 133.5 501 133.5 501.5 133.5 502 134.2 502.5 134.2 503 134.2 503.5 134.2 504 134.2 504.5 134.4 505 133 505.5 133 506 131.2 506.5 130.6 507 127.3 507.5 127.3 508 125 508.5 124.3 509 124.3 509.5 124.3 510 124.3 510.5 124.3 511 124.3 511.5 124.3 512 124.3 512.5 125.4 513 127 513.5 128.4 514 129 514.5 129.1 515 130.5 515.5 132.5 516 132.5 516.5 132.5 517 134.4 517.5 134.4 518 134.4 518.5 135.9 519 135.9 519.5 138 520 138.5 520.5 139 521 139 521.5 139.7 522 140.4 522.5 140.4 523 140.4 523.5 140.4 524 140.4 524.5 140.4 525 142.1 525.5 142.1 526 142.1 526.5 143.2 527 142.4 527.5 141.6 528 141.6 528.5 139.7 529 139.7 529.5 139.2 530 136.8 530.5 136.8 531 135.1 531.5 135.1 532 135.1 532.5 133.8 533 131.5 533.5 131.5 534 130.9 534.5 130.9 535 128.4 535.5 128.4 536 128.4 536.5 127.8 537 127.8 537.5 125.5 538 125.5 538.5 125.5 539 125.5 539.5 125.5 540 123.7 540.5 123.7 541 123.7 541.5 122.4 542 122.4 542.5 122.4 543 121.7 543.5 121.7 544 121.4 544.5 121.4 545 121.4 545.5 121.4 546 121.4 546.5 122.2 547 122.2 547.5 124 548 124.3 548.5 124.3 549 125.1 549.5 126.2 550 126.2 550.5 126.2 551 127.3 551.5 128 552 130.8 552.5 130.8 553 130.8 553.5 130.8 554 129.9 554.5 129.9 555 129.3 555.5 128.9 556 128.9 556.5 126.2 557 126.2 557.5 126.2 558 125.4 558.5 125.4 559 123.8 559.5 123.8 560 121.8 560.5 119.7 561 119.4 561.5 116.9 562 116.2 562.5 116.2 563 116 563.5 116 564 116 564.5 116 565 116 565.5 116.8 566 116.8 566.5 117.5 567 116.6 567.5 116.6 568 116.1 568.5 115.3 569 112.5 569.5 110.5 570 109.5 570.5 105.4 571 104.7 571.5 104.7 572 102.1 572.5 101 573 101 573.5 99.3 574 99.1 574.5 98.8 575 98.8 575.5 98.8 576 98.8 576.5 98.8 577 99 577.5 99 578 99 578.5 99 579 99 579.5 99 580 99.2 580.5 99.2 581 99.2 581.5 99.2 582 97.3 582.5 93.8 583 93.1 583.5 90 584 86.6 584.5 86.6 585 85.2 585.5 85.2 586 84.3 586.5 81.9 587 81.9 587.5 79.5 588 79.5 588.5 78.9 589 77.5 589.5 77.5 590 77.5 590.5 77.5 591 77.5 591.5 77.9 592 79.8 592.5 79.8 593 82.5 593.5 81 594 78.2 594.5 75.5 595 70.2 595.5 68.7 596 68 596.5 66.5 597 66.5 597.5 66.5 598 66.5 598.5 63.7 599 63.7 599.5 61.9 600 57.5 600.5 54.9 601 50.4 601.5 46.2 602 41.3 602.5 37.2 603 34.7 603.5 34.7 604 34.7 604.5 34.7 605 34.7 605.5 36.3 606 38.3 606.5 38.8 607 39.4 607.5 39.4 608 39.4 608.5 38.8 609 38.8 609.5 38.8 610 37.6 610.5 37.6 611 37.3 611.5 37.3 612 37.3 612.5 37.3 613 37.3 613 40.4 612.5 40.5 612 40.5 611.5 41.1 611 41.1 610.5 41.1 610 41.1 609.5 41.9 609 41.9 608.5 41.9 608 41.9 607.5 41.9 607 41.8 606.5 41.8 606 41 605.5 41 605 40.8 604.5 39.6 604 42.1 603.5 47 603 51.2 602.5 55.7 602 58.3 601.5 62.7 601 66.5 600.5 66.5 600 67.4 599.5 68.3 599 69.3 598.5 69.3 598 69.3 597.5 69.5 597 71 596.5 76.3 596 79 595.5 81.8 595 85.4 594.5 85.4 594 85.4 593.5 85.6 593 85.6 592.5 85.6 592 85.6 591.5 85.6 591 83.3 590.5 82 590 82 589.5 81 589 83.9 588.5 83.9 588 85.1 587.5 86.7 587 86.7 586.5 87.5 586 87.5 585.5 90.8 585 93.9 584.5 94.6 584 98.1 583.5 101.3 583 102.5 582.5 102.7 582 102.7 581.5 102.7 581 102.7 580.5 102.7 580 102.5 579.5 102.5 579 102.5 578.5 102.5 578 102.5 577.5 101.2 577 101.2 576.5 101.2 576 100.9 575.5 100.9 575 101.9 574.5 101.9 574 102.9 573.5 105.9 573 105.9 572.5 106.2 572 110.3 571.5 111.3 571 113.3 570.5 116.1 570 116.9 569.5 117.6 569 117.6 568.5 118.3 568 119.3 567.5 119.3 567 120.1 566.5 120.1 566 120.1 565.5 120.1 565 120.1 564.5 119.3 564 119.3 563.5 119.3 563 120.2 562.5 120.5 562 122.6 561.5 125.5 561 125.5 560.5 126.9 560 126.9 559.5 127.5 559 129.3 558.5 129.3 558 130.1 557.5 130.1 557 130.1 556.5 131.7 556 131.7 555.5 132.1 555 132.4 554.5 132.4 554 134.3 553.5 134.3 553 134.3 552.5 134.3 552 134.3 551.5 133.2 551 133.2 550.5 132 550 132 549.5 128.8 549 128.1 548.5 127.3 548 127.3 547.5 127.3 547 126.7 546.5 126.7 546 126.7 545.5 124.8 545 124.5 544.5 124.7 544 124.7 543.5 124.7 543 126.3 542.5 126.3 542 126.3 541.5 127.2 541 127.7 540.5 127.7 540 128.4 539.5 128.4 539 128.6 538.5 128.6 538 130.3 537.5 130.7 537 130.7 536.5 132.7 536 132.7 535.5 132.9 535 132.9 534.5 134.6 534 136.3 533.5 137.1 533 137.1 532.5 138.6 532 138.6 531.5 140 531 140.7 530.5 140.7 530 142.5 529.5 142.5 529 143.2 528.5 145.3 528 145.3 527.5 145.3 527 145.3 526.5 145.3 526 145.3 525.5 145.3 525 145.3 524.5 144.9 524 143.4 523.5 143.4 523 143.4 522.5 142.2 522 142.2 521.5 142.2 521 142.2 520.5 141.3 520 141.3 519.5 140.5 519 140.2 518.5 140.2 518 139.3 517.5 138.8 517 138.4 516.5 138.4 516 136.8 515.5 136.8 515 135.6 514.5 135.4 514 135.4 513.5 133.9 513 131.3 512.5 129.9 512 129.8 511.5 129.2 511 127.8 510.5 126.2 510 126.2 509.5 128.8 509 128.8 508.5 131.4 508 132 507.5 134.2 507 134.2 506.5 136.8 506 136.8 505.5 136.8 505 137.9 504.5 137.9 504 137.9 503.5 137.9 503 137.9 502.5 137.7 502 137.4 501.5 137.4 501 137.4 500.5 136.8 500 136.8 499.5 136.8 499 137.1 498.5 137.1 498 138.3 497.5 138.3 497 140 496.5 140 496 140 495.5 140 495 140 494.5 140.7 494 142.5 493.5 142.5 493 142.5 492.5 142.5 492 142.5 491.5 142.2 491 142.2 490.5 141.4 490 141.4 489.5 139.4 489 139.4 488.5 139.4 488 138.7 487.5 138.7 487 138.7 486.5 137.8 486 135.9 485.5 135.6 485 135.6 484.5 136.3 484 138 483.5 138 483 138 482.5 140.2 482 140.7 481.5 141 481 141 480.5 141.6 480 143.9 479.5 144.7 479 144.7 478.5 144.7 478 144.7 477.5 144.7 477 142 476.5 141.5 476 141 475.5 141 475 139 474.5 137.6 474 137.6 473.5 137.6 473 136.7 472.5 134.9 472 134 471.5 133 471 133 470.5 132.3 470 132.3 469.5 132.1 469 132.1 468.5 132.8 468 132.8 467.5 133.5 467 133.5 466.5 134.2 466 134.2 465.5 134.2 465 134.2 464.5 134.2 464 131.9 463.5 130.3 463 129.5 462.5 128.8 462 128.8 461.5 130.5 461 131.3 460.5 133.7 460 133.8 459.5 136.6 459 140.1 458.5 140.1 458 140.3 457.5 141.6 457 143 456.5 143 456 143 455.5 143 455 143 454.5 144.9 454 144.9 453.5 145.2 453 145.2 452.5 147 452 147 451.5 147.3 451 148.3 450.5 148.4 450 148.6 449.5 148.8 449 148.8 448.5 148.8 448 149.4 447.5 150.7 447 150.7 446.5 150.7 446 150.7 445.5 151.5 445 154.5 444.5 154.8 444 155.7 443.5 155.7 443 155.7 442.5 155.7 442 155.7 441.5 156.5 441 158.7 440.5 158.7 440 158.7 439.5 158.7 439 158.7 438.5 157.9 438 157.9 437.5 157.9 437 156.4 436.5 156.4 436 156.4 435.5 156.4 435 156.4 434.5 156.2 434 155.9 433.5 155.9 433 155.9 432.5 156.9 432 159.5 431.5 160.2 431 160.2 430.5 160.2 430 160.2 429.5 162.9 429 162.9 428.5 164.2 428 164.3 427.5 164.3 427 164.3 426.5 164.8 426 166.7 425.5 166.7 425 167.6 424.5 169.4 424 169.4 423.5 169.4 423 170.6 422.5 170.6 422 170.6 421.5 171.1 421 171.1 420.5 171.1 420 171.1 419.5 171.2 419 171.5 418.5 171.5 418 171.5 417.5 172.2 417 172.2 416.5 172.2 416 172.7 415.5 172.7 415 172.7 414.5 172.7 414 172.7 413.5 173.2 413 173.3 412.5 173.3 412 173.3 411.5 174.2 411 174.2 410.5 174.7 410 174.7 409.5 174.7 409 174.7 408.5 174.7 408 174.4 407.5 174.8 407 175.2 406.5 176.4 406 176.4 405.5 177.4 405 178.3 404.5 178.3 404 178.3 403.5 179.3 403 179.3 402.5 179.3 402 179.3 401.5 179.3 401 179 400.5 177.6 400 177.6 399.5 177.2 399 175.1 398.5 174.9 398 174.9 397.5 174.9 397 174.9 396.5 172.5 396 172.5 395.5 172.5 395 172.5 394.5 170.9 394 169.5 393.5 168.7 393 168.7 392.5 168.7 392 168.7 391.5 167.7 391 167.7 390.5 168.2 390 168.2 389.5 168.2 389 168.2 388.5 168.2 388 167.6 387.5 167.6 387 167.6 386.5 167.6 386 167.2 385.5 167.2 385 168.3 384.5 168.3 384 168.3 383.5 168.3 383 168.3 382.5 168 382 168 381.5 168 381 168.6 380.5 169.5 380 169.5 379.5 169.5 379 169.5 378.5 169.8 378 169.8 377.5 170.2 377 170.2 376.5 170.2 376 170.2 375.5 170.2 375 169.6 374.5 169.6 374 169.9 373.5 169.9 373 169.9 372.5 169.9 372 170.8 371.5 170.8 371 170.8 370.5 170.8 370 170.8 369.5 171.2 369 172.2 368.5 172.2 368 172.2 367.5 172.2 367 172.2 366.5 172.1 366 172.5 365.5 172.5 365 172.7 364.5 173.6 364 173.6 363.5 173.6 363 173.6 362.5 173.6 362 172.9 361.5 174.7 361 174.7 360.5 174.7 360 175 359.5 175 359 175 358.5 175 358 175 357.5 176.4 357 176.4 356.5 176.4 356 176.4 355.5 178.3 355 178.8 354.5 179.6 354 179.6 353.5 179.6 353 179.6 352.5 179.6 352 178.8 351.5 178.8 351 177.3 350.5 176.4 350 176.3 349.5 176.3 349 174.6 348.5 173.2 348 172.6 347.5 172.6 347 169.4 346.5 168.7 346 168.7 345.5 168.9 345 169.2 344.5 169.2 344 169.2 343.5 169.2 343 169.2 342.5 168 342 166.9 341.5 166.6 341 166.6 340.5 166.9 340 169 339.5 169.1 339 169.1 338.5 169.1 338 170.2 337.5 170.2 337 170.2 336.5 170.2 336 170.2 335.5 171 335 171 334.5 172 334 172 333.5 173.8 333 173.8 332.5 173.8 332 173.8 331.5 173.8 331 173.7 330.5 176.1 330 176.1 329.5 176.1 329 176.9 328.5 177.9 328 177.9 327.5 179 327 179 326.5 180.1 326 180.1 325.5 182 325 182.5 324.5 182.5 324 183.3 323.5 184.1 323 184.1 322.5 184.1 322 184.1 321.5 184.1 321 183.9 320.5 181.5 320 180.9 319.5 180.9 319 180.8 318.5 180.8 318 180.8 317.5 179.5 317 179.5 316.5 178.2 316 179 315.5 180.5 315 180.5 314.5 180.5 314 180.5 313.5 180.9 313 180.9 312.5 181.3 312 181.3 311.5 181.3 311 181.3 310.5 181.3 310 181.3 309.5 181.3 309 181.2 308.5 181 308 181 307.5 179.1 307 178.9 306.5 178.5 306 178.5 305.5 178.5 305 178.7 304.5 178.7 304 178.7 303.5 178.7 303 178.7 302.5 177.9 302 177.9 301.5 177.9 301 176.9 300.5 176.9 300 176.6 299.5 176.6 299 174.8 298.5 174.6 298 174.6 297.5 174.6 297 174.6 296.5 173.1 296 173.1 295.5 173.1 295 174.7 294.5 175.3 294 175.3 293.5 175.8 293 175.8 292.5 175.8 292 175.8 291.5 176.3 291 176.3 290.5 176.8 290 176.8 289.5 176.8 289 176.8 288.5 176.8 288 176.5 287.5 176.1 287 174.4 286.5 174.2 286 174.2 285.5 174.2 285 174.1 284.5 174.1 284 172.6 283.5 172.6 283 172.6 282.5 172.6 282 172.5 281.5 172.5 281 172 280.5 171.9 280 171.9 279.5 171.9 279 171.9 278.5 170.9 278 170.4 277.5 170.4 277 169.4 276.5 169.4 276 169.4 275.5 169.4 275 168.7 274.5 168.7 274 168.2 273.5 168.2 273 168.2 272.5 168.1 272 167 271.5 167 271 167 270.5 166.6 270 166.5 269.5 166.5 269 166.5 268.5 167 268 169 267.5 169.5 267 170.7 266.5 170.7 266 171.4 265.5 171.9 265 172.5 264.5 172.5 264 172.5 263.5 172.5 263 173.4 262.5 173.4 262 173.4 261.5 173.4 261 173.4 260.5 172.6 260 172.2 259.5 172.2 259 171.5 258.5 169.9 258 169.9 257.5 169.6 257 169.5 256.5 169.5 256 167.6 255.5 167.6 255 167.6 254.5 166.6 254 165.9 253.5 165.7 253 164.5 252.5 164.2 252 165.6 251.5 165.6 251 167.1 250.5 167.3 250 169.9 249.5 169.9 249 171.9 248.5 172.8 248 172.8 247.5 172.8 247 172.8 246.5 172.8 246 171.5 245.5 169.4 245 169.4 244.5 169.4 244 169.4 243.5 166.4 243 166.4 242.5 166.4 242 165.4 241.5 162.1 241 159.7 240.5 155.8 240 153.8 239.5 150.2 239 148.5 238.5 148.5 238 148.5 237.5 148.5 237 148.2 236.5 147 236 147 235.5 147 235 147 234.5 144.9 234 145.4 233.5 145.4 233 145.6 232.5 145.6 232 145.7 231.5 145.7 231 145.7 230.5 145.7 230 145.7 229.5 144.4 229 143.7 228.5 143.7 228 143.7 227.5 142.5 227 142.5 226.5 142.5 226 142.6 225.5 144.3 225 144.3 224.5 144.8 224 145.1 223.5 147.2 223 147.7 222.5 149.8 222 150.1 221.5 152.7 221 152.7 220.5 152.7 220 152.7 219.5 152.7 219 152.3 218.5 152 218 151.4 217.5 151.2 217 151.2 216.5 151.2 216 151.8 215.5 151.8 215 151.8 214.5 151.8 214 151.8 213.5 149.8 213 148.4 212.5 148.4 212 148.4 211.5 146.7 211 146.7 210.5 145 210 145 209.5 143.8 209 143.8 208.5 142.4 208 145.7 207.5 146.6 207 149.1 206.5 149.1 206 149.6 205.5 150.5 205 150.5 204.5 150.5 204 150.5 203.5 150.5 203 149.8 202.5 147.3 202 145.7 201.5 145.7 201 145.8 200.5 146 200 147.3 199.5 147.3 199 147.3 198.5 148.3 198 148.3 197.5 148.3 197 148.3 196.5 148.3 196 145.2 195.5 142 195 141.1 194.5 139.3 194 135.4 193.5 136.9 193 138.9 192.5 140.2 192 144.6 191.5 147.3 191 147.9 190.5 148.1 190 150.3 189.5 150.3 189 151.4 188.5 151.6 188 151.6 187.5 151.9 187 152.6 186.5 152.6 186 154.2 185.5 154.3 185 154.4 184.5 154.4 184 154.4 183.5 154.4 183 156.2 182.5 156.2 182 157.2 181.5 160.5 181 161.8 180.5 161.8 180 161.8 179.5 164.8 179 165.6 178.5 166 178 166.6 177.5 166.6 177 166.6 176.5 166.6 176 166.6 175.5 165.2 175 165.2 174.5 165.2 174 165.2 173.5 165.1 173 165.1 172.5 165.1 172 165.1 171.5 165.1 171 164.4 170.5 163.9 170 164.1 169.5 164.1 169 165.8 168.5 165.8 168 166 167.5 166 167 167.1 166.5 168.1 166 168.1 165.5 168.1 165 169.9 164.5 169.9 164 169.9 163.5 170.2 163 170.2 162.5 170.8 162 171 161.5 171.1 161 172.6 160.5 172.6 160 172.9 159.5 172.9 159 172.9 158.5 172.9 158 173.5 157.5 173.5 157 173.5 156.5 173.5 156 173.5 155.5 173.2 155 173.2 154.5 173.6 154 174 153.5 176.4 153 177.1 152.5 177.1 152 178.3 151.5 178.3 151 178.4 150.5 179.9 150 179.9 149.5 179.9 149 180.1 148.5 180.1 148 180.5 147.5 181.2 147 181.2 146.5 181.2 146 181.2 145.5 181.2 145 180.3 144.5 179.5 144 179.5 143.5 179.4 143 177.6 142.5 177.6 142 177.6 141.5 177.7 141 178 140.5 178 140 179.7 139.5 179.7 139 180.3 138.5 182 138 183 137.5 184.2 137 184.2 136.5 184.2 136 186.4 135.5 186.4 135 186.4 134.5 187.4 134 187.9 133.5 187.9 133 187.9 132.5 187.9 132 187.9 131.5 187.3 131 188 130.5 190.2 130 190.6 129.5 190.7 129 190.7 128.5 191.4 128 191.4 127.5 191.4 127 191.4 126.5 191.4 126 190.8 125.5 190.8 125 191.2 124.5 191.2 124 191.6 123.5 191.7 123 191.7 122.5 191.7 122 191.8 121.5 191.8 121 191.8 120.5 191.8 120 191.8 119.5 191 119 190.5 118.5 190.5 118 190.5 117.5 190.2 117 192.5 116.5 194 116 195.3 115.5 195.3 115 195.3 114.5 196.6 114 196.6 113.5 198.4 113 200.7 112.5 200.7 112 200.7 111.5 203 111 203 110.5 203 110 203 109.5 203 109 202.1 108.5 202.1 108 203 107.5 203 107 203 106.5 203 106 203 105.5 202.3 105 200.2 104.5 200.2 104 199.9 103.5 198.5 103 197.4 102.5 197.4 102 197.1 101.5 193.3 101 193.2 100.5 191.2 100 190.3 99.5 189.3 99 189.3 98.5 189.6 98 191.8 97.5 191.8 97 191.8 96.5 192.2 96 193.9 95.5 193.9 95 193.9 94.5 193.9 94 193.9 93.5 193.5 93 192.5 92.5 192.3 92 190.3 91.5 190.3 91 189.5 90.5 188.7 90 188.7 89.5 188.7 89 188.4 88.5 190.1 88 190.4 87.5 190.4 87 190.8 86.5 191.2 86 191.8 85.5 195 85 195.4 84.5 195.4 84 195.4 83.5 195.4 83 197.8 82.5 198.3 82 199.1 81.5 199.1 81 199.1 80.5 199.1 80 201.6 79.5 201.6 79 201.6 78.5 201.6 78 203.8 77.5 203.8 77 203.8 76.5 203.8 76 205.3 75.5 205.3 75 206.3 74.5 206.3 74 206.3 73.5 207.3 73 208 72.5 208 72 208 71.5 208 71 208 70.5 207.6 70 208.8 69.5 208.8 69 208.8 68.5 208.8 68 208.8 67.5 208.7 67 208.5 66.5 209.1 66 209.1 65.5 209.1 65 209.1 64.5 209.1 64 208.7 63.5 208.7 63 208.7 62.5 208.7 62 208.7 61.5 209.4 61 209.4 60.5 209.4 60 209.4 59.5 209.4 59 209.1 58.5 209.1 58 209.1 57.5 208.8 57 208.8 56.5 208.8 56 208.8 55.5 208.8 55 208.2 54.5 208.7 54 208.7 53.5 208.7 53 208.7 52.5 208.7 52 208.5 51.5 208.9 51 208.9 50.5 208.9 50 209.7 49.5 209.7 49 209.7 48.5 209.7 48 209.7 47.5 210.1 47 210.1 46.5 210.6 46 210.6 45.5 210.6 45 210.8 44.5 210.8 44 210.8 43.5 210.8 43 210.9 42.5 210.9 42 210.9 41.5 210.9 41 210.9 40.5 210.2 40 210.2 39.5 210.2 39 210.2 38.5 209.3 38 209.3 37.5 207.7 37 207.7 36.5 207.7 36 207 35.5 207 35 205.4Z" fill="#00f" stroke="#00f" stroke-width="0.5" filter="url(#lsh)"/><path d="M35 608.8 35.5 608.8 36 608.8 36.5 613.3 37 619.5 37.5 620.2 38 620 38.5 620 39 620 39.5 621 40 615.4 40.5 615.4 41 614.3 41.5 614.3 42 614.3 42.5 616.5 43 616.5 43.5 616.5 44 623.1 44.5 623.1 45 619.6 45.5 617.6 46 617.6 46.5 615.9 47 615.8 47.5 615.1 48 612.7 48.5 612.7 49 612.7 49.5 613.5 50 612.7 50.5 612.7 51 611.9 51.5 611.9 52 610.9 52.5 609.4 53 609.4 53.5 609.4 54 612.2 54.5 611 55 608 55.5 607.1 56 607.1 56.5 605.3 57 605.3 57.5 605.3 58 607.7 58.5 607.7 59 608.6 59.5 608.6 60 607.5 60.5 607.5 61 607.5 61.5 609.4 62 612.2 62.5 612.2 63 610 63.5 610 64 610 64.5 611.3 65 610.1 65.5 610.1 66 610.1 66.5 611.8 67 610.3 67.5 610.3 68 610.3 68.5 611 69 611 69.5 611.1 70 612.7 70.5 612.7 71 614 71.5 614 72 614 72.5 614.4 73 614.4 73.5 615.1 74 614.4 74.5 613.8 75 613.8 75.5 613.8 76 611.1 76.5 611.1 77 608.4 77.5 608.4 78 608.4 78.5 608.4 79 603.7 79.5 603.7 80 603 80.5 602.8 81 602.8 81.5 602.2 82 601.5 82.5 599.5 83 599.1 83.5 599.1 84 596.4 84.5 596.4 85 592.7 85.5 590.9 86 590.9 86.5 586.5 87 585.7 87.5 585.7 88 580.1 88.5 578.5 89 578.5 89.5 578.5 90 578.9 90.5 578.9 91 578.9 91.5 581.3 92 587.8 92.5 589.6 93 589.6 93.5 591.4 94 589.8 94.5 587.3 95 586.5 95.5 586.5 96 586.5 96.5 587.1 97 586.2 97.5 586.2 98 586.2 98.5 585 99 583.7 99.5 583.7 100 583.7 100.5 584.7 101 584.7 101.5 588.1 102 592.6 102.5 596.8 103 597.4 103.5 602.2 104 613.4 104.5 613.4 105 614.6 105.5 618.8 106 622.4 106.5 622.4 107 625.3 107.5 628.4 108 630.3 108.5 630.3 109 633.6 109.5 634.4 110 633.8 110.5 632.2 111 628.4 111.5 626.8 112 625.9 112.5 625.9 113 625.2 113.5 624.3 114 615.2 114.5 615.2 115 613 115.5 612.1 116 608.4 116.5 608.4 117 608.4 117.5 608.8 118 608.8 118.5 613 119 615.3 119.5 617.3 120 617.3 120.5 616.7 121 611.5 121.5 611.5 122 611.5 122.5 610.9 123 606.5 123.5 606.5 124 606.5 124.5 603.4 125 603.4 125.5 603.4 126 604.8 126.5 604.8 127 606.7 127.5 606.7 128 606.7 128.5 611.8 129 612.5 129.5 608.9 130 608.9 130.5 607.6 131 605.3 131.5 605.3 132 600.3 132.5 600.3 133 597.4 133.5 597.4 134 597.4 134.5 594.8 135 594.8 135.5 594.8 136 595 136.5 595 137 591 137.5 588.5 138 588.5 138.5 588.5 139 587.4 139.5 586.4 140 586.4 140.5 586.4 141 586.9 141.5 586.9 142 586.9 142.5 588.8 143 588.8 143.5 590.6 144 590.6 144.5 593.5 145 597.4 145.5 595.1 146 595.1 146.5 593.9 147 592.3 147.5 592.3 148 592.3 148.5 594.4 149 594.7 149.5 594.7 150 590.5 150.5 588.9 151 588.9 151.5 587.9 152 586.6 152.5 586.6 153 586.6 153.5 585.9 154 583.8 154.5 583.8 155 583.8 155.5 585.3 156 583.5 156.5 583.5 157 583.5 157.5 584 158 585.5 158.5 585.5 159 589.6 159.5 589.6 160 586.7 160.5 585.8 161 585.8 161.5 581.6 162 581.6 162.5 579.6 163 577.2 163.5 574.9 164 574.9 164.5 574.2 165 574.2 165.5 572.9 166 571.2 166.5 569.4 167 563.1 167.5 554.3 168 554 168.5 547.4 169 542.1 169.5 542.1 170 542.1 170.5 537.1 171 536.4 171.5 535.5 172 535.5 172.5 533.9 173 533.2 173.5 533 174 527.6 174.5 527.6 175 527.6 175.5 520.3 176 520.3 176.5 520.3 177 512.5 177.5 510.5 178 506.9 178.5 504.4 179 493 179.5 487.1 180 480.9 180.5 470.4 181 466.6 181.5 456 182 452.6 182.5 442.3 183 442.3 183.5 442.3 184 451.2 184.5 463.9 185 473.7 185.5 483.5 186 483.5 186.5 493.7 187 497.3 187.5 497.8 188 494.5 188.5 494.5 189 493.1 189.5 483.9 190 477.3 190.5 477.3 191 477.3 191.5 478.2 192 473.5 192.5 466.5 193 466.5 193.5 466.5 194 470.5 194.5 470.5 195 480.4 195.5 480.4 196 486.5 196.5 495.6 197 495.6 197.5 501.5 198 511.3 198.5 520.4 199 528.5 199.5 525.6 200 525.6 200.5 517 201 516.5 201.5 516.5 202 516.5 202.5 523.1 203 525.2 203.5 534.6 204 538.3 204.5 537.3 205 529.2 205.5 524.6 206 524.3 206.5 519.6 207 506.6 207.5 506.6 208 506 208.5 504.8 209 504.8 209.5 504.8 210 508.6 210.5 508.6 211 515.9 211.5 518.5 212 518.5 212.5 518.5 213 528.4 213.5 528.4 214 529.4 214.5 535.7 215 535.7 215.5 535.8 216 535.8 216.5 535.8 217 542.3 217.5 542.3 218 544.7 218.5 544.7 219 544.7 219.5 545 220 545 220.5 545.5 221 538.1 221.5 533.7 222 529.6 222.5 529.6 223 529.6 223.5 520.5 224 520.5 224.5 513.2 225 512.1 225.5 509.4 226 509.4 226.5 509.4 227 513.9 227.5 513.9 228 517.2 228.5 520.4 229 520.4 229.5 521.5 230 518.9 230.5 516.3 231 516.3 231.5 516.3 232 517.9 232.5 517.9 233 520.2 233.5 523.7 234 527 234.5 527 235 529.6 235.5 528.8 236 528.8 236.5 526.8 237 526.8 237.5 526.8 238 527.5 238.5 527.5 239 536.5 239.5 540.7 240 542.1 240.5 542.1 241 545.2 241.5 550.2 242 550.2 242.5 557.7 243 557.7 243.5 557.7 244 560.9 244.5 565.2 245 565.2 245.5 565.4 246 572.6 246.5 572.6 247 572.7 247.5 572.7 248 576.5 248.5 576.5 249 576.5 249.5 580.2 250 583 250.5 574.5 251 574.5 251.5 573.5 252 569.1 252.5 567.6 253 561.6 253.5 561.6 254 561.6 254.5 561.9 255 564.1 255.5 565.7 256 571.2 256.5 572.7 257 572.7 257.5 572.7 258 573.6 258.5 574.4 259 579.3 259.5 576.2 260 576.2 260.5 576.2 261 576.7 261.5 579.7 262 579.2 262.5 579.2 263 579.2 263.5 580.3 264 580.4 264.5 577.9 265 577.9 265.5 577.9 266 579.5 266.5 579.5 267 579.5 267.5 581.6 268 580.3 268.5 580.3 269 580.3 269.5 579.6 270 579.6 270.5 579.6 271 584.8 271.5 584.8 272 584.6 272.5 583.2 273 583.2 273.5 583.2 274 584.2 274.5 584.2 275 583 275.5 583 276 583 276.5 586.7 277 585.5 277.5 581.2 278 581.2 278.5 581.2 279 578.6 279.5 578.6 280 578.6 280.5 579.2 281 579.2 281.5 578.9 282 578.9 282.5 578.9 283 581.6 283.5 581.6 284 581.6 284.5 584.9 285 587.9 285.5 588.1 286 588.1 286.5 594.7 287 594.7 287.5 594.7 288 598.8 288.5 600.1 289 601.8 289.5 602.8 290 603.3 290.5 602.7 291 602.7 291.5 595.8 292 595.8 292.5 595.8 293 595.2 293.5 595.2 294 593.1 294.5 593.1 295 593.1 295.5 592.4 296 592.4 296.5 592.4 297 593.1 297.5 594.5 298 594.5 298.5 594.5 299 595.6 299.5 595.6 300 596.8 300.5 593.6 301 593.6 301.5 593.6 302 594.4 302.5 594.4 303 594.4 303.5 595.8 304 595.8 304.5 596.6 305 596.6 305.5 597 306 597 306.5 597 307 600.3 307.5 600.3 308 601.2 308.5 601 309 601 309.5 601 310 602.3 310.5 602.3 311 602.3 311.5 601.7 312 601.7 312.5 601.7 313 602.5 313.5 602.5 314 603.4 314.5 605.4 315 605.4 315.5 603.7 316 603.7 316.5 603.7 317 604.4 317.5 604.4 318 604.4 318.5 607.2 319 607.2 319.5 606.5 320 606.5 320.5 606.5 321 608.6 321.5 608.7 322 608.7 322.5 608.7 323 609.2 323.5 605.5 324 605.5 324.5 605.5 325 605.1 325.5 603.8 326 603.8 326.5 603.6 327 603.6 327.5 603.6 328 604.8 328.5 603.2 329 603.2 329.5 603.2 330 603.6 330.5 602.4 331 602.4 331.5 602.4 332 600.7 332.5 596.4 333 594.5 333.5 594.5 334 594.5 334.5 595 335 592.2 335.5 590.6 336 590.6 336.5 590.6 337 589.8 337.5 589.1 338 588.9 338.5 584 339 583.4 339.5 583.4 340 583.4 340.5 584.7 341 579.2 341.5 579.2 342 579.2 342.5 580.7 343 583.4 343.5 585.8 344 586.3 344.5 586.3 345 588.7 345.5 588.7 346 589.3 346.5 593.5 347 593.3 347.5 593.3 348 593.2 348.5 593.2 349 593.2 349.5 594.6 350 593.4 350.5 593.4 351 593.4 351.5 593.4 352 596.2 352.5 592.7 353 592.7 353.5 592.3 354 592.3 354.5 592.3 355 592.4 355.5 592.4 356 591.1 356.5 591.1 357 591.1 357.5 592.3 358 591.7 358.5 591.5 359 589.9 359.5 589.9 360 589.9 360.5 590.3 361 590.3 361.5 590.6 362 593.8 362.5 593 363 593 363.5 592 364 592 364.5 592 365 593.2 365.5 593.4 366 593.4 366.5 595.8 367 598.3 367.5 598.2 368 598.2 368.5 598.2 369 600.6 369.5 601.5 370 601.5 370.5 601.5 371 602.6 371.5 602.6 372 602 372.5 597.7 373 597.7 373.5 594.8 374 593.9 374.5 593.5 375 593.5 375.5 593.5 376 592.8 376.5 592.8 377 592.8 377.5 593.7 378 593.9 378.5 594 379 593.2 379.5 593.2 380 593.2 380.5 595.8 381 595.9 381.5 595.9 382 593.8 382.5 593.8 383 593.8 383.5 594.9 384 593.3 384.5 593.3 385 593.3 385.5 596.8 386 597.1 386.5 597.4 387 598.3 387.5 594.7 388 594.7 388.5 594.7 389 595.3 389.5 595.3 390 595.3 390.5 595.5 391 596 391.5 596 392 596 392.5 596.7 393 596.7 393.5 598.2 394 598.2 394.5 598.2 395 598.2 395.5 600.8 396 600.4 396.5 600.3 397 600.3 397.5 600.3 398 602.1 398.5 602.1 399 602.1 399.5 602.7 400 604.2 400.5 603.1 401 603.1 401.5 603.1 402 605.7 402.5 605.7 403 607.4 403.5 607.5 404 608.1 404.5 608 405 607.6 405.5 607.6 406 607.6 406.5 608.2 407 608.2 407.5 606.4 408 606.4 408.5 606.4 409 607 409.5 605.2 410 605.1 410.5 605.1 411 605.1 411.5 605.1 412 602.8 412.5 602.8 413 602.5 413.5 602.5 414 602.5 414.5 602 415 601.3 415.5 601.3 416 601.3 416.5 604.2 417 601.8 417.5 601.8 418 601.8 418.5 602.5 419 603.2 419.5 603.6 420 603.9 420.5 604.3 421 604.2 421.5 604.2 422 604.2 422.5 604.4 423 604.4 423.5 605 424 605 424.5 605.5 425 603.8 425.5 603.8 426 603.8 426.5 603.8 427 603.8 427.5 603.8 428 604.1 428.5 601.3 429 598.1 429.5 598.1 430 598.1 430.5 594.4 431 593.3 431.5 591.3 432 587.6 432.5 587.6 433 587.6 433.5 585.1 434 582.8 434.5 582.8 435 582.8 435.5 585.2 436 585.4 436.5 589.2 437 587.4 437.5 587.4 438 587.4 438.5 588.3 439 590.3 439.5 590.8 440 594.3 440.5 594.3 441 591.9 441.5 591.9 442 590.7 442.5 590.7 443 589.2 443.5 589.2 444 589.2 444.5 594.1 445 588.9 445.5 588.9 446 588.9 446.5 590.5 447 594.3 447.5 594.3 448 599.5 448.5 601.9 449 607.7 449.5 608.9 450 616.1 450.5 616.5 451 616.1 451.5 606.7 452 606.7 452.5 599.9 453 599.8 453.5 598.4 454 594.5 454.5 594.5 455 592.5 455.5 591.1 456 587.7 456.5 587.7 457 587.7 457.5 586.2 458 577.6 458.5 575.1 459 564.5 459.5 561.7 460 556.9 460.5 556.6 461 550.6 461.5 544.2 462 533.7 462.5 533.7 463 533.7 463.5 540.2 464 548.4 464.5 549.4 465 557.4 465.5 557.4 466 557.4 466.5 558.1 467 558.1 467.5 558.1 468 558.2 468.5 558.2 469 557 469.5 555.7 470 554.6 470.5 554.6 471 550.1 471.5 547.9 472 547.9 472.5 545.8 473 545.8 473.5 543.9 474 543.3 474.5 537.8 475 537.8 475.5 532.5 476 532.5 476.5 532.5 477 535.7 477.5 537.9 478 545.9 478.5 546.8 479 546.8 479.5 551.5 480 550.9 480.5 550.9 481 549.5 481.5 548.2 482 548.2 482.5 545.7 483 545.7 483.5 545.7 484 546.3 484.5 546.2 485 545.9 485.5 545 486 541.9 486.5 541.9 487 541.9 487.5 543.7 488 545.5 488.5 545.5 489 551.3 489.5 556.3 490 561.2 490.5 561.6 491 557.8 491.5 557.8 492 557.8 492.5 561.6 493 562.6 493.5 562.6 494 562.6 494.5 566 495 568.2 495.5 571.7 496 566.5 496.5 566.5 497 566.5 497.5 566.5 498 563.5 498.5 563.5 499 559.3 499.5 559.3 500 559.3 500.5 562.2 501 562.2 501.5 562.2 502 562.3 502.5 562.3 503 562.3 503.5 565.3 504 565.3 504.5 565.3 505 565.3 505.5 566.1 506 561.9 506.5 561.9 507 558.8 507.5 558.1 508 553.4 508.5 553.4 509 550.1 509.5 550.1 510 550.1 510.5 554 511 554 511.5 556.1 512 557.2 512.5 557.2 513 564.9 513.5 567.6 514 565 514.5 565 515 565 515.5 569.8 516 569.8 516.5 572.7 517 572.7 517.5 576.9 518 576.9 518.5 576.9 519 579 519.5 579 520 580.1 520.5 582.9 521 590.6 521.5 587.9 522 587.9 522.5 587.9 523 590.1 523.5 590.1 524 590.1 524.5 588.3 525 588.3 525.5 588.3 526 585.3 526.5 585.3 527 585.3 527.5 580.1 528 580.1 528.5 577.2 529 577.2 529.5 574.3 530 574.3 530.5 568.7 531 568.7 531.5 566.7 532 566.7 532.5 566.7 533 565.1 533.5 563.1 534 563.1 534.5 563.1 535 565.3 535.5 566.8 536 567.5 536.5 567.5 537 567.5 537.5 572.3 538 570.1 538.5 568.7 539 568.3 539.5 568.3 540 564.6 540.5 563 541 560.5 541.5 560.5 542 556.2 542.5 552.1 543 552.1 543.5 552.1 544 559.2 544.5 561.1 545 561.1 545.5 560.5 546 560.5 546.5 560.4 547 560.4 547.5 560.4 548 561.5 548.5 562 549 558.2 549.5 558.2 550 558.2 550.5 557.9 551 557.8 551.5 557.8 552 557.8 552.5 558.1 553 558.1 553.5 558.1 554 566.8 554.5 567 555 567 555.5 567.1 556 566.3 556.5 566.3 557 566.3 557.5 567.5 558 561.2 558.5 561.2 559 559.5 559.5 559.5 560 559.5 560.5 557.1 561 557.1 561.5 557.1 562 560.5 562.5 562.1 563 562.3 563.5 562.3 564 568.9 564.5 568.9 565 568.9 565.5 564.9 566 563.7 566.5 563.7 567 563.7 567.5 564.2 568 564.2 568.5 564.9 569 561.3 569.5 556 570 553.8 570.5 553.8 571 553.3 571.5 544.1 572 544.1 572.5 539.2 573 537 573.5 531 574 531 574.5 531 575 523.8 575.5 523.8 576 523.8 576.5 529.1 577 529.1 577.5 533.3 578 533.3 578.5 536.5 579 542.2 579.5 542.2 580 541.8 580.5 535.2 581 535.2 581.5 535.2 582 533.9 582.5 528.6 583 527.7 583.5 526.3 584 526.3 584.5 520.9 585 518.5 585.5 517.3 586 517.3 586.5 517.3 587 513.9 587.5 513.9 588 513.9 588.5 515 589 520.7 589.5 521.7 590 522.1 590.5 526.5 591 530 591.5 530 592 527.5 592.5 527.5 593 527.5 593.5 529.9 594 529.8 594.5 524 595 524 595.5 523.5 596 521.9 596.5 521.9 597 517.7 597.5 517.7 598 517.7 598.5 516.6 599 516.6 599.5 516.6 600 519.4 600.5 523.5 601 523.5 601.5 527 602 527 602.5 526.4 603 519.6 603.5 519.6 604 513.6 604.5 508.3 605 508.3 605.5 508.3 606 505.4 606.5 505.4 607 505.4 607.5 501.8 608 499.8 608.5 499.8 609 497.5 609.5 494.1 610 494.1 610.5 490.4 611 490.4 611.5 490.4 612 494.7 612.5 494.7 613 500.3 613 502.6 612.5 502.6 612 502.6 611.5 499.7 611 499.7 610.5 497.7 610 499.2 609.5 502.6 609 502.6 608.5 503.5 608 507.8 607.5 508.2 607 508.2 606.5 511.2 606 511.9 605.5 511.9 605 515.3 604.5 522.7 604 522.7 603.5 528.1 603 529.1 602.5 529.1 602 537.3 601.5 537.3 601 537.3 600.5 534 600 526 599.5 526 599 522.8 598.5 522.8 598 522.8 597.5 527.2 597 527.2 596.5 527.2 596 529.4 595.5 529.4 595 531.5 594.5 532 594 532 593.5 536.9 593 536.9 592.5 536.9 592 534.5 591.5 535.5 591 537.5 590.5 537.5 590 537.5 589.5 528.2 589 523.8 588.5 523.4 588 522.4 587.5 520.9 587 521.4 586.5 521.4 586 521.4 585.5 522.6 585 529.4 584.5 529.4 584 529.4 583.5 530.3 583 535.6 582.5 541.4 582 541.4 581.5 541.4 581 543.5 580.5 546.2 580 547.9 579.5 547.9 579 547.9 578.5 546.5 578 546.5 577.5 539.7 577 539.7 576.5 539.7 576 532.1 575.5 533.5 575 535.7 574.5 535.7 574 538.7 573.5 540.9 573 548.5 572.5 548.5 572 555 571.5 558.2 571 558.2 570.5 558.2 570 563 569.5 568.9 569 569.6 568.5 569.6 568 569.6 567.5 572.2 567 572.2 566.5 572.2 566 572.4 565.5 572.4 565 572.4 564.5 573.1 564 573.1 563.5 573.1 563 572.7 562.5 565.2 562 565.2 561.5 563.8 561 566.6 560.5 566.6 560 566.6 559.5 568.2 559 568.2 558.5 571.2 558 571.2 557.5 571.8 557 571.8 556.5 573.4 556 573.4 555.5 573.4 555 571.6 554.5 571.6 554 570.2 553.5 570.2 553 568.5 552.5 560.4 552 560.4 551.5 560.4 551 562.8 550.5 565 550 565 549.5 565 549 565.3 548.5 565.5 548 565.5 547.5 565.5 547 565.8 546.5 565.8 546 565.8 545.5 565.2 545 565.2 544.5 563.5 544 563.5 543.5 563.5 543 560.9 542.5 564.8 542 564.8 541.5 564.8 541 566.3 540.5 571.4 540 571.4 539.5 571.4 539 571.8 538.5 575 538 575 537.5 575 537 574.6 536.5 574.6 536 570.7 535.5 570.7 535 569.9 534.5 568.5 534 567 533.5 569.5 533 574.2 532.5 574.2 532 574.6 531.5 574.6 531 577.3 530.5 577.3 530 579.8 529.5 579.8 529 583 528.5 583 528 587.2 527.5 587.4 527 587.4 526.5 591.8 526 591.8 525.5 591.8 525 596.6 524.5 596.6 524 596.6 523.5 594.5 523 594.5 522.5 594.5 522 593.4 521.5 594.3 521 594.3 520.5 594.3 520 593.4 519.5 584.6 519 583.4 518.5 583.4 518 583.4 517.5 582.9 517 582.9 516.5 579.1 516 578.7 515.5 578.7 515 574.7 514.5 574.7 514 569.6 513.5 569.6 513 569.6 512.5 569.3 512 566.6 511.5 559.7 511 559.7 510.5 557.8 510 557.1 509.5 561.1 509 561.1 508.5 561.1 508 560.5 507.5 567.3 507 567.3 506.5 568.6 506 569.2 505.5 569.2 505 569.2 504.5 567.8 504 569.9 503.5 571.8 503 571.8 502.5 571.8 502 568.8 501.5 568.8 501 567.1 500.5 567.1 500 567.1 499.5 565.4 499 565.4 498.5 568.2 498 572.5 497.5 572.5 497 572.5 496.5 573.4 496 574.8 495.5 574.8 495 574.8 494.5 573.4 494 569.9 493.5 568.2 493 568.2 492.5 568.2 492 564.4 491.5 563.8 491 563.8 490.5 563.8 490 563.5 489.5 563.5 489 562.9 488.5 558 488 553 487.5 548.5 487 548.5 486.5 546.7 486 547.6 485.5 547.9 485 548 484.5 548.6 484 554 483.5 554 483 554 482.5 551.4 482 551.4 481.5 552.8 481 552.8 480.5 558.1 480 559.8 479.5 559.8 479 559.8 478.5 553.2 478 550.6 477.5 550.6 477 547.6 476.5 539.6 476 541.9 475.5 541.9 475 545 474.5 545.6 474 551 473.5 551 473 552.8 472.5 552.8 472 552.8 471.5 557.1 471 557.1 470.5 557.4 470 558.7 469.5 561.5 469 561.5 468.5 561.5 468 563.2 467.5 563.2 467 565.5 466.5 567.6 466 567.6 465.5 567.6 465 563.5 464.5 563.5 464 559.2 463.5 551.1 463 550.1 462.5 545.9 462 552.3 461.5 558.3 461 558.6 460.5 563.4 460 566.2 459.5 576.8 459 579.3 458.5 587.9 458 590.2 457.5 590.2 457 590.2 456.5 592.8 456 594.2 455.5 599.5 455 599.5 454.5 600.1 454 601.5 453.5 601.6 453 609.6 452.5 609.6 452 617.8 451.5 618.2 451 624.5 450.5 624.5 450 624.5 449.5 619.5 449 617.8 448.5 610.6 448 609.4 447.5 603.6 447 601.2 446.5 597.7 446 597.7 445.5 595.8 445 596.2 444.5 596.3 444 596.3 443.5 596.4 443 596.4 442.5 596.4 442 595.2 441.5 598.8 441 598.8 440.5 598.8 440 597.5 439.5 597.5 439 597.5 438.5 592.5 438 592 437.5 591.3 437 591.3 436.5 591.3 436 591.2 435.5 590.9 435 587.1 434.5 586.9 434 590.4 433.5 593.4 433 593.4 432.5 593.4 432 595 431.5 596.1 431 600.9 430.5 603.9 430 603.9 429.5 603.9 429 605.8 428.5 609.3 428 609.3 427.5 609.3 427 609.6 426.5 609.6 426 609.6 425.5 609.6 425 609.7 424.5 609.7 424 609.7 423.5 609.9 423 609.9 422.5 609.9 422 606.7 421.5 606.7 421 608.3 420.5 609 420 609 419.5 609 419 605.6 418.5 605.3 418 604.9 417.5 609.3 417 609.3 416.5 609.3 416 606.9 415.5 605.9 415 608.1 414.5 608.1 414 608.1 413.5 607.5 413 605.9 412.5 611 412 611 411.5 611 411 608 410.5 608 410 608.7 409.5 613.2 409 613.2 408.5 613.2 408 611.8 407.5 610.3 407 612.1 406.5 612.1 406 612.1 405.5 611 405 611.5 404.5 611.5 404 611.5 403.5 610.6 403 609.8 402.5 609.2 402 609.1 401.5 608.1 401 608.1 400.5 607.8 400 607.8 399.5 606 399 605.9 398.5 604.8 398 606.5 397.5 606.5 397 606.5 396.5 604.4 396 604.4 395.5 604.4 395 603.9 394.5 603.9 394 602.4 393.5 602.8 393 602.8 392.5 602.8 392 601.6 391.5 603.1 391 603.1 390.5 603.1 390 601.8 389.5 601.6 389 601.6 388.5 601.6 388 601.3 387.5 601.3 387 602 386.5 602 386 602 385.5 599.1 385 598.8 384.5 598.5 384 600.6 383.5 600.6 383 600.6 382.5 599.6 382 599.8 381.5 599.8 381 599.8 380.5 599.2 380 599.2 379.5 597.5 379 596.1 378.5 596.1 378 596 377.5 595.7 377 595.6 376.5 598.8 376 598.9 375.5 598.9 375 598.9 374.5 596.5 374 600.9 373.5 600.9 373 603.7 372.5 604.8 372 605.7 371.5 605.7 371 606.3 370.5 606.3 370 606.3 369.5 605.6 369 605.6 368.5 605.6 368 602.3 367.5 601.9 367 601.9 366.5 601.9 366 601.3 365.5 598.2 365 598.2 364.5 598.2 364 598.2 363.5 598.2 363 598.2 362.5 597.1 362 597.1 361.5 595.8 361 595.8 360.5 597.2 360 597.2 359.5 597.2 359 593.4 358.5 596.5 358 596.5 357.5 596.5 357 595 356.5 597.7 356 597.7 355.5 597.7 355 597.5 354.5 597.5 354 597.5 353.5 595.5 353 598.5 352.5 598.5 352 599.5 351.5 599.5 351 599.5 350.5 600.7 350 600.7 349.5 600.7 349 599.5 348.5 596.3 348 596.2 347.5 596.2 347 596.2 346.5 596.2 346 595.5 345.5 595.5 345 592.3 344.5 592.3 344 592.3 343.5 590.2 343 590.2 342.5 587.5 342 585.1 341.5 586.4 341 587.7 340.5 589.1 340 589.1 339.5 589.1 339 590.6 338.5 590.8 338 591.5 337.5 592.3 337 594.1 336.5 594.1 336 594.1 335.5 596.7 335 598.8 334.5 600.5 334 600.5 333.5 600.5 333 602.4 332.5 604.9 332 606.2 331.5 606.2 331 606.7 330.5 606.7 330 606.7 329.5 606.7 329 606.7 328.5 608.3 328 608.3 327.5 608.3 327 608.4 326.5 608.4 326 608.4 325.5 608.9 325 610.4 324.5 610.4 324 610.9 323.5 612.7 323 614.1 322.5 614.1 322 614.1 321.5 613.3 321 613.3 320.5 613.3 320 612.9 319.5 612.9 319 612.9 318.5 611.9 318 611.9 317.5 611.9 317 611.9 316.5 611.9 316 611.9 315.5 610.7 315 610.7 314.5 610.7 314 609.4 313.5 609.4 313 605.4 312.5 605.4 312 605.4 311.5 607.3 311 607.3 310.5 607.3 310 605.7 309.5 605.7 309 605.7 308.5 604 308 604 307.5 604 307 605.1 306.5 605.1 306 605.1 305.5 602 305 602 304.5 600.8 304 600 303.5 602.4 303 602.4 302.5 602.4 302 600.6 301.5 600.6 301 600 300.5 600 300 600.6 299.5 600.6 299 600.6 298.5 599.7 298 599.7 297.5 598.9 297 598.9 296.5 598.9 296 596.3 295.5 596.3 295 596.3 294.5 597.5 294 597.5 293.5 600.5 293 600.6 292.5 600.6 292 605 291.5 605 291 605 290.5 605.5 290 608.9 289.5 608.9 289 608.9 288.5 604.5 288 603.5 287.5 601.8 287 600.5 286.5 596.6 286 596.6 285.5 596.6 285 590.5 284.5 590.5 284 589.6 283.5 586.6 283 585.4 282.5 585.4 282 584 281.5 584 281 584 280.5 582.3 280 582.3 279.5 583.1 279 584.7 278.5 584.7 278 587.2 277.5 588.4 277 588.4 276.5 589.4 276 589.4 275.5 589.4 275 589.3 274.5 589.3 274 589.3 273.5 586.4 273 586.4 272.5 587.7 272 587.7 271.5 587.7 271 587.4 270.5 587.4 270 587.4 269.5 584.5 269 584.5 268.5 583.3 268 585.4 267.5 585.4 267 585.4 266.5 585.6 266 585.6 265.5 585.6 265 584.4 264.5 583.4 264 583.4 263.5 582.5 263 582.5 262.5 583.7 262 583.7 261.5 584.6 261 584.6 260.5 584.6 260 582.9 259.5 582.9 259 582.9 258.5 582.7 258 581 257.5 576.1 257 576.6 256.5 576.6 256 576.6 255.5 574.7 255 572.9 254.5 567.4 254 565.8 253.5 569.3 253 570.8 252.5 575.2 252 576.2 251.5 576.2 251 584.7 250.5 587 250 588.9 249.5 588.9 249 588.9 248.5 583.9 248 583.9 247.5 583.9 247 580 246.5 580 246 580 245.5 577.1 245 577.1 244.5 570 244 570 243.5 570 243 565.3 242.5 565.3 242 565.3 241.5 563.5 241 556.6 240.5 556.6 240 546.9 239.5 546.9 239 546.9 238.5 542.4 238 538.2 237.5 532.6 237 532.6 236.5 532.6 236 533.2 235.5 534.5 235 534.5 234.5 534.5 234 531.3 233.5 529.7 233 529.7 232.5 525.4 232 521.9 231.5 519.6 231 520.6 230.5 525.4 230 525.4 229.5 531.9 229 531.9 228.5 531.9 228 524.8 227.5 524.8 227 518.9 226.5 516.7 226 516.7 225.5 514.9 225 526.3 224.5 526.3 224 534 223.5 534 223 534 222.5 535.4 222 539.8 221.5 547.2 221 548.9 220.5 548.9 220 548.9 219.5 550 219 550 218.5 552.3 218 552.3 217.5 552.3 217 551.3 216.5 544 216 544 215.5 543 215 543 214.5 538.9 214 537.8 213.5 537.8 213 532.8 212.5 532.8 212 532.8 211.5 524.3 211 524.3 210.5 520.9 210 517.6 209.5 510.7 209 510.7 208.5 510 208 510 207.5 521.3 207 526 206.5 526.3 206 530.9 205.5 539 205 547.5 204.5 547.5 204 547.5 203.5 543.3 203 540 202.5 536.3 202 526.9 201.5 524.8 201 530.3 200.5 530.3 200 534.3 199.5 534.3 199 534.3 198.5 533.5 198 530.2 197.5 522.1 197 513 196.5 503.2 196 498.6 195.5 498.6 195 488.2 194.5 484.6 194 484.6 193.5 476.1 193 476.1 192.5 480.3 192 480.3 191.5 480.6 191 480.6 190.5 485.6 190 494.8 189.5 499.1 189 499.1 188.5 505 188 505 187.5 505 187 501.7 186.5 501.7 186 499 185.5 495.4 185 488 184.5 488 184 475.4 183.5 465.6 183 454.3 182.5 457.7 182 468.3 181.5 472.1 181 482.6 180.5 488.8 180 494.7 179.5 506.1 179 508.6 178.5 512.2 178 514.2 177.5 526.3 177 529.9 176.5 529.9 176 532.3 175.5 532.4 175 532.4 174.5 534.7 174 534.9 173.5 535.6 173 539.3 172.5 539.3 172 539.3 171.5 538.8 171 546.5 170.5 546.5 170 546.5 169.5 549.1 169 555.7 168.5 556 168 564.8 167.5 571.1 167 572.9 166.5 574.6 166 576 165.5 576 165 578.9 164.5 578.9 164 578.9 163.5 581.3 163 587.1 162.5 587.1 162 587.9 161.5 587.9 161 588.4 160.5 595.3 160 595.3 159.5 595.3 159 592.5 158.5 592.5 158 592.5 157.5 592.1 157 592.1 156.5 587 156 589.9 155.5 589.9 155 589.9 154.5 588.2 154 589.3 153.5 589.3 153 589.3 152.5 589.6 152 591.6 151.5 591.6 151 592.2 150.5 597.7 150 597.7 149.5 597.7 149 598 148.5 598 148 598 147.5 596.1 147 597.8 146.5 597.8 146 600.6 145.5 601.2 145 601.2 144.5 601.2 144 599.1 143.5 595.2 143 594.1 142.5 594.1 142 593 141.5 593 141 592.3 140.5 592.3 140 592.3 139.5 593.2 139 593.2 138.5 593.2 138 592.7 137.5 598 137 598 136.5 598 136 598.9 135.5 598.9 135 599.5 134.5 601.6 134 601.6 133.5 605.3 133 605.3 132.5 608.5 132 608.5 131.5 609.3 131 611.6 130.5 611.6 130 614.2 129.5 616.5 129 617.3 128.5 617.3 128 617.3 127.5 613.5 127 610.7 126.5 610.7 126 609.2 125.5 606.8 125 608.4 124.5 609.3 124 609.3 123.5 612.6 123 614.2 122.5 614.2 122 614.2 121.5 618.4 121 619 120.5 619.7 120 619.7 119.5 619.7 119 619.1 118.5 619.1 118 617 117.5 615.7 117 615.7 116.5 615.7 116 614.7 115.5 618.4 115 618.4 114.5 626 114 626.9 113.5 631 113 631 112.5 631 112 630.1 111.5 633.9 111 635.5 110.5 636.1 110 639.1 109.5 639.3 109 639.3 108.5 639.3 108 635.3 107.5 633.2 107 633.2 106.5 630.1 106 627 105.5 624.2 105 624.2 104.5 620.5 104 616.3 103.5 615.2 103 615.2 102.5 603.9 102 599.1 101.5 598.5 101 594.3 100.5 589.8 100 588.6 99.5 588.6 99 589.3 98.5 591.3 98 591.3 97.5 591.5 97 591.5 96.5 594.2 96 594.2 95.5 594.2 95 591.5 94.5 593.1 94 595.3 93.5 596.1 93 596.1 92.5 596.1 92 593.6 91.5 593.6 91 589.5 90.5 583 90 583.8 89.5 583.8 89 583.8 88.5 587.9 88 587.9 87.5 588.2 87 593.8 86.5 593.8 86 594.4 85.5 598.3 85 598.3 84.5 602.8 84 602.8 83.5 602.8 83 603.2 82.5 603.9 82 607.5 81.5 607.5 81 607.5 80.5 610.4 80 610.4 79.5 610.4 79 612.5 78.5 612.5 78 612.5 77.5 615.7 77 615.7 76.5 617.2 76 619.3 75.5 619.3 75 619.3 74.5 618.6 74 618.6 73.5 620 73 620 72.5 620 72 619.8 71.5 619.8 71 617.4 70.5 617.4 70 618.2 69.5 618.2 69 618.2 68.5 613.3 68 613.3 67.5 616.4 67 617.8 66.5 617.8 66 617.8 65.5 613.5 65 616.5 64.5 616.5 64 616.5 63.5 615.5 63 617.9 62.5 617.9 62 617.9 61.5 616.4 61 616.4 60.5 614.5 60 614.7 59.5 614.7 59 614.7 58.5 613 58 613 57.5 611.4 57 611.4 56.5 608.8 56 609.7 55.5 612.7 55 613.9 54.5 615.3 54 615.7 53.5 615.7 53 615.7 52.5 614.4 52 614.4 51.5 614.9 51 614.9 50.5 616.9 50 616.9 49.5 616.9 49 616.4 48.5 616.8 48 617.5 47.5 617.6 47 621.8 46.5 621.8 46 621.8 45.5 625.4 45 625.4 44.5 626.1 44 626.1 43.5 626.1 43 625.4 42.5 621.7 42 621.7 41.5 621.7 41 617.5 40.5 622.8 40 622.8 39.5 622.9 39 622.9 38.5 625.4 38 625.9 37.5 625.9 37 625.9 36.5 621.9 36 621.2 35.5 615 35 610.9Z" fill="#00f" stroke="#00f" stroke-width="0.4" filter="url(#lsh)"/><path d="M35 416.5 36.2 414.1 37.4 412.7 38.6 411.9 39.8 411.8 41 411.4 42.2 410 43.4 409.6 44.6 410.8 45.8 409.4 47 409 48.2 407.8 49.4 404.2 50.6 403.4 51.8 401.4 53 400.4 54.2 398.2 55.4 397.9 56.6 397.4 57.8 395.8 59 395.2 60.2 394.1 61.4 392.3 62.6 394.5 63.8 395.2 65 395.6 66.2 396.1 67.4 398.6 68.6 395.4 69.8 393 71 390.5 72.2 387.4 73.4 385 74.6 381.2 75.8 379.8 77 377.3 78.2 376.3 79.4 374.3 80.6 371 81.8 369.2 83 367.4 84.2 367.5 85.4 366.2 86.6 366.3 87.8 365.4 89 366.3 90.2 370.1 91.4 374.1 92.6 377.8 93.8 373.7 95 370.2 96.2 365.7 97.4 362.1 98.6 357.9 99.8 360.8 101 363.8 102.2 366.5 103.4 371.3 104.6 364.5 105.8 353 107 347.5 108.2 346.8 109.4 344.9 110.6 345 111.8 343.5 113 342 114.2 334 115.4 316.8 116.6 302.1 117.8 294.5 119 289.8 120.2 284 121.4 283.3 122.6 283.2 123.8 283.8 125 283.7 126.2 284.3 127.4 287.5 128.6 288.7 129.8 292 131 293.5 132.2 294 133.4 293 134.6 290.9 135.8 290.6 137 288.2 138.2 286.5 139.4 286.3 140.6 284.1 141.8 283.9 143 284.8 144.2 285.6 145.4 285.3 146.6 285.6 147.8 287 149 284.5 150.2 284.2 151.4 282.6 152.6 279.5 153.8 270.5 155 261.4 156.2 252.4 157.4 251.9 158.6 251.9 159.8 252 161 252.9 162.2 252.6 163.4 253 164.6 254 165.8 253.6 167 254 168.2 255.5 169.4 254.9 170.6 255.2 171.8 254.5 173 256.8 174.2 260.7 175.4 263.3 176.6 267.2 177.8 268 179 267.8 180.2 269.6 181.4 270.1 182.6 271.3 183.8 271.4 185 270.9 186.2 269.7 187.4 267.2 188.6 266.1 189.8 266 191 256.3 192.2 255.7 193.4 260.1 194.6 264.3 195.8 263.4 197 260.8 198.2 258 199.4 255.4 200.6 255.2 201.8 256.1 203 257.8 204.2 260 205.4 259.3 206.6 259.4 207.8 258.8 209 257.2 210.2 256.4 211.4 258 212.6 257.6 213.8 258.1 215 259.1 216.2 260.2 217.4 259.7 218.6 260.7 219.8 261.4 221 260.2 222.2 256.8 223.4 254.9 224.6 251 225.8 248.7 227 247.9 228.2 247.7 229.4 246.3 230.6 245.3 231.8 245.5 233 247.7 234.2 248.6 235.4 251.2 236.6 253.8 237.8 257.8 239 263 240.2 269.1 241.4 274.5 242.6 284.4 243.8 292.9 245 296.5 246.2 300.8 247.4 305.7 248.6 310 249.8 315.6 251 317.6 252.2 318.8 253.4 320 254.6 322.1 255.8 321.9 257 324.2 258.2 329.3 259.4 332.5 260.6 336.1 261.8 338.4 263 341.1 264.2 340.4 265.4 338.5 266.6 338.9 267.8 338.5 269 337.5 270.2 337.1 271.4 338.5 272.6 340.4 273.8 342 275 343.5 276.2 343.4 277.4 341.9 278.6 341.9 279.8 339.6 281 340.2 282.2 341.3 283.4 343.9 284.6 346 285.8 348.2 287 349.7 288.2 350.5 289.4 353.3 290.6 353.8 291.8 355.5 293 355.9 294.2 353 295.4 350.1 296.6 348.3 297.8 346.1 299 347 300.2 348.2 301.4 350.7 302.6 351.4 303.8 353.4 305 354 306.2 354.9 307.4 356.7 308.6 358.4 309.8 358.5 311 360.8 312.2 362.2 313.4 361.6 314.6 360.8 315.8 358.4 317 358.6 318.2 360.8 319.4 362.9 320.6 366.9 321.8 368.1 323 367 324.2 365.2 325.4 361.6 326.6 354.3 327.8 345.8 329 340.4 330.2 335.9 331.4 335 332.6 334 333.8 334.8 335 333.6 336.2 325.1 337.4 318.6 338.6 311.1 339.8 309.6 341 309.1 342.2 311.9 343.4 314.8 344.6 314.4 345.8 312.9 347 311.9 348.2 314.7 349.4 321.6 350.6 328.1 351.8 331.8 353 333.5 354.2 335.9 355.4 337.3 356.6 336.2 357.8 335 359 332.8 360.2 332.3 361.4 331.7 362.6 331.1 363.8 330.8 365 330.7 366.2 330.9 367.4 332.7 368.6 335.5 369.8 337.5 371 339.5 372.2 338 373.4 335.1 374.6 330.8 375.8 330.8 377 331.4 378.2 332.8 379.4 333.5 380.6 333.2 381.8 335.1 383 335.8 384.2 335.7 385.4 336.3 386.6 334.5 387.8 334.5 389 333 390.2 332.2 391.4 330.9 392.6 329.7 393.8 332 395 333.9 396.2 335.2 397.4 338.2 398.6 339.3 399.8 341.7 401 345 402.2 345.9 403.4 348.1 404.6 350.3 405.8 351.5 407 348.8 408.2 347.1 409.4 347.1 410.6 344.3 411.8 343.8 413 341.1 414.2 339 415.4 338.6 416.6 341.2 417.8 344.8 419 346.2 420.2 348.7 421.4 349.4 422.6 351 423.8 350.9 425 349.4 426.2 347 427.4 342.7 428.6 340.5 429.8 337.8 431 335.1 432.2 330.8 433.4 327.5 434.6 324.4 435.8 321.9 437 321.7 438.2 322.3 439.4 323.4 440.6 324.2 441.8 324.4 443 324.9 444.2 324.5 445.4 324.7 446.6 323.2 447.8 319.7 449 317.9 450.2 313.7 451.4 307.8 452.6 301 453.8 294 455 286.8 456.2 280.7 457.4 275 458.6 269.5 459.8 262.1 461 260.4 462.2 260.9 463.4 260.5 464.6 259 465.8 258.2 467 261.4 468.2 265.2 469.4 270.2 470.6 272.9 471.8 274.5 473 274.9 474.2 275.7 475.4 278.8 476.6 284.4 477.8 288.3 479 294.1 480.2 298 481.4 299.6 482.6 299.9 483.8 300 485 298.7 486.2 297.2 487.4 296.8 488.6 297.9 489.8 299 491 300.9 492.2 302.3 493.4 304.4 494.6 304.5 495.8 307.2 497 307.5 498.2 308.3 499.4 308.3 500.6 309.2 501.8 309.4 503 309.2 504.2 307.9 505.4 304.7 506.6 301.3 507.8 297 509 294.4 510.2 291.6 511.4 288.4 512.6 291.6 513.8 295 515 295.5 516.2 295 517.4 295.1 518.6 298.6 519.8 301.5 521 305.4 522.2 308.4 523.4 310.9 524.6 314.5 525.8 317.4 527 320.1 528.2 320.2 529.4 321.5 530.6 320.7 531.8 321.1 533 321.8 534.2 320.9 535.4 320.8 536.6 321.6 537.8 320 539 319.5 540.2 319.2 541.4 318.5 542.6 316.4 543.8 316.1 545 315.4 546.2 316.9 547.4 317.8 548.6 319.9 549.8 321.9 551 322.3 552.2 324 553.4 324.7 554.6 326.5 555.8 328.7 557 329.2 558.2 330.5 559.4 329.3 560.6 326.7 561.8 328.4 563 329.3 564.2 332 565.4 333.9 566.6 334.9 567.8 337 569 336.8 570.2 337 571.4 335.8 572.6 336.6 573.8 336.8 575 336.1 576.2 335.7 577.4 334.8 578.6 334.4 579.8 332.9 581 332.4 582.2 331.1 583.4 329.7 584.6 327.8 585.8 327.5 587 326.2 588.2 325.4 589.4 327.6 590.6 328.1 591.8 328 593 329.9 594.2 328.2 595.4 328.2 596.6 328.6 597.8 327.2 599 323.1 600.2 319.3 601.4 315.5 602.6 316.1 603.8 316.6 605 317.2 606.2 317.2 607.4 316.1 608.6 314.5 609.8 313.6 611 312.7 612.2 312.6 613.4 313" stroke="#00f" stroke-width="4.2" filter="url(#lsh2)"/><path d="M35 787.4 36.2 786.7 37.4 785.6 38.6 784.5 39.8 783.5 41 782 42.2 781.4 43.4 779.7 44.6 779.9 45.8 780.2 47 779.4 48.2 779.3 49.4 777.8 50.6 777.9 51.8 777.2 53 777.2 54.2 776.8 55.4 775.7 56.6 775.5 57.8 775.2 59 775.7 60.2 775.2 61.4 774.1 62.6 774.7 63.8 773.6 65 774 66.2 773 67.4 772.6 68.6 773.6 69.8 772.4 71 772.1 72.2 772.9 73.4 772.5 74.6 771.5 75.8 772.1 77 771.3 78.2 771.2 79.4 770.3 80.6 770.8 81.8 769.7 83 769.2 84.2 768.3 85.4 766.7 86.6 766 87.8 764.9 89 764.1 90.2 763.6 91.4 763.6 92.6 763.6 93.8 762.3 95 762.9 96.2 762 97.4 761.6 98.6 761.9 99.8 761 101 760.4 102.2 760.2 103.4 760.1 104.6 758.8 105.8 759.7 107 757.8 108.2 758 109.4 757.3 110.6 755.4 111.8 755.6 113 754.3 114.2 753.7 115.4 752.1 116.6 751 117.8 750 119 749.8 120.2 747.6 121.4 747.3 122.6 747.5 123.8 747.4 125 746.4 126.2 746.3 127.4 746.4 128.6 746.7 129.8 745.6 131 746.4 132.2 746.4 133.4 746.3 134.6 745.1 135.8 746.2 137 744.5 138.2 744.2 139.4 744 140.6 743.8 141.8 742.4 143 743.3 144.2 743 145.4 742.8 146.6 743 147.8 742.9 149 742.9 150.2 743.2 151.4 744.1 152.6 744.7 153.8 743.5 155 743 156.2 744 157.4 743 158.6 742.5 159.8 742 161 742.1 162.2 742.1 163.4 741.3 164.6 739.7 165.8 737.2 167 736.4 168.2 733.1 169.4 733.6 170.6 733.9 171.8 732.7 173 733.4 174.2 733.5 175.4 732.8 176.6 732.9 177.8 731.6 179 731.8 180.2 731.1 181.4 731.8 182.6 730.7 183.8 732.6 185 735.7 186.2 737.8 187.4 740.4 188.6 739.5 189.8 739.3 191 739.5 192.2 739 193.4 738.5 194.6 738.5 195.8 738 197 738.1 198.2 739 199.4 739.2 200.6 739 201.8 739.1 203 739.1 204.2 739 205.4 739.5 206.6 740.4 207.8 740.8 209 740.3 210.2 741.2 211.4 741.4 212.6 741.4 213.8 741.2 215 741.1 216.2 740.3 217.4 740.5 218.6 739.7 219.8 739.7 221 739.7 222.2 739.2 223.4 738.3 224.6 738.8 225.8 738 227 737.5 228.2 736.3 229.4 736.8 230.6 736.1 231.8 736.5 233 736 234.2 736.3 235.4 735.9 236.6 735.9 237.8 735.2 239 736 240.2 736.5 241.4 737 242.6 736.7 243.8 737.8 245 738.2 246.2 738.4 247.4 738.6 248.6 738.1 249.8 737.1 251 736.8 252.2 735.9 253.4 736.4 254.6 736.1 255.8 735.4 257 736.1 258.2 736.6 259.4 737 260.6 736.6 261.8 737.8 263 738 264.2 738.4 265.4 737.9 266.6 738.1 267.8 738.1 269 737.8 270.2 737.8 271.4 736.7 272.6 736.7 273.8 737 275 737.1 276.2 736.3 277.4 736.6 278.6 736.2 279.8 735 281 735.3 282.2 734.6 283.4 734 284.6 733.8 285.8 733.7 287 733.7 288.2 734.2 289.4 734.5 290.6 735.6 291.8 735.9 293 736.8 294.2 737 295.4 736.5 296.6 737.5 297.8 736.3 299 737 300.2 736.9 301.4 737.1 302.6 736.8 303.8 737.8 305 737.2 306.2 736.8 307.4 737.7 308.6 737.1 309.8 737.9 311 737.8 312.2 738.3 313.4 739 314.6 739 315.8 738.6 317 739.3 318.2 739.2 319.4 739 320.6 738.9 321.8 739.7 323 739.7 324.2 739.7 325.4 739.1 326.6 738 327.8 737.1 329 737.2 330.2 735.4 331.4 734.9 332.6 735 333.8 734.6 335 733.3 336.2 733.5 337.4 733.3 338.6 732 339.8 731.6 341 730.7 342.2 730.3 343.4 730.7 344.6 730.3 345.8 731.6 347 732 348.2 732 349.4 732.1 350.6 733.7 351.8 733.6 353 734.1 354.2 734.5 355.4 736.1 356.6 736 357.8 736.3 359 736.5 360.2 735.7 361.4 736 362.6 735.4 363.8 734.9 365 735.2 366.2 734.9 367.4 733.4 368.6 733.9 369.8 734.3 371 735.9 372.2 736.4 373.4 736.4 374.6 737.1 375.8 737.7 377 738.9 378.2 738 379.4 738.5 380.6 738.4 381.8 738.7 383 738.7 384.2 739 385.4 738.2 386.6 739.1 387.8 738.5 389 738.6 390.2 738.1 391.4 737.8 392.6 737.9 393.8 737.5 395 737.2 396.2 737.5 397.4 737 398.6 736 399.8 736.1 401 736.1 402.2 736.5 403.4 736.7 404.6 736.5 405.8 736.1 407 737.5 408.2 737.3 409.4 737.8 410.6 738.3 411.8 738.4 413 738.4 414.2 739.1 415.4 738.5 416.6 738.6 417.8 739.4 419 738.6 420.2 738.8 421.4 739.7 422.6 738 423.8 737.9 425 736.5 426.2 735 427.4 733.6 428.6 732.6 429.8 730.8 431 727.6 432.2 726.1 433.4 724.1 434.6 723.8 435.8 724.2 437 724.5 438.2 725.7 439.4 726.6 440.6 726.2 441.8 727 443 728.2 444.2 728.4 445.4 728.5 446.6 728 447.8 729.2 449 729.9 450.2 728.4 451.4 724 452.6 719.2 453.8 716.3 455 711.4 456.2 707.9 457.4 703.9 458.6 699.1 459.8 693.8 461 689.6 462.2 688.6 463.4 688.1 464.6 689.4 465.8 689.7 467 690 468.2 691.2 469.4 691 470.6 690.1 471.8 689.2 473 687.6 474.2 680.2 475.4 669 476.6 673.7 477.8 679.8 479 684.7 480.2 687.7 481.4 687.8 482.6 688.5 483.8 688.6 485 689.4 486.2 688.9 487.4 688.7 488.6 689.8 489.8 689.4 491 690.5 492.2 690.8 493.4 691.8 494.6 691.7 495.8 692.3 497 692.2 498.2 693.1 499.4 693.1 500.6 694.3 501.8 694.4 503 694.3 504.2 694.9 505.4 695.4 506.6 694.7 507.8 692.7 509 692.3 510.2 691 511.4 688.9 512.6 688.5 513.8 688.6 515 691.7 516.2 695.3 517.4 697.8 518.6 701.7 519.8 704.1 521 706.9 522.2 708 523.4 706.9 524.6 707.9 525.8 707 527 707.1 528.2 708.2 529.4 707.9 530.6 707.2 531.8 707.1 533 708.3 534.2 707.8 535.4 708 536.6 707.1 537.8 707.9 539 707.7 540.2 707.7 541.4 708.1 542.6 708.6 543.8 708.5 545 708.7 546.2 708.5 547.4 709.7 548.6 709.6 549.8 710.3 551 710.4 552.2 711.6 553.4 711.7 554.6 712.5 555.8 713 557 713.9 558.2 714 559.4 714.2 560.6 714.7 561.8 715.2 563 715.2 564.2 716.6 565.4 716.2 566.6 716.8 567.8 716 569 716.8 570.2 717.6 571.4 717.4 572.6 717.4 573.8 716.4 575 714.7 576.2 713.6 577.4 712.4 578.6 711.5 579.8 710.3 581 710 582.2 708.7 583.4 708.5 584.6 708.3 585.8 707.8 587 707.7 588.2 707.3 589.4 708.2 590.6 708.4 591.8 710.6 593 710.7 594.2 712.3 595.4 712.9 596.6 713.7 597.8 712.9 599 712.9 600.2 711.1 601.4 711.3 602.6 710.2 603.8 710.1 605 709.6 606.2 708.2 607.4 707.7 608.6 706.8 609.8 706.5 611 705.7 612.2 705.6 613.4 705.6" stroke="#00f" stroke-width="4.4" filter="url(#lsh2)"/><path d="M36.5 618.5v4.8M38 620.9v7.2M39.5 620.2v5.1M41 612.7v8M42.5 616.6v6.5M44 622.9v4M45.5 615.2v6.9M47 611.5v8M48.5 609.6v5.2M50 612.9v9M51.5 609.1v8.4M53 607.7v4.2M54.5 608.3v6.5M56 602.8v8.8M57.5 609.1v4.8M59 608.4v4.6M60.5 605.4v6.3M62 610.1v5.7M63.5 607v4.9M65 606.7v8.3M66.5 611.6v7.9M68 610.1v8.8M69.5 614.7v7.8M71 613.7v6.9M72.5 612.9v4.6M74 612.2v8.1M75.5 616.1v8.6M77 611.4v6M78.5 608.1v6.3M80 604.5v9M81.5 603.5v4.1M83 598.8v7.6M84.5 594v6.5M86 589.4v6.8M87.5 584.3v5.1M89 576.4v6.8M90.5 576.4v4.9M92 591.3v5.7M93.5 591.9v5.7M95 584.1v5.5M96.5 586.6v4.3M98 585.9v7.9M99.5 581.6v7.4M101 587v8.5M102.5 597v6M104 610.3v8.8M105.5 619.1v8.4M107 625.4v5.9M108.5 628.5v8.4M110 633.9v4.3M111.5 625.2v7.9M113 623.8v8.2M114.5 612.8v5.3M116 608.6v6.1M117.5 607v4.3M119 616.4v8.5M120.5 614.2v7.7M122 612.1v5.3M123.5 604.9v6.6M125 601.5v4.1M126.5 605.7v8.2M128 609v8.4M129.5 610.6v6.1M131 603.4v8.2M132.5 596.9v6.7M134 594.6v7.8M135.5 596.4v7.4M137 595.3v4.1M138.5 588.5v7.2M140 582.8v6.9M141.5 586.4v6M143 587.2v8.5M144.5 594.9v4.5M146 593.8v4.1M147.5 591.8v4.7M149 591.6v7.3M150.5 587.3v6.7M152 584.4v6.5M153.5 585.1v4.8M155 585.1v5.9M156.5 579.1v6.8M158 584.3v7.6M159.5 587.9v7.9M161 584.5v4M162.5 584.7v4.3M164 573.9v4.9M165.5 571.9v8.4M167 563.4v8.9M168.5 549v9.5M170 536.2v13.6M171.5 532.3v10.4M173 524.4v14M174.5 522.9v11.2M176 518.4v12.3M177.5 510v8.9M179 500.4v10.6M180.5 479.6v6.9M182 448.5v14.2M183.5 450.2v8.9M185 481.7v7.3M186.5 496v7M188 497.6v12.5M189.5 485v11.4M191 473.6v11.6M192.5 468.4v10.5M194 465v9.6M195.5 483.7v6.8M197 499.2v8.4M198.5 524.6v12.9M200 519.8v10M201.5 512.5v9.5M203 532.9v11.5M204.5 543v7.1M206 521.6v10.3M207.5 503v13.5M209 501.7v11.4M210.5 513.4v11.7M212 514.7v12M213.5 528.2v8.4M215 534v9.5M216.5 540.3v13M218 540v14.3M219.5 540.4v8.9M221 539.5v9.5M222.5 522.3v10.8M224 519.3v8.8M225.5 506.5v12.3M227 513.1v7.3M228.5 513.1v12M230 520.8v9.1M231.5 511.1v11.9M233 516v14M234.5 528v8.4M236 526.7v7.6M237.5 528.3v8M239 536.6v8.6M240.5 538.8v13.9M242 558.4v9.9M243.5 555.8v8.6M245 560.2v9.5M246.5 577.4v7.9M248 580.9v6.7M249.5 582.8v13.9M251 573.3v4.1M252.5 568.1v4.2M254 557.8v7.5M255.5 570.2v4M257 570.8v4.5M258.5 578.5v6.3M260 572.9v5.9M261.5 578.1v8M263 576v6.6M264.5 579.8v4.9M266 580.2v6.8M267.5 582.2v8M269 578.8v8.6M270.5 584.7v4.1M272 585.7v4.4M273.5 582.9v7.7M275 583.7v4.9M276.5 584v8.1M278 578.3v7.1M279.5 574.7v8M281 576.9v5.3M282.5 580.3v5.5M284 579.4v8.5M285.5 586.8v4.3M287 590.4v7.4M288.5 598.6v5.3M290 602.5v4.2M291.5 601.1v7.4M293 596.1v4.8M294.5 589.8v8.7M296 590.9v6M297.5 591.6v7.6M299 595.1v4.4M300.5 595.2v5.1M302 597v5.8M303.5 591.7v7.1M305 596.2v7.5M306.5 602.9v4.8M308 601.1v8M309.5 599.9v7.4M311 604.4v7.9M312.5 602.8v6.7M314 603.5v8.9M315.5 607v8.7M317 604.6v8M318.5 605.5v5.8M320 604.9v7M321.5 606.1v7.2M323 607.7v8.7M324.5 603.8v8.4M326 600.4v9M327.5 603.5v7.9M329 599.1v8.4M330.5 603.4v4.4M332 601.7v4.9M333.5 590.7v8.1M335 592.2v4.7M336.5 590.5v6.1M338 588.2v4.1M339.5 580.6v5.1M341 581.4v8.6M342.5 580.1v8.5M344 584.1v4.6M345.5 587.6v6.1M347 592.6v7.9M348.5 589.3v7.3M350 596.3v6.2M351.5 594.5v6.4M353 590v6.7M354.5 595.3v4.2M356 594.6v6.9M357.5 591.4v7.7M359 587.2v9M360.5 586.4v6M362 591.3v7.3M363.5 596v6.9M365 594v5M366.5 598v7.7M368 594.2v6.4M369.5 601.4v5.9M371 600.1v6.5M372.5 600.3v5.9M374 593v7M375.5 595.2v8.3M377 590.7v5.9M378.5 592.6v7.9M380 590.8v8.6M381.5 596.7v8.2M383 596.1v4.4M384.5 589v7.2M386 593.1v8.2M387.5 595.8v7.4M389 597.4v5.1M390.5 598.5v6.5M392 598.8v5.1M393.5 599.2v5.7M395 599.1v5.8M396.5 597.7v4.7M398 599.8v7.5M399.5 603.7v4.6M401 598.2v7.3M402.5 604.9v7.6M404 606.6v6.2M405.5 603.4v8.8M407 606v7.2M408.5 607.5v5.8M410 602.8v7.8M411.5 602.8v6.3M413 603.4v5.1M414.5 605.5v4.1M416 600.9v6.3M417.5 599.6v6.9M419 602.2v4.4M420.5 605.9v4.8M422 602.4v5.6M423.5 601.9v5.1M425 602.9v4.9M426.5 606.6v7.1M428 604.7v5.1M429.5 594.1v6.7M431 593.1v6M432.5 586.6v5M434 581v6.7M435.5 584v5.2M437 587.4v4.5M438.5 589v6.9M440 592.5v6.6M441.5 590.2v4M443 594.1v5.6M444.5 593.5v5.8M446 589.2v4.2M447.5 597.5v8.5M449 605v6.9M450.5 617.2v8.6M452 604.6v8.8M453.5 597v7.6M455 595.8v4.8M456.5 584.8v9.1M458 584.6v7.4M459.5 562v5.3M461 554v5.6M462.5 531.1v10M464 546.6v5.9M465.5 556v5.7M467 553.9v7.8M468.5 557.4v7.3M470 553.6v7.7M471.5 546.3v8.9M473 541.7v8.5M474.5 541v6.2M476 529.2v6.9M477.5 545.2v6.2M479 547.1v7.7M480.5 548.2v5.2M482 542.8v10.4M483.5 547.1v9.2M485 542.2v9.1M486.5 538.1v9.6M488 541.7v7.3M489.5 559.4v8.7M491 558.2v9.3M492.5 561.7v7.1M494 559.6v10.3M495.5 570.8v9.2M497 569.6v9.2M498.5 557.5v10.5M500 557.3v11.2M501.5 564.3v7.4M503 567.5v6M504.5 560.5v8.9M506 565.6v6.7M507.5 556.6v8.8M509 557.5v9.9M510.5 551.7v10.6M512 552.5v11.1M513.5 564.1v9.4M515 569.3v11.1M516.5 570.5v7.7M518 572.9v6.8M519.5 575.6v7.4M521 589.7v5M522.5 589.9v7.8M524 591.1v5.3M525.5 587.5v5.7M527 582.9v6.8M528.5 577v9.4M530 572.5v7.4M531.5 570.4v5.7M533 565.8v9.4M534.5 559v11.1M536 564.4v8.9M537.5 570.4v9.4M539 566.1v5.8M540.5 559.1v10.9M542 561.2v9M543.5 557.8v6.7M545 558.9v5M546.5 561.3v6M548 559.6v6.3M549.5 552.1v10M551 554.7v8.6M552.5 556.3v10.3M554 563.1v8.9M555.5 560.7v9.8M557 564.3v10.8M558.5 557.7v6.6M560 560.6v7.5M561.5 557.7v10.3M563 556.9v9.6M564.5 565.4v7M566 563.6v7.7M567.5 556.7v11.2M569 565.3v11M570.5 551.6v7.9M572 538.1v9.9M573.5 535.9v8.8M575 530v10.5M576.5 527.9v5.5M578 535.3v8M579.5 544.2v6M581 534.2v5.8M582.5 527.3v9.5M584 522.1v6.9M585.5 515.6v9M587 518.9v5.4M588.5 515.6v11M590 522.3v8.6M591.5 525.9v8.8M593 533.3v7.8M594.5 526.8v6.2M596 517.9v9.8M597.5 517.2v5.4M599 514.2v6M600.5 519.8v7M602 524.4v7.2M603.5 517.7v5.7M605 505.2v5.3M606.5 502.1v6.3M608 498.2v7.1M609.5 494.2v10.2M611 488.5v8" stroke="#00f" stroke-width="1" fill="none" stroke-linecap="butt"/><path d="M37 200.8v6.4M39 208.3v3.1M41 205.8v3.6M43 205.2v5.3M45 204.4v6.1M47 204v6.4M49 208v5.1M51 206.3v5.4M53 202.6v5.5M55 205.1v6.1M57 205.3v4.1M59 206v6M61 204.2v6.3M63 204.5v6.4M65 205.4v5.4M67 206.9v3.9M69 207.1v4.1M71 204.4v6.3M73 203.9v3.5M75 201.2v5.3M77 201.8v3.2M79 200.4v3.1M81 196.4v4.8M83 192.9v4.4M85 187.6v6.2M87 188v4.3M89 185.5v4M91 185.5v4.9M93 186v5.4M95 192.8v3.3M97 189.1v4.2M99 187.4v4.4M101 186.8v6.3M103 193.4v4.4M105 195.2v6.1M107 199.7v4.9M109 198.3v4.1M111 196.7v3.7M113 194.3v4.9M115 191.3v5.3M117 185.1v5.4M119 188.7v4.4M121 188.1v6.2M123 188.2v6M125 187.3v4.8M127 188.1v6.5M129 188.5v4.7M131 183.4v5.3M133 185.7v5.7M135 184.8v5.1M137 181v3.1M139 176.1v5.2M141 173.3v3.6M143 172.6v4.5M145 178.4v3.1M147 177v4.2M149 174.5v3.8M151 173.7v6M153 170.6v4M155 169.6v4.6M157 171.6v4.2M159 170.6v6.2M161 168.8v3.1M163 163.8v6M165 165.5v3.7M167 164v4.3M169 160.8v5.5M171 160.3v3.9M173 160.3v3.9M175 161v5.3M177 163.7v6.1M179 159.6v3.2M181 152.9v5.1M183 150v4.7M185 149.2v5.7M187 148.3v5.2M189 146v6M191 140.7v4.9M193 132.6v4.2M195 130.3v5.9M197 143v4.3M199 145.8v3.6M201 138.9v6.1M203 143.8v4.3M205 145.9v4.8M207 142.5v4M209 137.2v5.9M211 142.9v5.4M213 143.6v6.4M215 150.1v4.4M217 146.9v5.7M219 147.4v5.3M221 147v3.6M223 141.9v4.3M225 141.2v4.8M227 137.8v3.5M229 140.7v6M231 143.6v4.8M233 144.3v3.1M235 142.5v5.4M237 140.8v5.9M239 145.4v3.2M241 152.2v4.8M243 161.6v6.2M245 167.1v5.2M247 170.2v4.2M249 167.2v6.3M251 163.2v6.2M253 158.9v5.3M255 162.9v4M257 165.7v3.2M259 166.3v4M261 168.4v4.1M263 169.3v4.6M265 169.2v3.6M267 166v4.5M269 162v5.8M271 164.6v4.9M273 161.3v6.4M275 166.9v3.1M277 164.5v4.8M279 166.3v3.4M281 167.2v4.1M283 171.2v3.2M285 167.4v5.9M287 170.9v4.7M289 172.5v4.8M291 172.9v4.2M293 170v6.2M295 170v4.6M297 170v3.2M299 171.5v5.8M301 171.2v4.3M303 174.9v3M305 174.1v3.5M307 174v5.7M309 178.6v4.7M311 174.4v5.2M313 175.5v6.2M315 176v4.1M317 174.9v5.4M319 178v4.2M321 176.6v4.9M323 181.8v4.4M325 178.2v4.9M327 176v3.9M329 169.7v5.7M331 170.6v4.9M333 168.5v5M335 167.9v3.8M337 168.4v4.2M339 167.7v4.3M341 161.9v5M343 163.3v4.5M345 163.3v5.6M347 164.9v5.1M349 166.4v5.7M351 172.8v5.4M353 175.3v3.8M355 173v4.3M357 171.1v3.9M359 173.2v4.5M361 170.9v3.6M363 169.1v4.8M365 170.2v3.4M367 168.4v4.7M369 168v3.3M371 168.3v3.9M373 167.8v4.6M375 163.9v5M377 167.7v3.6M379 164.6v3.2M381 164.7v3.2M383 164.8v4.9M385 161.7v5.2M387 163.7v4.5M389 164.1v3.8M391 162v4.4M393 166.4v4.2M395 168.2v3.5M397 168.5v6.2M399 170.2v6.2M401 173.8v4.9M403 175v6.3M405 171.7v4.6M407 172.6v3.3M409 169.3v6M411 169.5v4M413 167.4v5.8M415 170.7v4M417 167.9v3.1M419 167.1v4.1M421 165.2v4.6M423 165.2v3.1M425 165v3.9M427 161.5v5.8M429 157.2v4.1M431 155.8v5.6M433 153.1v3.3M435 152.7v3.8M437 151.9v4.4M439 151.7v6.1M441 152.7v6.1M443 154.5v3M445 147.1v5.8M447 145.9v6.1M449 146v3.1M451 143.6v4.1M453 139.4v5.9M455 138.4v4.2M457 137.7v3.8M459 130.2v4.5M461 121.9v5.3M463 125.3v6.1M465 130v4.5M467 128.4v4.2M469 129.3v3.4M471 130.5v3.8M473 132v4.2M475 133.5v4M477 137.5v4.1M479 139.3v6.2M481 137.7v3.7M483 136.7v3.9M485 131v6.3M487 133.9v3.2M489 133.1v5M491 139.5v4.5M493 141v3M495 137.6v5.4M497 135.4v4.7M499 131.7v4.8M501 132.1v4.8M503 131.4v4.1M505 132.1v3.6M507 128.4v4.9M509 122.9v4.9M511 122v3.8M513 127.4v5.1M515 132.3v5.4M517 130.8v5M519 137.6v4.1M521 137.7v4.3M523 140.5v4.5M525 140v3.3M527 142.3v4.7M529 139.2v4.4M531 132.9v5.7M533 134.1v4M535 129.6v6M537 127.3v4.1M539 124.9v4.3M541 122.8v4M543 119.3v6.4M545 120.6v3.3M547 124.3v6.4M549 125.3v4.4M551 129.6v5.7M553 133v4.7M555 126.5v5.7M557 126.3v4.5M559 124.5v4.3M561 120v4.7M563 112.3v5.7M565 115.1v4.2M567 117.1v4.7M569 114.5v6.3M571 108v4.9M573 101.5v4.9M575 97.3v5.1M577 97v4.4M579 98.8v5.7M581 99.2v6.2M583 95.4v6.3M585 84.1v5M587 83.5v3.1M589 78.5v5.6M591 77.2v5.7M593 80.2v5.4M595 77.4v4.4M597 66.1v4.4M599 64.8v3.2M601 55.4v3.7M603 38v4.8M605 36.2v3.3M607 38.6v5.6M609 37.6v5.6M611 36.9v3.5" stroke="#00f" stroke-width="1" fill="none" stroke-linecap="butt"/><path d="M602.3 40L603.8 35.8L606 39L608 37.5L610 39.5L612 37.5L613 38.5V49L610.5 47.5L608.5 50.5L606 48L604.5 51.5L602.8 50Z" fill="#00f" stroke="none"/></g><g stroke="#000" fill="none" shape-rendering="crispEdges"><path d="M35 229.5H655.5" stroke-width="1"/><path d="M35 427.5H655.5" stroke-width="1"/><path d="M35 652.5H655.5" stroke-width="1"/><path d="M35 795.2H655.5" stroke-width="1.6"/><path d="M613.5 19V652" stroke-width="1.2"/><path d="M614 652V795" stroke-width="1.6"/><path d="M654.8 652V795.5" stroke-width="1.4"/><path d="M613.5 34.5H620.6" stroke-width="1"/><path d="M613.5 65H620.6" stroke-width="1"/><path d="M613.5 95.5H620.6" stroke-width="1"/><path d="M613.5 126H620.6" stroke-width="1"/><path d="M613.5 156.5H620.6" stroke-width="1"/><path d="M613.5 187H620.6" stroke-width="1"/><path d="M613.5 217.5H620.6" stroke-width="1"/><path d="M613.5 272.5H620.6" stroke-width="1"/><path d="M613.5 307.4H620.6" stroke-width="1"/><path d="M613.5 342.3H620.6" stroke-width="1"/><path d="M613.5 377.2H620.6" stroke-width="1"/><path d="M613.5 412.1H620.6" stroke-width="1"/><path d="M613.5 442.5H620.6" stroke-width="1"/><path d="M613.5 489.4H620.6" stroke-width="1"/><path d="M613.5 536.3H620.6" stroke-width="1"/><path d="M613.5 583.2H620.6" stroke-width="1"/><path d="M613.5 630.1H620.6" stroke-width="1"/><path d="M613.5 677H620.6" stroke-width="1"/><path d="M613.5 708.1H620.6" stroke-width="1"/><path d="M613.5 739.2H620.6" stroke-width="1"/><path d="M613.5 770.3H620.6" stroke-width="1"/><path d="M615 28.4H616.4" stroke-width="1.2"/><path d="M615 34.5H616.4" stroke-width="1.2"/><path d="M615 40.6H616.4" stroke-width="1.2"/><path d="M615 46.7H616.4" stroke-width="1.2"/><path d="M615 52.8H616.4" stroke-width="1.2"/><path d="M615 58.9H616.4" stroke-width="1.2"/><path d="M615 65H616.4" stroke-width="1.2"/><path d="M615 71.1H616.4" stroke-width="1.2"/><path d="M615 77.2H616.4" stroke-width="1.2"/><path d="M615 83.3H616.4" stroke-width="1.2"/><path d="M615 89.4H616.4" stroke-width="1.2"/><path d="M615 95.5H616.4" stroke-width="1.2"/><path d="M615 101.6H616.4" stroke-width="1.2"/><path d="M615 107.7H616.4" stroke-width="1.2"/><path d="M615 113.8H616.4" stroke-width="1.2"/><path d="M615 119.9H616.4" stroke-width="1.2"/><path d="M615 126H616.4" stroke-width="1.2"/><path d="M615 132.1H616.4" stroke-width="1.2"/><path d="M615 138.2H616.4" stroke-width="1.2"/><path d="M615 144.3H616.4" stroke-width="1.2"/><path d="M615 150.4H616.4" stroke-width="1.2"/><path d="M615 156.5H616.4" stroke-width="1.2"/><path d="M615 162.6H616.4" stroke-width="1.2"/><path d="M615 168.7H616.4" stroke-width="1.2"/><path d="M615 174.8H616.4" stroke-width="1.2"/><path d="M615 180.9H616.4" stroke-width="1.2"/><path d="M615 187H616.4" stroke-width="1.2"/><path d="M615 193.1H616.4" stroke-width="1.2"/><path d="M615 199.2H616.4" stroke-width="1.2"/><path d="M615 205.3H616.4" stroke-width="1.2"/><path d="M615 211.4H616.4" stroke-width="1.2"/><path d="M615 217.5H616.4" stroke-width="1.2"/><path d="M615 223.6H616.4" stroke-width="1.2"/><path d="M615 237.6H616.4" stroke-width="1.2"/><path d="M615 244.6H616.4" stroke-width="1.2"/><path d="M615 251.6H616.4" stroke-width="1.2"/><path d="M615 258.5H616.4" stroke-width="1.2"/><path d="M615 265.5H616.4" stroke-width="1.2"/><path d="M615 272.5H616.4" stroke-width="1.2"/><path d="M615 279.5H616.4" stroke-width="1.2"/><path d="M615 286.5H616.4" stroke-width="1.2"/><path d="M615 293.4H616.4" stroke-width="1.2"/><path d="M615 300.4H616.4" stroke-width="1.2"/><path d="M615 307.4H616.4" stroke-width="1.2"/><path d="M615 314.4H616.4" stroke-width="1.2"/><path d="M615 321.4H616.4" stroke-width="1.2"/><path d="M615 328.3H616.4" stroke-width="1.2"/><path d="M615 335.3H616.4" stroke-width="1.2"/><path d="M615 342.3H616.4" stroke-width="1.2"/><path d="M615 349.3H616.4" stroke-width="1.2"/><path d="M615 356.3H616.4" stroke-width="1.2"/><path d="M615 363.2H616.4" stroke-width="1.2"/><path d="M615 370.2H616.4" stroke-width="1.2"/><path d="M615 377.2H616.4" stroke-width="1.2"/><path d="M615 384.2H616.4" stroke-width="1.2"/><path d="M615 391.2H616.4" stroke-width="1.2"/><path d="M615 398.1H616.4" stroke-width="1.2"/><path d="M615 405.1H616.4" stroke-width="1.2"/><path d="M615 412.1H616.4" stroke-width="1.2"/><path d="M615 419.1H616.4" stroke-width="1.2"/><path d="M615 442.5H616.4" stroke-width="1.2"/><path d="M615 451.9H616.4" stroke-width="1.2"/><path d="M615 461.3H616.4" stroke-width="1.2"/><path d="M615 470.6H616.4" stroke-width="1.2"/><path d="M615 480H616.4" stroke-width="1.2"/><path d="M615 489.4H616.4" stroke-width="1.2"/><path d="M615 498.8H616.4" stroke-width="1.2"/><path d="M615 508.2H616.4" stroke-width="1.2"/><path d="M615 517.5H616.4" stroke-width="1.2"/><path d="M615 526.9H616.4" stroke-width="1.2"/><path d="M615 536.3H616.4" stroke-width="1.2"/><path d="M615 545.7H616.4" stroke-width="1.2"/><path d="M615 555.1H616.4" stroke-width="1.2"/><path d="M615 564.4H616.4" stroke-width="1.2"/><path d="M615 573.8H616.4" stroke-width="1.2"/><path d="M615 583.2H616.4" stroke-width="1.2"/><path d="M615 592.6H616.4" stroke-width="1.2"/><path d="M615 602H616.4" stroke-width="1.2"/><path d="M615 611.3H616.4" stroke-width="1.2"/><path d="M615 620.7H616.4" stroke-width="1.2"/><path d="M615 630.1H616.4" stroke-width="1.2"/><path d="M615 639.5H616.4" stroke-width="1.2"/><path d="M615 648.9H616.4" stroke-width="1.2"/><path d="M614 658.3H617" stroke-width="1"/><path d="M614 664.6H617" stroke-width="1"/><path d="M614 670.8H617" stroke-width="1"/><path d="M614 677H617" stroke-width="1"/><path d="M614 683.2H617" stroke-width="1"/><path d="M614 689.4H617" stroke-width="1"/><path d="M614 695.7H617" stroke-width="1"/><path d="M614 701.9H617" stroke-width="1"/><path d="M614 708.1H617" stroke-width="1"/><path d="M614 714.3H617" stroke-width="1"/><path d="M614 720.5H617" stroke-width="1"/><path d="M614 726.8H617" stroke-width="1"/><path d="M614 733H617" stroke-width="1"/><path d="M614 739.2H617" stroke-width="1"/><path d="M614 745.4H617" stroke-width="1"/><path d="M614 751.6H617" stroke-width="1"/><path d="M614 757.9H617" stroke-width="1"/><path d="M614 764.1H617" stroke-width="1"/><path d="M614 770.3H617" stroke-width="1"/><path d="M614 776.5H617" stroke-width="1"/><path d="M614 782.7H617" stroke-width="1"/><path d="M614 789H617" stroke-width="1"/><path d="M122.5 795V809" stroke-width="1"/><path d="M166.8 795V809" stroke-width="1"/><path d="M211 795V809" stroke-width="1"/><path d="M255.2 795V809" stroke-width="1"/><path d="M299.5 795V809" stroke-width="1"/><path d="M343.8 795V809" stroke-width="1"/><path d="M388 795V809" stroke-width="1"/><path d="M432.2 795V809" stroke-width="1"/><path d="M476.5 795V809" stroke-width="1"/><path d="M520.8 795V809" stroke-width="1"/><path d="M565 795V809" stroke-width="1"/><path d="M609.2 795V809" stroke-width="1"/><path d="M110.6 795V798.3" stroke-width="1"/><path d="M114.6 795V798.3" stroke-width="1"/><path d="M118.6 795V798.3" stroke-width="1"/><path d="M122.6 795V798.3" stroke-width="1"/><path d="M126.6 795V798.3" stroke-width="1"/><path d="M130.7 795V798.3" stroke-width="1"/><path d="M134.7 795V798.3" stroke-width="1"/><path d="M138.7 795V798.3" stroke-width="1"/><path d="M142.7 795V798.3" stroke-width="1"/><path d="M146.7 795V798.3" stroke-width="1"/><path d="M150.8 795V798.3" stroke-width="1"/><path d="M154.8 795V798.3" stroke-width="1"/><path d="M158.8 795V798.3" stroke-width="1"/><path d="M162.8 795V798.3" stroke-width="1"/><path d="M166.8 795V798.3" stroke-width="1"/><path d="M170.9 795V798.3" stroke-width="1"/><path d="M174.9 795V798.3" stroke-width="1"/><path d="M178.9 795V798.3" stroke-width="1"/><path d="M182.9 795V798.3" stroke-width="1"/><path d="M186.9 795V798.3" stroke-width="1"/><path d="M191 795V798.3" stroke-width="1"/><path d="M195 795V798.3" stroke-width="1"/><path d="M199 795V798.3" stroke-width="1"/><path d="M203 795V798.3" stroke-width="1"/><path d="M207 795V798.3" stroke-width="1"/><path d="M211.1 795V798.3" stroke-width="1"/><path d="M215.1 795V798.3" stroke-width="1"/><path d="M219.1 795V798.3" stroke-width="1"/><path d="M223.1 795V798.3" stroke-width="1"/><path d="M227.1 795V798.3" stroke-width="1"/><path d="M231.2 795V798.3" stroke-width="1"/><path d="M235.2 795V798.3" stroke-width="1"/><path d="M239.2 795V798.3" stroke-width="1"/><path d="M243.2 795V798.3" stroke-width="1"/><path d="M247.2 795V798.3" stroke-width="1"/><path d="M251.3 795V798.3" stroke-width="1"/><path d="M255.3 795V798.3" stroke-width="1"/><path d="M259.3 795V798.3" stroke-width="1"/><path d="M263.3 795V798.3" stroke-width="1"/><path d="M267.3 795V798.3" stroke-width="1"/><path d="M271.4 795V798.3" stroke-width="1"/><path d="M275.4 795V798.3" stroke-width="1"/><path d="M279.4 795V798.3" stroke-width="1"/><path d="M283.4 795V798.3" stroke-width="1"/><path d="M287.4 795V798.3" stroke-width="1"/><path d="M291.5 795V798.3" stroke-width="1"/><path d="M295.5 795V798.3" stroke-width="1"/><path d="M299.5 795V798.3" stroke-width="1"/><path d="M303.5 795V798.3" stroke-width="1"/><path d="M307.5 795V798.3" stroke-width="1"/><path d="M311.6 795V798.3" stroke-width="1"/><path d="M315.6 795V798.3" stroke-width="1"/><path d="M319.6 795V798.3" stroke-width="1"/><path d="M323.6 795V798.3" stroke-width="1"/><path d="M327.6 795V798.3" stroke-width="1"/><path d="M331.7 795V798.3" stroke-width="1"/><path d="M335.7 795V798.3" stroke-width="1"/><path d="M339.7 795V798.3" stroke-width="1"/><path d="M343.7 795V798.3" stroke-width="1"/><path d="M347.7 795V798.3" stroke-width="1"/><path d="M351.8 795V798.3" stroke-width="1"/><path d="M355.8 795V798.3" stroke-width="1"/><path d="M359.8 795V798.3" stroke-width="1"/><path d="M363.8 795V798.3" stroke-width="1"/><path d="M367.8 795V798.3" stroke-width="1"/><path d="M371.9 795V798.3" stroke-width="1"/><path d="M375.9 795V798.3" stroke-width="1"/><path d="M379.9 795V798.3" stroke-width="1"/><path d="M383.9 795V798.3" stroke-width="1"/><path d="M387.9 795V798.3" stroke-width="1"/><path d="M392 795V798.3" stroke-width="1"/><path d="M396 795V798.3" stroke-width="1"/><path d="M400 795V798.3" stroke-width="1"/><path d="M404 795V798.3" stroke-width="1"/><path d="M408 795V798.3" stroke-width="1"/><path d="M412.1 795V798.3" stroke-width="1"/><path d="M416.1 795V798.3" stroke-width="1"/><path d="M420.1 795V798.3" stroke-width="1"/><path d="M424.1 795V798.3" stroke-width="1"/><path d="M428.1 795V798.3" stroke-width="1"/><path d="M432.2 795V798.3" stroke-width="1"/><path d="M436.2 795V798.3" stroke-width="1"/><path d="M440.2 795V798.3" stroke-width="1"/><path d="M444.2 795V798.3" stroke-width="1"/><path d="M448.2 795V798.3" stroke-width="1"/><path d="M452.3 795V798.3" stroke-width="1"/><path d="M456.3 795V798.3" stroke-width="1"/><path d="M460.3 795V798.3" stroke-width="1"/><path d="M464.3 795V798.3" stroke-width="1"/><path d="M468.3 795V798.3" stroke-width="1"/><path d="M472.4 795V798.3" stroke-width="1"/><path d="M476.4 795V798.3" stroke-width="1"/><path d="M480.4 795V798.3" stroke-width="1"/><path d="M484.4 795V798.3" stroke-width="1"/><path d="M488.4 795V798.3" stroke-width="1"/><path d="M492.5 795V798.3" stroke-width="1"/><path d="M496.5 795V798.3" stroke-width="1"/><path d="M500.5 795V798.3" stroke-width="1"/><path d="M504.5 795V798.3" stroke-width="1"/><path d="M508.5 795V798.3" stroke-width="1"/><path d="M512.6 795V798.3" stroke-width="1"/><path d="M516.6 795V798.3" stroke-width="1"/><path d="M520.6 795V798.3" stroke-width="1"/><path d="M524.6 795V798.3" stroke-width="1"/><path d="M528.6 795V798.3" stroke-width="1"/><path d="M532.7 795V798.3" stroke-width="1"/><path d="M536.7 795V798.3" stroke-width="1"/><path d="M540.7 795V798.3" stroke-width="1"/><path d="M544.7 795V798.3" stroke-width="1"/><path d="M548.7 795V798.3" stroke-width="1"/><path d="M552.8 795V798.3" stroke-width="1"/><path d="M556.8 795V798.3" stroke-width="1"/><path d="M560.8 795V798.3" stroke-width="1"/><path d="M564.8 795V798.3" stroke-width="1"/><path d="M568.8 795V798.3" stroke-width="1"/><path d="M572.9 795V798.3" stroke-width="1"/><path d="M576.9 795V798.3" stroke-width="1"/><path d="M580.9 795V798.3" stroke-width="1"/><path d="M584.9 795V798.3" stroke-width="1"/><path d="M588.9 795V798.3" stroke-width="1"/><path d="M593 795V798.3" stroke-width="1"/><path d="M597 795V798.3" stroke-width="1"/><path d="M601 795V798.3" stroke-width="1"/><path d="M605 795V798.3" stroke-width="1"/><path d="M609 795V798.3" stroke-width="1"/></g><path d="M612.6 22V31M612.6 233V243" stroke="#e00" stroke-width="1" stroke-dasharray="1.5 1.5" fill="none"/><path d="M613.6 429V436" stroke="#0cc" stroke-width="1" fill="none"/><g font-family="'Liberation Sans',sans-serif" font-size="12.2px" fill="#0a0a14" text-anchor="end" stroke="#0a0a14" stroke-width="0.25"><text x="652.3" y="38.9">3500</text><text x="652.3" y="69.4">3000</text><text x="652.3" y="99.9">2500</text><text x="652.3" y="130.4">2000</text><text x="652.3" y="160.9">1500</text><text x="652.3" y="191.4">1000</text><text x="652.3" y="221.9">500</text><text x="652.3" y="276.9">1200</text><text x="652.3" y="311.8">1000</text><text x="652.3" y="346.7">800</text><text x="652.3" y="381.6">600</text><text x="652.3" y="416.5">400</text><text x="654" y="447" font-size="12.6px">50.00</text><text x="654" y="493.9" font-size="12.6px">40.00</text><text x="654" y="540.8" font-size="12.6px">30.00</text><text x="654" y="587.7" font-size="12.6px">20.00</text><text x="654" y="634.6" font-size="12.6px">10.00</text><text x="652.3" y="681.5" font-size="12.6px">20000</text><text x="652.3" y="712.6" font-size="12.6px">15000</text><text x="652.3" y="743.7" font-size="12.6px">10000</text><text x="652.3" y="774.8" font-size="12.6px">5000</text></g><text x="543.8" y="44.8" font-family="'Liberation Sans',sans-serif" font-size="12.1px" fill="#444">3499.84</text><path d="M588.5 40.2C593 38.5 598 36.8 603 35.4M599.2 33.2L603.2 35.3L600.6 38.6" stroke="#333" stroke-width="0.9" fill="none"/><g font-family="'Liberation Sans',sans-serif" font-size="12.1px" fill="#000"><text x="108.6" y="808.4">/11</text><text x="124.1" y="808.4">2009/05</text><text x="168.3" y="808.4">2010/10</text><text x="212.6" y="808.4">2012/03</text><text x="256.9" y="808.4">2013/09</text><text x="301.1" y="808.4">2015/03</text><text x="345.4" y="808.4">2016/09</text><text x="389.6" y="808.4">2018/03</text><text x="433.9" y="808.4">2019/08</text><text x="478.1" y="808.4">2021/01</text><text x="522.4" y="808.4">2022/07</text><text x="566.6" y="808.4">2024/01</text></g><text x="36" y="808" font-family="'Liberation Serif','Noto Serif CJK SC',serif" font-size="12px" fill="#000" stroke="#000" stroke-width="0.17">威尔鑫咨询</text><text x="615.1" y="808.4" font-family="'Liberation Sans','Noto Sans CJK SC',sans-serif" font-size="10.6px" fill="#222" letter-spacing="0.2">日线</text><g fill="#0000ff" stroke="#0000ff" stroke-width="0.12" font-family="'Liberation Serif','Noto Serif CJK SC',serif" font-size="13.1px"><text x="40.3" y="242" letter-spacing="0.23">全球最大黄金</text><text x="120.3" y="241.8" font-size="13.6px" textLength="53" lengthAdjust="spacingAndGlyphs">ETF-SPDR</text><text x="173.6" y="242" letter-spacing="0.23">持仓:</text><text x="252.6" y="241.8" font-size="13.4px" textLength="40" lengthAdjust="spacing">994.56</text><text x="296.6" y="242">吨</text><text x="324.6" y="242" letter-spacing="0.23">市值:</text><text x="365.4" y="241.8" font-size="13.4px" textLength="46.7" lengthAdjust="spacing">1170.79</text><text x="420.6" y="242" letter-spacing="0.23">亿美元</text><text x="474.6" y="242" letter-spacing="0.23">上周五持仓:</text><text x="550.4" y="241.8" font-size="13.4px" textLength="40" lengthAdjust="spacing">974.80</text><text x="594.5" y="242">吨</text></g><g fill="#0000ff" stroke="#0000ff" stroke-width="0.12" font-family="'Liberation Serif','Noto Serif CJK SC',serif" font-size="13.1px"><text x="46.4" y="670" letter-spacing="0.23">全球最大白银</text><text x="126.4" y="669.8" font-size="13.6px" textLength="73" lengthAdjust="spacingAndGlyphs">ETF-Ishares</text><text x="199.7" y="670" letter-spacing="0.23">持仓:</text><text x="240.8" y="669.8" font-size="13.4px" textLength="53.3" lengthAdjust="spacing">15205.14</text><text x="303.6" y="670">吨</text><text x="330.1" y="670" letter-spacing="0.23">市值:</text><text x="371" y="669.8" font-size="13.4px" textLength="40" lengthAdjust="spacing">207.23</text><text x="419.9" y="670" letter-spacing="0.23">亿美元</text><text x="486.1" y="670" letter-spacing="0.23">上周五持仓:</text><text x="559" y="669.8" font-size="13.4px" textLength="53.3" lengthAdjust="spacing">15069.60</text><text x="621.6" y="670">吨</text></g><g><rect x="55" y="53.5" width="171" height="39.5" fill="#fff"/><g filter="url(#blur05)"><path d="M51.6 47.3L56.8 52V95.8H51.6Z" fill="url(#dbl)"/><rect x="52" y="90.2" width="182.5" height="5.6" fill="url(#dbb)"/><rect x="60" y="51.3" width="166.5" height="2.8" fill="url(#dbt)"/><rect x="224.8" y="53" width="3" height="32" fill="#222"/></g></g><text class="dt" y="76.6" fill="#0000ff" stroke="#0000ff" stroke-width="0.3" font-family="'Liberation Sans','Noto Sans CJK SC',sans-serif" font-weight="bold" font-size="17px"><tspan x="65.5" letter-spacing="0.3">截止</tspan><tspan x="101.6">:</tspan><tspan x="108.4" y="76.8" font-size="15.5px">2025</tspan><tspan x="143.3" y="76.6">年</tspan><tspan x="160.3" y="76.8" font-size="15.5px">9</tspan><tspan x="169.3" y="76.6">月</tspan><tspan x="186.3" y="76.8" font-size="15.5px">19</tspan><tspan x="203.9" y="76.6">日</tspan></text><rect x="287.8" y="49.5" width="84.2" height="77.2" rx="11" fill="#000" opacity="0.55" filter="url(#blur2)"/><rect x="291.3" y="46" width="84.2" height="77.2" rx="11" fill="#3c0000"/><rect x="295.8" y="46.3" width="79.4" height="72.2" rx="10" fill="url(#redg)" filter="url(#blur1)"/><g fill="#7a5a00" transform="translate(-0.9 0.9)" font-family="'Liberation Serif','Noto Serif CJK SC',serif" font-weight="bold" font-size="20px"><text x="303.6" y="72.5" letter-spacing="-0.8">国际现</text><text x="303.6" y="91.6" letter-spacing="-0.8">货金价</text><text x="303.6" y="110.7">日</text><text x="332.5" y="110.4" font-size="18px" textLength="9.6" lengthAdjust="spacingAndGlyphs">K</text><text x="342" y="110.7">线</text></g><g fill="#ffee00" font-family="'Liberation Serif','Noto Serif CJK SC',serif" font-weight="bold" font-size="20px"><text x="303.6" y="72.5" letter-spacing="-0.8">国际现</text><text x="303.6" y="91.6" letter-spacing="-0.8">货金价</text><text x="303.6" y="110.7">日</text><text x="332.5" y="110.4" font-size="18px" textLength="9.6" lengthAdjust="spacingAndGlyphs">K</text><text x="342" y="110.7">线</text></g><rect x="342.8" y="460.2" width="79.3" height="71.6" rx="11" fill="#000" opacity="0.55" filter="url(#blur2)"/><rect x="346.3" y="456.7" width="79.3" height="71.6" rx="11" fill="#3c0000"/><rect x="350.8" y="457.0" width="74.5" height="66.6" rx="10" fill="url(#redg)" filter="url(#blur1)"/><g fill="#7a5a00" transform="translate(-0.9 0.9)" font-family="'Liberation Serif','Noto Serif CJK SC',serif" font-weight="bold" font-size="20.2px"><text x="356.2" y="479.5" letter-spacing="-0.8">国际现</text><text x="356.2" y="498.4" letter-spacing="-0.8">货银价</text><text x="356.2" y="517.3">日</text><text x="385.4" y="517" font-size="18.4px" textLength="9.7" lengthAdjust="spacingAndGlyphs">K</text><text x="395" y="517.3">线</text></g><g fill="#ffee00" font-family="'Liberation Serif','Noto Serif CJK SC',serif" font-weight="bold" font-size="20.2px"><text x="356.2" y="479.5" letter-spacing="-0.8">国际现</text><text x="356.2" y="498.4" letter-spacing="-0.8">货银价</text><text x="356.2" y="517.3">日</text><text x="385.4" y="517" font-size="18.4px" textLength="9.7" lengthAdjust="spacingAndGlyphs">K</text><text x="395" y="517.3">线</text></g><rect x="341.5" y="376.5" width="226" height="33" rx="10" fill="#000" opacity="0.5" filter="url(#blur2)"/><rect x="344.5" y="373" width="226" height="33" rx="10" fill="#00006a"/><rect x="346.5" y="373" width="224" height="30" rx="9" fill="#0000f4" filter="url(#blur05)"/><g fill="#6a5a00" transform="translate(-0.8 0.8)" font-family="'Liberation Serif','Noto Serif CJK SC',serif" font-weight="bold" font-size="20.4px"><text x="356.3" y="397.2" font-size="20px" textLength="43.5" lengthAdjust="spacingAndGlyphs">SPDR</text><text x="400.1" y="397.5" letter-spacing="-0.54">黄金持仓变化路线</text></g><g fill="#ffee10" font-family="'Liberation Serif','Noto Serif CJK SC',serif" font-weight="bold" font-size="20.4px"><text x="356.3" y="397.2" font-size="20px" textLength="43.5" lengthAdjust="spacingAndGlyphs">SPDR</text><text x="400.1" y="397.5" letter-spacing="-0.54">黄金持仓变化路线</text></g><rect x="355" y="754.5" width="225.5" height="35" rx="10" fill="#000" opacity="0.5" filter="url(#blur2)"/><rect x="358" y="751" width="225.5" height="35" rx="10" fill="#00006a"/><rect x="360" y="751" width="223.5" height="32" rx="9" fill="#0000f4" filter="url(#blur05)"/><g fill="#6a5a00" transform="translate(-0.8 0.8)" font-family="'Liberation Serif','Noto Serif CJK SC',serif" font-size="17.4px"><text x="374" y="776" font-size="17.1px" textLength="58" lengthAdjust="spacing">IShares</text><text x="435" y="776.3" font-weight="bold" letter-spacing="-0.58">白银持仓变化历史</text></g><g fill="#ffee10" font-family="'Liberation Serif','Noto Serif CJK SC',serif" font-size="17.4px"><text x="374" y="776" font-size="17.1px" textLength="58" lengthAdjust="spacing">IShares</text><text x="435" y="776.3" font-weight="bold" letter-spacing="-0.58">白银持仓变化历史</text></g><g transform="translate(140.5 210.5) rotate(-16.4) scale(1.12 1)" font-family="'Liberation Sans','Noto Sans CJK SC',sans-serif" font-weight="bold" font-size="21.5px"><g transform="translate(-3 4)" fill="#000" opacity="0.55" filter="url(#blur15)"><text x="0" y="0">成本浪潮</text></g><g fill="#ff6a00" stroke="#ff3000" stroke-width="3.65" stroke-linejoin="round" paint-order="stroke" class="ws"><text x="0" y="0">成本浪潮</text></g><g fill="#ffff00"><text x="0" y="0">成本浪潮</text></g></g><g transform="translate(151 627.8) rotate(-16.2) scale(1.12 1)" font-family="'Liberation Sans','Noto Sans CJK SC',sans-serif" font-weight="bold" font-size="21.5px"><g transform="translate(-3 4)" fill="#000" opacity="0.55" filter="url(#blur15)"><text x="0" y="0">成本浪潮</text></g><g fill="#ff6a00" stroke="#ff3000" stroke-width="3.65" stroke-linejoin="round" paint-order="stroke" class="ws"><text x="0" y="0">成本浪潮</text></g><g fill="#ffff00"><text x="0" y="0">成本浪潮</text></g></g>
</svg>
</body></html>
